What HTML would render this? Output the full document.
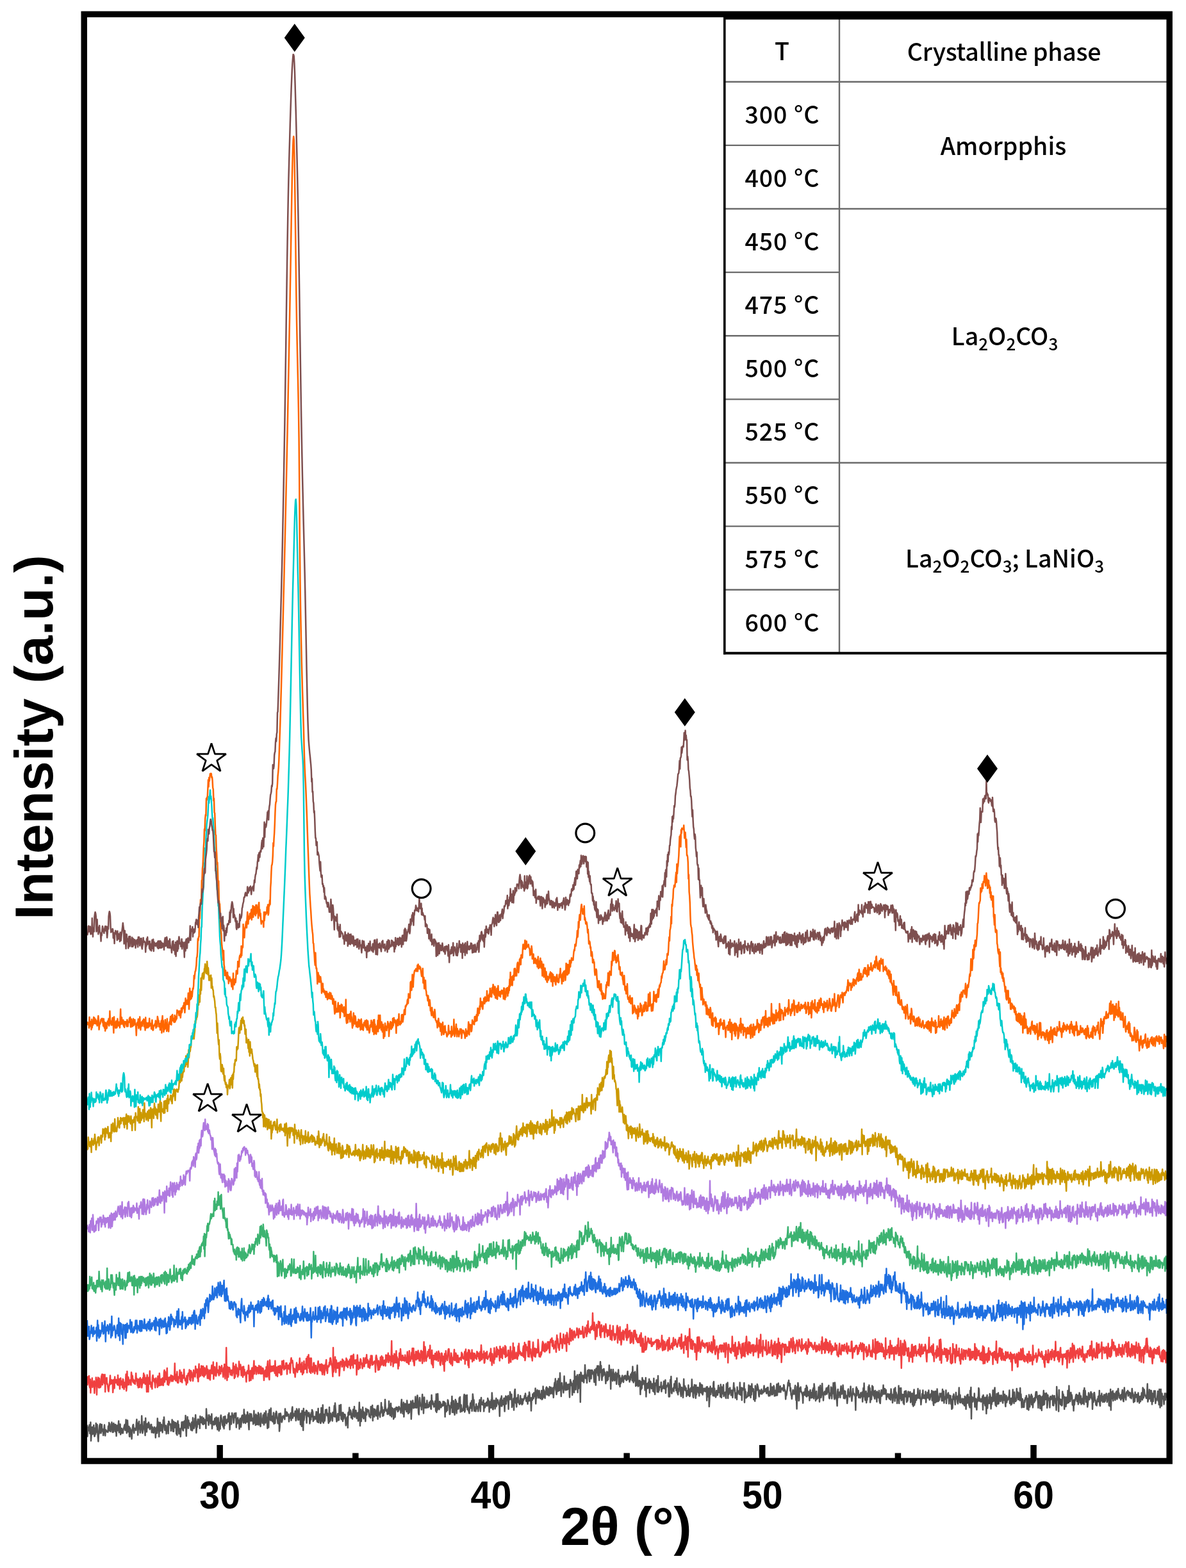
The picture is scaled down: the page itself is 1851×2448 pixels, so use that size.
<!DOCTYPE html>
<html><head><meta charset="utf-8"><title>XRD patterns</title>
<style>html,body{margin:0;padding:0;background:#fff;overflow:hidden;}svg{display:block;}</style>
</head><body>
<svg xmlns="http://www.w3.org/2000/svg" width="1851" height="2448" viewBox="0 0 1851 2448">
<rect width="1851" height="2448" fill="#fff"/>
<g fill="none" stroke-width="2.5" stroke-linejoin="round">
<path transform="translate(136,0) scale(0.6,0.5)" vector-effect="non-scaling-stroke" d="M0 4449 l1 36 1-29 1 8 1 3 1-9 1-9 1 27 1-4 1-31 1 58 1-19 1-23 1 22 1-23 1 10 1 11 1-27 1 24 1 11 1-1 1-25 1 19 1-34 1 20 1 8 1-24 1 17 1 24 1 12 1-25 1 1 1-25 1-3 1-3 1 27 1 2 1-19 1-8 1 20 1 1 1-6 1 19 1-19 1 1 1-15 1 17 1 17 1-18 1 0 1 5 1-2 1 3 1 0 1 1 1-19 1 15 1-26 1 25 1-21 1 16 1 8 1-13 1 7 1-23 1 10 1 21 1-25 1 25 1-28 1 6 1-2 1 15 1 7 1-22 1 12 1 24 1-29 1-4 1 16 1-8 1-7 1-15 1 36 1-19 1 8 1-15 1 32 1-7 1 3 1-15 1 8 1 5 1 2 1-10 1-5 1-4 1-5 1-3 1 18 1-9 1-24 1 25 1 17 1-18 1-22 1 24 1 12 1-8 1-9 1 31 1 1 1-27 1 12 1-6 1 5 1 23 1-22 1-10 1-10 1-3 1 11 1 16 1-12 1-3 1 3 1-3 1 6 1-22 1-12 1 21 1-10 1 38 1-24 1-2 1-17 1 24 1-12 1 24 1-4 1-22 1 16 1-43 1 28 1 26 1-6 1-7 1-4 1-19 1 1 1 21 1 21 1-54 1 38 1 0 1 5 1-25 1 5 1 7 1-14 1-3 1 5 1 11 1 6 1-6 1 1 1-10 1 0 1 25 1-16 1-1 1 14 1 4 1 0 1-11 1-7 1 5 1-2 1 30 1-28 1 4 1-9 1 19 1-46 1 33 1 5 1-26 1 45 1-32 1 0 1-12 1 26 1-9 1-11 1 11 1 6 1 8 1-14 1-25 1 14 1-23 1 21 1 20 1-4 1-8 1-3 1 26 1-18 1 9 1-7 1-15 1 30 1-38 1 1 1 10 1-4 1 2 1 0 1 21 1-13 1 4 1-26 1 10 1 26 1-31 1 32 1-30 1 18 1-15 1 14 1-15 1 8 1 27 1-32 1 36 1-34 1-10 1 17 1-6 1 29 1-12 1 4 1-8 1 25 1-23 1-3 1-19 1-1 1 15 1 10 1 2 1-28 1 20 1-3 1-20 1 22 1-38 1 34 1 30 1-47 1 14 1-27 1 16 1 20 1-25 1 14 1-5 1 0 1 8 1 3 1 10 1-5 1-19 1 26 1-2 1-38 1 30 1 2 1 1 1-6 1-25 1 14 1-25 1 26 1 30 1-19 1 2 1-18 1-7 1-1 1 16 1-13 1 2 1 24 1-38 1 4 1 11 1 5 1 0 1-18 1 22 1-5 1 7 1-20 1 18 1-1 1-12 1 6 1-5 1 26 1-61 1 23 1-4 1 18 1-5 1 4 1 15 1-32 1 11 1 8 1-14 1 22 1-1 1-14 1-15 1 46 1-16 1-1 1-5 1-1 1 11 1-11 1-9 1 18 1-9 1-11 1-2 1 28 1-7 1 18 1-34 1-3 1 15 1 26 1-23 1-3 1 20 1-36 1-7 1 7 1 6 1 9 1 9 1-9 1 15 1-32 1 37 1-37 1 27 1-29 1 18 1-4 1 6 1 3 1-13 1 1 1 7 1-23 1 7 1-12 1 22 1 30 1-20 1-22 1 2 1 23 1-20 1-15 1 8 1-1 1 1 1 23 1-9 1-21 1 13 1-8 1-1 1-5 1 45 1-28 1 12 1 4 1-18 1 13 1 0 1-5 1 27 1-26 1-7 1 12 1 15 1-10 1-21 1-5 1-1 1 4 1 18 1 2 1-42 1 30 1-15 1 25 1 3 1-23 1 4 1-7 1 22 1-31 1 7 1 6 1 26 1 16 1-33 1-17 1 18 1-13 1 18 1-22 1 10 1 5 1 7 1-8 1 18 1-15 1-27 1 38 1-17 1-5 1 29 1-34 1 15 1-11 1 28 1-23 1 8 1-22 1 38 1-34 1 27 1 2 1 2 1 8 1-41 1 21 1-3 1 4 1 9 1-14 1-12 1 9 1 22 1-37 1 17 1-14 1 28 1-37 1 18 1 2 1 4 1 30 1-11 1-35 1 43 1-46 1-9 1 5 1 23 1 5 1-38 1 36 1-9 1 13 1-15 1 17 1 1 1-29 1 35 1-16 1 7 1 7 1-31 1 12 1-18 1 6 1 17 1 1 1 13 1 1 1-19 1-12 1 55 1-14 1-31 1-11 1 7 1 9 1 12 1-3 1-7 1-9 1 5 1-6 1 5 1-3 1 9 1-33 1 21 1 1 1-12 1 13 1-12 1 5 1 5 1 1 1-5 1 23 1-12 1 1 1-1 1-12 1-3 1 23 1-16 1-20 1-6 1 35 1-15 1 9 1-6 1 2 1 3 1-15 1 17 1 13 1-4 1-33 1 5 1 1 1 14 1 15 1-7 1-28 1 24 1 10 1-17 1 32 1-35 1 25 1 16 1-49 1 13 1 12 1 36 1-68 1 37 1-9 1-10 1-6 1 4 1 3 1-13 1 39 1-37 1 10 1-4 1 4 1 7 1-12 1 7 1 27 1-9 1-19 1 16 1-22 1 13 1-22 1 3 1 4 1 29 1-12 1 8 1-11 1 3 1 1 1 4 1-8 1-15 1 2 1 27 1 3 1-12 1-30 1 44 1-17 1-5 1 1 1-6 1 29 1-1 1-47 1 22 1 6 1 14 1-51 1 55 1 1 1-27 1 4 1 17 1-12 1-23 1 2 1 2 1-5 1 19 1-7 1 7 1 9 1 15 1-21 1-29 1 45 1-21 1 17 1-22 1 11 1-6 1 1 1 18 1-27 1 12 1 0 1-12 1-21 1 35 1-43 1 18 1 14 1 12 1 14 1-9 1-3 1-13 1 21 1-20 1 19 1-46 1 18 1 5 1 8 1-33 1 44 1 2 1-3 1-18 1 27 1-27 1 20 1-13 1 0 1-2 1 2 1 15 1 18 1-13 1-8 1-3 1-3 1 34 1-46 1-3 1 9 1-23 1 19 1 3 1-14 1 6 1 18 1-13 1 4 1 13 1-22 1-8 1 15 1 6 1-30 1 33 1-13 1-1 1-7 1 10 1 15 1-6 1 4 1-16 1 26 1-4 1-18 1-36 1 37 1 36 1-38 1-13 1 37 1-32 1 15 1 4 1-31 1 22 1 14 1-21 1 13 1-9 1 14 1 11 1-40 1 11 1 9 1-14 1-3 1 6 1 1 1-5 1 13 1 7 1-1 1-2 1 7 1-35 1 17 1 4 1 5 1-30 1 48 1-38 1 15 1 7 1 4 1-24 1 2 1 12 1 3 1 4 1-13 1-9 1-9 1 41 1-42 1 28 1-6 1 6 1 3 1 5 1-19 1 6 1-32 1 27 1-14 1 10 1 19 1-15 1 13 1-18 1 8 1-11 1-29 1 24 1 6 1 6 1-2 1-2 1 14 1-4 1-15 1 18 1-40 1 23 1 2 1 20 1-26 1-12 1 22 1 20 1-28 1 4 1-2 1 3 1 30 1-4 1-21 1-8 1 27 1-24 1-1 1-6 1 1 1 7 1-7 1 13 1-9 1 6 1-13 1 3 1 5 1-2 1 0 1 14 1-30 1-12 1 36 1-14 1 22 1-20 1-15 1 45 1-24 1-12 1-5 1 18 1-17 1 14 1 10 1-35 1 14 1 11 1 16 1-10 1-19 1 26 1-26 1 3 1 7 1-20 1 56 1-26 1-13 1-11 1-8 1 20 1 4 1-15 1 3 1 10 1-9 1-25 1 34 1-6 1 7 1-21 1-18 1 11 1 21 1 24 1 4 1-28 1-25 1 16 1 10 1 0 1-5 1 17 1-31 1-17 1 17 1-4 1 46 1-33 1-17 1 28 1 5 1-13 1 2 1 11 1-2 1-21 1 17 1 5 1-8 1 7 1-4 1-11 1 1 1 11 1-16 1 23 1 2 1-44 1 27 1-9 1 2 1 10 1-4 1 11 1-3 1 1 1-16 1 6 1 25 1-53 1 57 1-31 1 24 1-51 1 29 1 18 1-10 1 12 1-25 1 4 1-1 1 16 1-1 1-7 1-2 1 0 1 5 1-14 1 12 1-1 1-10 1 5 1 42 1-43 1 14 1 13 1-8 1-10 1 14 1-33 1 3 1 11 1 3 1 1 1 27 1-2 1-24 1 5 1-16 1 17 1-36 1 50 1-26 1 15 1-25 1 37 1-11 1 18 1-25 1-23 1 11 1-6 1 38 1-30 1-1 1 18 1-4 1 3 1-14 1-20 1 9 1-12 1 47 1-5 1-17 1 13 1 7 1-7 1 4 1 0 1-11 1-32 1-7 1 55 1-4 1-48 1 37 1-15 1 5 1-28 1 45 1-11 1 12 1 3 1 3 1 5 1-19 1-1 1-12 1 16 1-10 1-13 1 32 1-7 1-46 1 11 1 22 1-15 1 35 1-13 1 3 1 5 1 6 1-23 1 13 1-6 1 8 1-4 1 12 1-12 1-14 1 8 1-18 1 20 1 16 1-29 1-14 1 21 1-6 1 7 1-8 1 9 1-15 1 35 1-25 1 10 1 3 1-13 1 8 1-9 1-3 1 3 1 9 1-24 1 5 1 1 1 3 1 34 1-28 1-4 1 6 1 13 1-25 1 24 1-46 1 19 1 32 1 1 1-17 1-11 1 17 1-17 1 26 1-5 1-6 1-22 1 25 1-17 1 0 1-3 1 4 1 8 1 4 1 0 1 35 1-51 1 20 1-25 1 6 1-13 1 32 1-13 1-2 1-4 1 14 1-20 1 13 1 28 1-36 1-7 1-5 1 25 1-11 1-11 1-1 1 11 1-14 1 42 1-31 1 0 1 1 1-24 1 5 1 15 1 4 1-16 1 40 1-17 1 11 1-2 1-19 1 36 1-31 1-28 1-6 1 32 1 11 1-11 1 23 1-28 1 12 1 2 1-24 1 18 1 1 1 9 1 2 1-3 1-24 1 20 1 4 1-14 1 18 1-8 1 5 1-15 1 5 1-4 1-2 1-9 1 4 1-11 1 12 1 12 1-1 1 2 1-12 1 20 1-25 1 16 1-5 1-23 1 7 1 20 1-10 1 3 1 38 1-35 1-6 1 8 1-19 1 6 1 8 1-18 1 11 1-3 1 4 1-26 1 48 1-26 1 9 1-22 1-4 1 17 1-5 1 13 1-22 1-1 1 17 1 5 1 3 1-14 1 4 1-15 1 28 1-3 1 0 1-38 1 34 1-23 1 17 1-2 1 11 1-20 1-3 1-9 1-3 1 24 1-21 1 21 1-15 1-3 1 21 1-2 1-26 1 11 1 2 1 9 1-20 1 4 1 4 1 10 1 3 1-20 1 31 1-19 1-17 1-11 1 14 1-26 1 35 1 4 1 10 1-11 1-31 1 19 1 13 1-39 1 18 1 19 1-8 1-47 1 38 1 7 1 28 1-35 1-7 1 15 1 1 1 3 1 12 1-21 1-31 1 32 1-1 1 13 1-3 1-21 1 20 1 3 1-17 1 15 1-10 1-1 1-5 1 13 1 28 1-33 1-22 1 12 1-5 1 12 1-7 1 36 1-24 1 15 1-36 1 7 1 30 1-67 1 40 1-23 1 41 1-41 1 15 1 1 1-21 1 55 1-36 1 24 1-33 1-11 1 22 1-1 1 65 1-93 1 2 1 11 1 12 1 3 1-18 1 4 1 11 1 7 1-24 1 9 1-40 1 24 1 18 1-7 1-3 1 24 1-27 1-12 1 17 1 0 1-19 1 28 1 9 1-32 1-4 1 10 1 17 1-25 1-2 1 1 1 11 1-1 1-5 1 18 1 14 1-39 1 22 1-11 1 37 1-52 1 7 1 6 1-21 1 17 1 13 1-30 1 22 1 23 1-33 1-3 1-22 1 33 1-21 1 31 1 15 1-15 1-18 1 20 1-15 1-8 1 9 1 10 1-8 1 13 1 22 1-20 1 2 1-19 1 28 1-13 1 10 1-24 1 14 1-35 1 27 1-6 1-2 1 55 1-61 1 19 1 0 1 10 1 7 1-36 1 10 1 3 1 19 1 3 1-18 1-2 1-6 1 19 1 18 1-18 1-14 1-2 1 2 1-13 1 46 1-22 1-6 1 35 1-27 1 17 1-16 1 11 1-14 1-6 1 11 1 4 1 6 1-12 1-6 1-2 1 9 1-10 1 2 1 12 1 1 1-1 1-17 1-10 1 24 1-2 1-7 1 9 1 9 1-14 1 8 1-18 1 10 1-8 1-8 1 26 1-44 1 38 1 12 1-5 1-26 1 25 1-28 1 13 1 32 1-17 1 15 1-41 1-22 1 38 1 28 1-4 1 2 1-16 1 1 1-1 1 43 1-38 1 23 1-25 1 21 1-33 1 8 1 13 1-13 1 3 1 4 1-5 1 29 1-5 1-34 1 59 1-40 1 1 1-2 1 15 1-2 1-17 1 8 1-18 1 43 1-36 1 0 1 2 1 14 1 7 1-15 1 5 1-5 1 23 1-12 1-28 1 43 1-15 1 22 1-35 1 2 1 4 1-16 1 14 1 23 1-8 1-42 1 51 1-13 1 7 1-11 1 2 1-1 1 0 1-15 1 29 1-11 1 2 1 0 1-9 1 3 1-17 1 22 1 1 1-7 1-20 1 41 1-20 1 2 1-4 1-3 1 2 1-9 1 7 1 36 1-11 1 11 1-36 1-17 1 8 1-18 1 51 1 2 1-14 1 3 1 0 1-7 1 12 1-24 1 8 1 5 1-22 1 10 1 20 1-1 1-38 1 46 1-8 1 14 1-19 1 9 1-26 1 15 1-11 1 7 1 23 1 7 1-22 1-6 1 16 1-4 1 20 1-17 1-41 1 33 1-5 1-6 1 14 1-2 1-6 1 26 1-16 1 1 1-3 1 14 1-31 1 31 1-19 1 23 1-1 1-12 1-13 1 10 1 1 1-38 1 29 1-5 1 29 1 4 1-33 1 3 1-10 1 21 1 8 1 13 1-41 1 30 1-15 1-7 1 5 1-6 1 17 1-6 1 16 1-23 1-18 1 12 1 18 1-25 1 4 1 24 1-26 1 30 1-6 1-13 1 8 1-7 1-2 1 5 1 5 1-2 1-8 1-4 1 42 1-43 1 13 1 18 1-2 1-24 1 57 1-23 1-28 1-12 1 25 1-11 1-1 1-7 1 3 1 10 1 10 1-40 1-4 1 45 1-24 1 20 1-7 1 15 1-4 1-17 1 2 1 7 1 5 1-18 1-12 1 22 1-2 1-2 1-11 1 28 1-38 1 17 1 24 1-33 1 21 1 0 1 0 1-28 1 36 1-12 1 5 1-2 1-4 1 16 1 3 1-45 1 15 1 8 1-27 1 49 1-30 1 18 1-5 1-7 1-9 1 9 1 6 1 9 1-13 1-3 1 2 1 21 1-14 1-13 1-19 1 23 1-7 1 7 1 24 1-9 1-6 1 2 1 18 1-39 1 22 1-9 1 4 1-1 1-5 1 12 1-37 1 33 1 6 1-22 1-1 1 39 1-38 1 7 1-5 1 2 1-1 1-19 1 61 1-42 1 15 1-7 1 20 1-2 1-1 1 0 1-4 1-11 1 12 1-34 1 33 1-2 1-5 1-23 1 36 1-33 1 24 1-34 1 23 1-6 1-2 1 1 1 33 1-24 1 5 1 24 1-48 1 40 1-26 1-3 1 3 1-19 1 4 1 5 1 8 1 17 1 5 1-20 1 10 1 1 1-9 1 6 1-11 1 15 1-10 1 3 1 3 1-1 1-12 1-9 1 18 1-7 1 0 1 6 1-8 1 15 1-1 1-17 1 17 1-18 1 23 1 4 1-14 1 12 1 1 1-8 1-30 1 26 1 1 1 8 1-24 1 23 1-5 1 0 1-22 1 5 1 27 1-4 1-13 1 16 1-11 1-9 1-16 1 35 1-16 1 5 1-27 1 17 1 11 1-8 1-6 1-5 1 19 1-9 1-3 1 4 1-5 1 4 1-4 1 9 1-19 1 3 1 16 1-3 1 4 1 25 1-17 1 5 1-9 1-8 1-9 1-14 1 6 1-13 1 17 1-6 1-1 1 23 1-9 1 22 1 1 1 11 1-11 1-7 1-10 1 13 1-9 1 1 1 8 1-20 1-7 1 27 1 19 1-9 1 36 1-69 1 10 1-22 1 11 1 45 1-3 1-36 1 10 1-7 1-7 1 15 1-1 1 5 1 3 1 6 1 22 1-33 1-1 1 3 1 6 1-8 1-12 1 7 1 17 1-34 1 35 1-30 1 27 1 0 1-13 1 5 1-3 1 26 1-29 1-4 1 15 1 10 1-10 1-7 1 16 1-24 1 0 1-6 1 33 1-46 1 12 1 21 1 2 1 18 1-18 1-12 1 25 1-4 1 1 1-1 1-7 1-27 1 6 1 40 1-26 1-25 1 26 1 12 1-8 1-5 1-31 1 32 1-3 1 24 1-22 1-1 1-5 1 4 1 6 1-11 1-5 1-5 1 19 1-7 1 1 1-16 1 9 1-14 1 38 1 3 1-10 1-7 1 7 1-26 1 2 1 34 1-30 1 14 1-9 1-24 1 24 1 20 1 7 1-52 1 13 1 14 1 21 1 3 1 5 1 17 1-44 1-8 1 26 1-16 1 4 1-5 1 0 1 17 1-26 1-10 1 14 1 11 1-5 1 2 1-25 1 15 1 26 1-16 1-7 1 24 1-23 1 18 1-5 1 1 1 8 1 16 1-13 1-28 1-4 1 11 1 2 1 12 1-9 1 3 1-27 1 23 1 8 1 15 1-12 1-9 1-18 1 16 1 1 1-2 1 4 1 4 1 0 1 44 1-64 1-8 1 27 1-22 1 14 1 2 1-10 1 22 1-2 1-7 1 6 1 4 1-16 1 12 1-6 1-2 1-6 1 30 1-20 1-23 1 26 1-41 1 38 1 7 1 8 1-16 1-12 1 36 1-13 1 4 1-21 1 12 1-32 1 30 1-35 1 15 1-6 1 45 1-13 1-20 1 24 1-15 1-28 1 21 1-18 1 25 1 4 1-15 1 21 1 3 1-26 1 20 1-9 1-6 1 30 1-32 1 4 1 4 1 9 1 3 1-23 1 31 1 6 1 3 1-25 1-9 1-8 1 19 1-5 1 0 1-8 1-21 1 26 1 2 1-3 1-14 1 15 1 2 1-13 1 30 1-15 1 2 1 4 1-9 1 2 1 9 1 3 1 2 1-15 1 13 1 5 1-34 1 13 1 5 1 1 1 24 1-8 1-18 1 1 1-18 1 6 1 32 1-42 1 32 1-18 1 5 1 3 1 27 1-21 1 3 1 7 1-44 1 55 1-48 1 13 1 20 1-26 1-7 1 39 1-20 1 17 1-6 1-9 1 26 1-27 1 31 1-39 1-2 1 5 1 12 1-18 1 6 1 29 1-17 1 13 1-11 1-18 1 3 1 13 1-1 1-8 1-6 1 33 1-6 1-10 1-12 1 2 1 33 1-35 1 40 1-41 1-11 1 48 1-29 1 22 1-14 1-10 1 16 1-16 1 10 1-8 1-22 1 29 1-12 1 5 1 8 1-25 1 26 1 1 1 18 1-15 1-3 1-16 1 8 1-19 1 25 1-8 1-2 1 5 1 6 1-3 1-19 1 34 1-18 1 4 1-4 1-13 1 17 1-9 1-15 1 22 1 8 1-1 1-6 1-11 1 4 1 3 1-18 1 31 1-10 1-18 1 37 1 6 1-43 1 15 1-9 1 29 1-36 1 25 1-1 1 9 1-40 1 15 1 8 1 16 1-12 1 9 1-4 1-18 1 11 1-4 1 1 1-8 1 23 1-6 1-30 1 36 1-23 1-7 1 37 1-17 1 5 1-8 1 3 1-23 1 41 1-27 1 10 1-1 1-12 1-3 1 14 1 20 1-26 1 1 1 9 1-9 1 26 1-12 1 28 1-31 1 28 1-38 1 11 1-17 1 9 1 1 1 12 1 11 1-22 1-16 1 20 1-3 1-4 1 18 1 4 1-25 1 0 1-25 1 27 1 19 1-23 1 24 1-3 1 0 1 0 1-10 1 15 1 1 1-10 1-5 1 18 1 3 1-29 1 20 1-11 1 31 1-36 1-4 1-4 1 25 1-27 1 23 1-15 1 25 1 3 1 5 1-53 1 7 1-17 1 98 1-69 1 2 1 6 1 8 1-13 1 6 1-1 1-18 1 42 1-1 1-23 1-2 1 27 1 8 1-32 1 7 1-14 1 10 1-39 1 4 1 37 1-9 1 8 1-4 1 7 1-2 1-8 1 8 1-15 1 42 1-46 1 8 1 17 1-17 1 18 1 7 1-9 1-17 1 51 1-39 1-19 1 41 1-25 1 6 1 4 1-20 1 20 1-30 1 4 1 8 1 35 1-21 1 7 1-22 1 14 1-36 1 25 1 9 1-13 1-20 1-9 1 45 1 10 1-24 1 27 1-39 1 26 1-5 1 11 1-35 1 34 1-12 1-14 1 6 1 3 1 10 1-19 1 0 1 13 1-2 1 8 1 5 1-37 1 24 1 4 1-3 1-15 1 24 1 14 1-26 1-8 1 21 1-10 1 1 1 1 1-9 1 6 1-10 1-17 1 41 1-10 1-5 1 20 1-21 1 18 1-4 1-16 1-25 1 36 1-4 1 11 1-35 1 20 1 4 1 5 1-6 1 3 1-37 1 28 1-5 1-12 1 23 1-7 1-11 1-3 1 24 1-39 1 33 1-14 1 17 1 25 1-12 1-15 1 21 1 5 1-12 1 12 1-22 1 6 1-10 1-4 1 5 1-11 1 10 1 32 1-21 1-12 1 26 1 10 1-48 1 5 1 33 1-22 1 1 1-10 1-8 1 32 1-27 1 18 1 18 1-18 1-10 1 12 1-1 1-14 1 10 1-20 1-8 1 17 1-17 1 16 1 7 1 4 1 23 1-38 1 6 1 0 1-7 1 41 1-38 1 5 1 3 1 36 1-38 1-6 1 28 1-26 1-20 1 44 1-2 1-33 1 3 1 16 1-13 1-7 1 4 1 42 1-10 1-30 1 13 1 3 1-6 1 4 1 25 1-33 1-2 1 10 1-8 1 3 1 0 1-8 1 31 1-26 1 27 1-30 1-1 1 16 1-7 1 16 1-3 1 23 1-73 1 27 1 14 1-3 1 1 1 38 1-67 1 41 1-13 1 3 1 15 1-16 1 12 1 7 1-1 1-43 1 17 1-9 1 7 1 8 1 32 1-38 1 5 1 2 1 23 1-29 1 14 1 5 1-3 1-37 1 10 1 28 1-53 1 40 1-18 1 27 1-7 1-21 1 18 1-11 1 7 1 25 1-14 1 1 1 31 1-34 1 16 1-12 1-2 1-9 1-7 1-3 1 2 1 20 1-2 1-17 1 28 1-26 1 4 1-14 1 7 1 24 1-6 1-15 1 26 1-18 1 1 1 14 1-8 1-11 1-22 1 44 1-51 1 24 1-16 1 16 1 20 1-16 1-2 1 5 1 28 1-8 1-16 1-20 1 11 1 10 1-8 1 2 1-13 1-5 1 4 1 18 1-16 1 48 1-28 1 2 1 4 1-28 1-2 1 13 1 12 1-1 1 15 1-3 1 5 1-9 1-12 1 8 1-15 1-2 1 18 1-35 1 42 1 6 1-32 1 17 1-8 1-16 1 18 1 3 1 6 1-18 1 6 1-11 1 23 1-16 1 13 1-21 1 11 1-14 1 2 1 25 1-18 1 1 1 11 1-21 1 38 1-38 1 2 1 38 1-53 1 65 1-37 1 2 1-22 1 17 1-20 1 31 1-18 1-5 1 2 1 3 1 16 1-8 1-16 1-1 1-3 1 25 1-4 1-22 1-7 1 21 1-7 1 15 1-9 1 6 1 6 1 3 1-17 1 13 1-18 1-9 1 20 1 13 1 3 1-21 1-22 1 28 1-8 1 12 1 6 1-21 1-4 1 5 1-4 1-5 1 17 1-13 1 6 1 0 1-4 1 16 1-14 1 5 1 12 1-13 1-18 1 14 1 0 1 15 1 14 1-20 1-4 1 21 1-29 1 14 1 2 1-7 1-2 1 5 1 18 1-12 1-16 1 12 1 9 1 11 1-13 1-8 1 16 1-6 1-10 1-11 1 10 1 12 1-38 1 4 1 28 1-27 1 3 1 15 1 0 1 4 1 1 1 5 1-8 1-10 1-27 1 56 1-6 1-3 1-8 1-21 1 28 1-7 1-18 1 33 1-33 1 13 1 30 1-34 1 14 1 11 1-14 1-19 1 13 1 6 1-19 1 39 1-14 1 5 1-6 1 2 1-10 1-15 1 30 1-9 1 21 1-48 1 30 1 27 1-47 1-10 1 32 1 20 1-39 1 17 1-3 1-5 1 5 1 20 1-15 1-19 1 10 1 10 1-20 1 10 1 4" stroke="#555555"/>
<path transform="translate(136,0) scale(0.6,0.5)" vector-effect="non-scaling-stroke" d="M0 4298 l1 26 1-25 1 19 1-15 1-7 1 32 1 5 1-26 1 42 1-29 1 5 1-5 1-17 1 29 1-12 1 5 1-5 1-8 1 38 1-26 1-9 1 12 1-26 1 22 1 32 1-47 1 20 1-27 1 17 1 15 1-30 1 2 1 28 1-12 1 10 1-7 1-25 1-5 1-3 1 33 1-27 1-5 1 17 1 6 1 5 1-28 1 54 1-43 1 15 1-2 1-14 1 20 1-1 1 11 1 10 1 3 1-16 1-4 1-14 1-16 1 27 1-14 1 4 1-3 1 12 1-11 1 38 1-20 1-20 1 13 1 14 1-36 1 19 1-10 1 8 1-8 1 10 1 3 1 3 1-30 1 31 1-10 1-9 1 8 1 23 1-25 1-9 1 21 1-12 1 12 1-6 1 15 1-27 1 3 1 20 1 9 1-21 1 14 1-10 1-7 1-23 1 52 1-13 1-48 1 43 1-20 1-5 1 6 1 18 1-12 1-2 1 1 1-3 1 17 1-40 1 9 1 16 1-14 1 19 1-8 1 11 1-8 1 10 1-8 1 10 1-15 1-19 1 24 1 0 1-7 1 21 1-7 1 14 1-26 1-1 1 13 1 13 1-30 1 16 1-7 1-4 1 26 1-10 1-2 1-19 1 9 1-23 1 30 1-25 1 14 1 15 1-15 1 6 1-12 1 45 1-53 1 9 1 6 1 38 1-44 1 9 1 10 1-40 1 41 1-7 1 16 1 0 1-14 1 20 1-36 1-7 1 12 1 6 1-7 1 10 1 3 1 15 1-26 1-4 1 13 1-4 1 5 1 15 1-35 1 22 1 8 1-1 1-38 1 16 1 22 1-18 1 6 1-8 1 19 1-14 1-8 1 5 1 18 1-14 1-28 1-6 1 37 1-32 1 24 1-12 1 13 1-14 1-22 1 51 1-20 1-2 1 24 1-13 1 6 1-18 1 4 1 4 1-14 1 19 1-5 1-11 1-1 1 17 1-14 1 8 1-2 1-7 1-41 1 48 1 6 1-19 1-1 1 21 1-29 1 34 1-10 1 11 1-19 1 2 1 2 1-25 1 9 1 27 1-25 1-4 1 18 1 14 1-20 1-3 1 3 1 6 1-27 1 26 1 0 1 9 1 0 1-6 1 19 1-28 1-1 1 23 1-21 1-9 1 0 1 7 1-18 1 31 1-9 1 13 1-32 1 9 1-4 1 16 1-2 1 13 1-9 1-25 1 19 1-3 1-2 1 7 1-33 1 17 1 3 1-6 1-5 1 28 1 0 1 11 1-36 1-19 1 40 1-14 1-10 1 21 1-9 1-22 1 24 1-23 1 29 1-25 1-4 1 30 1 3 1-16 1-12 1 23 1-6 1 1 1-9 1-15 1 14 1 25 1-28 1 7 1 1 1 21 1-17 1-10 1 31 1-23 1 2 1-13 1-12 1 26 1-10 1 8 1-34 1 53 1-23 1 11 1-26 1 16 1 1 1 12 1-4 1-38 1 30 1-1 1-6 1 7 1 5 1 5 1-29 1 4 1 12 1 8 1-21 1 12 1-17 1 18 1-3 1 9 1 12 1-29 1 16 1-27 1 25 1 20 1-45 1 14 1-66 1 79 1 23 1-42 1 17 1 15 1-30 1 14 1-14 1 4 1 7 1 12 1-9 1-4 1-2 1 17 1-7 1-2 1-30 1 22 1-12 1 38 1-14 1 10 1-31 1-9 1 10 1 19 1-18 1 19 1 9 1-23 1 18 1-43 1 13 1 8 1 4 1-15 1 14 1 20 1-3 1-6 1-18 1 32 1-11 1-22 1 27 1-18 1 12 1-3 1 3 1 13 1 14 1-29 1-4 1-2 1 7 1 2 1-26 1 19 1 30 1-21 1 5 1-16 1 30 1-21 1-12 1-6 1 16 1 18 1-33 1-5 1-18 1 41 1-24 1 4 1-4 1 2 1 23 1-21 1 12 1-12 1 5 1 14 1-1 1-24 1 16 1-13 1 22 1-18 1-4 1 23 1-19 1 10 1 8 1-17 1 3 1 12 1 23 1-17 1-4 1-10 1-1 1 21 1-31 1 1 1 30 1-38 1-11 1 35 1 7 1 10 1 6 1-61 1 28 1-2 1 10 1-17 1 12 1 3 1-1 1-14 1 15 1-16 1 0 1 8 1 15 1-39 1 27 1 19 1-16 1-10 1 11 1 18 1-24 1-8 1 20 1-14 1-6 1 21 1-23 1 7 1 22 1-16 1 15 1-42 1 4 1 9 1 9 1-24 1 29 1-11 1 0 1 8 1-4 1-14 1 14 1-14 1 35 1-25 1 3 1-6 1 9 1 3 1-5 1-13 1 30 1-16 1-26 1-5 1 15 1 0 1-7 1 9 1 18 1 12 1-14 1 1 1 11 1 15 1-15 1-7 1-11 1-12 1 20 1 10 1-12 1-12 1 16 1-10 1-7 1-19 1 35 1-17 1 25 1-25 1 10 1-15 1 38 1-6 1-19 1 20 1-37 1 26 1-16 1 5 1-4 1 14 1-33 1 19 1 25 1-50 1 28 1-16 1-18 1 42 1-12 1 24 1-43 1 31 1 16 1-47 1 40 1-5 1-7 1 16 1-10 1-19 1-1 1 9 1 25 1-25 1 14 1-14 1 17 1-8 1 10 1 8 1-32 1-9 1 14 1 1 1 4 1 10 1-19 1 5 1 1 1 15 1-22 1 23 1 10 1-30 1 23 1-12 1-9 1 29 1-11 1-21 1 12 1-17 1-10 1 34 1-15 1 23 1-21 1 2 1-6 1 4 1-13 1 8 1-21 1-1 1 6 1 10 1 7 1-1 1 18 1 18 1-90 1 76 1-7 1-21 1 10 1-29 1 23 1 25 1-38 1 8 1 9 1 8 1-8 1-8 1 16 1-17 1 41 1-16 1-16 1-13 1 3 1-2 1 5 1 11 1-24 1 20 1-2 1-14 1 31 1-11 1-2 1-13 1-2 1 11 1-21 1 25 1-21 1 15 1 10 1-13 1-6 1-1 1 12 1-17 1 14 1 14 1-39 1 15 1 14 1-30 1 12 1-3 1 29 1-42 1 28 1-2 1 3 1-11 1 12 1-8 1-5 1 47 1-22 1-40 1 16 1 16 1 13 1-22 1 12 1-7 1 13 1-29 1 3 1 14 1 0 1-3 1 16 1-8 1-8 1-17 1 25 1 2 1-21 1 8 1-14 1 17 1-5 1-22 1 25 1-5 1-4 1 23 1-8 1 5 1-16 1 22 1-29 1 21 1-31 1 24 1-18 1-6 1 29 1-6 1 4 1-7 1 3 1-4 1-2 1 5 1 29 1-46 1-6 1 7 1 4 1 16 1 8 1 11 1-29 1 12 1 16 1-17 1 9 1-31 1 25 1-1 1-28 1 18 1 7 1-21 1 25 1 1 1-10 1-5 1-2 1 8 1 10 1-34 1 21 1 1 1-16 1-6 1 15 1-21 1 29 1-10 1-11 1 15 1-12 1 1 1 26 1-27 1-49 1 64 1-19 1 2 1 33 1-22 1 12 1-30 1 4 1 3 1 21 1-19 1-18 1 37 1-18 1 8 1 10 1 19 1-31 1 22 1-40 1 20 1 2 1-35 1 17 1 3 1 17 1-14 1 1 1-4 1 16 1-8 1 0 1-2 1 12 1-19 1 9 1 0 1 5 1 9 1-9 1-24 1 32 1 3 1 1 1 3 1-42 1 19 1 13 1 0 1-13 1 3 1-17 1 20 1-33 1 25 1 16 1-41 1 45 1 9 1-20 1-14 1 0 1-10 1 26 1-25 1 18 1-18 1 22 1-26 1 17 1-9 1 24 1-20 1 4 1 17 1-31 1-2 1 16 1-13 1 37 1-21 1 1 1-8 1-39 1 61 1-19 1-27 1 13 1 15 1 17 1-13 1 1 1-1 1-17 1 4 1 9 1-19 1 19 1 9 1-41 1 29 1 0 1 5 1 23 1-42 1 46 1-17 1 25 1-38 1 10 1-6 1 9 1-19 1 2 1 8 1 11 1-26 1 13 1-4 1 13 1 7 1-31 1 7 1 9 1-9 1 33 1 4 1-13 1-3 1-22 1 2 1 19 1 14 1-25 1 9 1 18 1 19 1-54 1 17 1 7 1-33 1 16 1 9 1-9 1 14 1-12 1-19 1-5 1 0 1 11 1 31 1-9 1 3 1 11 1-34 1 9 1 9 1 21 1-19 1-6 1 6 1-16 1-15 1 34 1-13 1 12 1-22 1 4 1 23 1-8 1 10 1-22 1 10 1 9 1 3 1-13 1 4 1-5 1-1 1 1 1 7 1-24 1 17 1-13 1 14 1-4 1 6 1-6 1 1 1-17 1 38 1-38 1-8 1 31 1 3 1-10 1-3 1-11 1 40 1-48 1 55 1-54 1 7 1 11 1-3 1 12 1-18 1 7 1-17 1 37 1-20 1-7 1 11 1 12 1-8 1-14 1 11 1 3 1 1 1-10 1 13 1-24 1 16 1-13 1 12 1-9 1 17 1-14 1 21 1-29 1 27 1-26 1-22 1 20 1 25 1-9 1 4 1-12 1 12 1-21 1 37 1-2 1-15 1-14 1-1 1 17 1-4 1-17 1 22 1 2 1-4 1-2 1-3 1-3 1-4 1-4 1 25 1-38 1 22 1 10 1 20 1-36 1 23 1-1 1-5 1 13 1-48 1 36 1-15 1 7 1-7 1-10 1-14 1 31 1-9 1-15 1 16 1-13 1 3 1 14 1 16 1-45 1 25 1 9 1-26 1 13 1 9 1 8 1-29 1-6 1 13 1 2 1 6 1 1 1-27 1 36 1-33 1 28 1 2 1-2 1-1 1 0 1-15 1-1 1 40 1-7 1-3 1-8 1-33 1 48 1-29 1 3 1 10 1-19 1 27 1-51 1 49 1-9 1-27 1 31 1 4 1-5 1 2 1-16 1 18 1 0 1 3 1-9 1-32 1 30 1-38 1 20 1 9 1 3 1-6 1 8 1 3 1-5 1-2 1 4 1 5 1-23 1-8 1 35 1-13 1-33 1 56 1-9 1-41 1 9 1 9 1-10 1 8 1 7 1 15 1-48 1 35 1 14 1-49 1 38 1-6 1-7 1 18 1 8 1-3 1 13 1-39 1-19 1 21 1 10 1 13 1-9 1-16 1 27 1-9 1-7 1-9 1 10 1 2 1-8 1-33 1 20 1 18 1 15 1-6 1-1 1 8 1-15 1 9 1-5 1-11 1-16 1-10 1 28 1-24 1 15 1 12 1-21 1 22 1-12 1-14 1 20 1 2 1-17 1 13 1-23 1 17 1 2 1-19 1 15 1 19 1-30 1-7 1-5 1 9 1-5 1-8 1 24 1 2 1-18 1 14 1 12 1-9 1-3 1 7 1-19 1 21 1 13 1-36 1-17 1 15 1-4 1 16 1 13 1-9 1 16 1-19 1-5 1-29 1 32 1-15 1 1 1 3 1 26 1-11 1-12 1-21 1 13 1 2 1 15 1-5 1-1 1-21 1 26 1 24 1-58 1 5 1 14 1 12 1-10 1-3 1 19 1-36 1-14 1 6 1 32 1 1 1-19 1-15 1 7 1 17 1 7 1-22 1-4 1-2 1 4 1 17 1-7 1 1 1-4 1 1 1-21 1 2 1 19 1 0 1 9 1-17 1-11 1 8 1-1 1 10 1-10 1 9 1 0 1-1 1 0 1-22 1 29 1 6 1-12 1 11 1-17 1-14 1 15 1-9 1-2 1 24 1-35 1 27 1-24 1-16 1 33 1-9 1 1 1 1 1 11 1-11 1-8 1 2 1 7 1-14 1 12 1-50 1 43 1 1 1 10 1-25 1 12 1 15 1 26 1-36 1 6 1-16 1 37 1-33 1 0 1 6 1-20 1 4 1 10 1-12 1 42 1-31 1 37 1-26 1-13 1 13 1 8 1-9 1 7 1-9 1-7 1 11 1 25 1-28 1 5 1-19 1 8 1 19 1-9 1 21 1-2 1-18 1 5 1 11 1-3 1-8 1-20 1 44 1-18 1 3 1-12 1 30 1-21 1 5 1-29 1 21 1 5 1 7 1 11 1-19 1 17 1-16 1 0 1 2 1-22 1-7 1 54 1-48 1 16 1 16 1-17 1 24 1-41 1 28 1 7 1 21 1-10 1-29 1 21 1-7 1-20 1 5 1 25 1-18 1-8 1 4 1-8 1-4 1 26 1 1 1 8 1-49 1 21 1 20 1-3 1-4 1-14 1 13 1-15 1 40 1-11 1-22 1 30 1-30 1 22 1-5 1-7 1 24 1-40 1 18 1 1 1-20 1 5 1 22 1 2 1-16 1 21 1 0 1 4 1-13 1 3 1 10 1-15 1-3 1-5 1 24 1 10 1-41 1 22 1 14 1 24 1-29 1-14 1 21 1 22 1-25 1 5 1 14 1-43 1 31 1 10 1-6 1-11 1-7 1-2 1-10 1 11 1-9 1 14 1-1 1-5 1 2 1 6 1-17 1 25 1-6 1 5 1-12 1 2 1 4 1 0 1-7 1 1 1-2 1 2 1-5 1-1 1-2 1 31 1-27 1 7 1-11 1 14 1 15 1-26 1 12 1-3 1 12 1-12 1-1 1-1 1-23 1 39 1 8 1-32 1 22 1-11 1 19 1-26 1 13 1 11 1-10 1 0 1-7 1-7 1 9 1-14 1 34 1-14 1-9 1-18 1 34 1 3 1-11 1 5 1 0 1-11 1-3 1 5 1 14 1-23 1-13 1 25 1 0 1-6 1 3 1-17 1 4 1 6 1 4 1 8 1 2 1-6 1-5 1-11 1 7 1-14 1 11 1 14 1 2 1-28 1 36 1-46 1 44 1-14 1-2 1 7 1-10 1 34 1-35 1 2 1 8 1-29 1 23 1-16 1 36 1-24 1 5 1-21 1 63 1-63 1 4 1 9 1-38 1 31 1 12 1 19 1 0 1-29 1 8 1 23 1 0 1-26 1 8 1 3 1 2 1-4 1 26 1-25 1 18 1-2 1 33 1-26 1-44 1 34 1-35 1 44 1-21 1-23 1 15 1 8 1 24 1-17 1 5 1-20 1 8 1-13 1 14 1 2 1 3 1-10 1 8 1-3 1 10 1-12 1 1 1-4 1 3 1 6 1-10 1 30 1-3 1-8 1 5 1-25 1 8 1 2 1 9 1 8 1 1 1-30 1 19 1 15 1-18 1 10 1-44 1 39 1-4 1-23 1 37 1 8 1-7 1-15 1 2 1-6 1 16 1-1 1 25 1-31 1 12 1-15 1-7 1 10 1-12 1 0 1 21 1 0 1-20 1-1 1 9 1-7 1 19 1-14 1-13 1 6 1 17 1 21 1-20 1-25 1 6 1 14 1-4 1 5 1 41 1-57 1 0 1 12 1 2 1 2 1 8 1-12 1 15 1-10 1 1 1-43 1 27 1 6 1 14 1-17 1-4 1 3 1 32 1-42 1 24 1-4 1 31 1-22 1-14 1 16 1 6 1-22 1-17 1 6 1 16 1-14 1 15 1 13 1-12 1 26 1-30 1-14 1 18 1 20 1-40 1 24 1 15 1-18 1 21 1-44 1 27 1-29 1-17 1 20 1 33 1-10 1 14 1-29 1-11 1 33 1-20 1-11 1 30 1 3 1-23 1 12 1 5 1-20 1 2 1 14 1 18 1-34 1 23 1-2 1-6 1-5 1-8 1 20 1-11 1-31 1 37 1-15 1 9 1 29 1-23 1-32 1 22 1-10 1 29 1-58 1 52 1-7 1-6 1 11 1 18 1-49 1 18 1 6 1 1 1-4 1 10 1-5 1-7 1-20 1 34 1 11 1-4 1-10 1 10 1-36 1 31 1-6 1-6 1 16 1-18 1-3 1-8 1-11 1 18 1 30 1 1 1-33 1 10 1 18 1-34 1 7 1-13 1 41 1-31 1 4 1 4 1-11 1 46 1-19 1 13 1-57 1 47 1-21 1-13 1 16 1 21 1-6 1-23 1 54 1-19 1-39 1-1 1 3 1 8 1-6 1-2 1 33 1-33 1 11 1-11 1 5 1 20 1-16 1 11 1-12 1 16 1-16 1 17 1-34 1 33 1-9 1-19 1 4 1-18 1 23 1 6 1-10 1 22 1-44 1 26 1-14 1 10 1 19 1-12 1 20 1-25 1-4 1 5 1-17 1 9 1 11 1 13 1-26 1 1 1-10 1 3 1 18 1 1 1 4 1-8 1 18 1-38 1 23 1 10 1-14 1 11 1-9 1-2 1 7 1-11 1 9 1 9 1-24 1 25 1 7 1 6 1-27 1 20 1-40 1 6 1 20 1-16 1 2 1-1 1 10 1-5 1-4 1 13 1-7 1 7 1 5 1 3 1-10 1-3 1 0 1-9 1 21 1-7 1 15 1-10 1-10 1 18 1-16 1 3 1 8 1-3 1-14 1 20 1-4 1-5 1-5 1 8 1-23 1 38 1-51 1 20 1 0 1 19 1-5 1 4 1-21 1 33 1-4 1-40 1 31 1-29 1 19 1 14 1-7 1-17 1 9 1 23 1-12 1 7 1-32 1 30 1-5 1-15 1 32 1-20 1 13 1-19 1 13 1 1 1-8 1 3 1 3 1-5 1-16 1 21 1-6 1 5 1-14 1 31 1-8 1 7 1 6 1-11 1-17 1-13 1 32 1-11 1 7 1 7 1-20 1-10 1 18 1-12 1-5 1 16 1-8 1 10 1-21 1 13 1-2 1 3 1-7 1 16 1-27 1 24 1 9 1-15 1 2 1-11 1 13 1 3 1-4 1 3 1 2 1-4 1-27 1-1 1 24 1 29 1-14 1-14 1-2 1-3 1 13 1-12 1 5 1-12 1 6 1-7 1 2 1 6 1 20 1-11 1 9 1-19 1 12 1-20 1 11 1-1 1-17 1 21 1-16 1 22 1-14 1-12 1 4 1 4 1 43 1-47 1 11 1 7 1-4 1 1 1 10 1-18 1 31 1-4 1-15 1 15 1-16 1-7 1-10 1 7 1 16 1-3 1 16 1-1 1-8 1-10 1 21 1-23 1-30 1 27 1 10 1 1 1 0 1 3 1-44 1 63 1-22 1-6 1-26 1 35 1-24 1-12 1 33 1 0 1-9 1-19 1 26 1-4 1 3 1 1 1-25 1 26 1-23 1 23 1-11 1-2 1 28 1-18 1-1 1 8 1 18 1-65 1 44 1-6 1 14 1-14 1-1 1 8 1-8 1-11 1 12 1 24 1-16 1-38 1 27 1-10 1 25 1-27 1 14 1 8 1 4 1-19 1 12 1 26 1-38 1 9 1-12 1 9 1 14 1-10 1 8 1-26 1 19 1-6 1-34 1 53 1-13 1-10 1 23 1-7 1-39 1 38 1 48 1-50 1 7 1-34 1 2 1 2 1 33 1-2 1-45 1 45 1-40 1 9 1 18 1-8 1 8 1 4 1 13 1-22 1-3 1 0 1 42 1-17 1 1 1-9 1-4 1 16 1-20 1-19 1-1 1 55 1-48 1 5 1 7 1 17 1-30 1 10 1 11 1-23 1 18 1 14 1-11 1-2 1 5 1-7 1-5 1-1 1 18 1-34 1 6 1 28 1 5 1-15 1-13 1-10 1 30 1-6 1 3 1 1 1-20 1 3 1 9 1-1 1-19 1 5 1 14 1 22 1 13 1-29 1-7 1 8 1-3 1-13 1-32 1 47 1-11 1 8 1-13 1 9 1 7 1-21 1 9 1 18 1 3 1-35 1 35 1 19 1-20 1-3 1-4 1 4 1-12 1 24 1-18 1-19 1 27 1 5 1-6 1-19 1 22 1-48 1 63 1-16 1-49 1 14 1 60 1-29 1-13 1 15 1-8 1 1 1 7 1 0 1-19 1 19 1-1 1-16 1 26 1-5 1-21 1 38 1-16 1 11 1-29 1 4 1 8 1-9 1 5 1-16 1 47 1-21 1 24 1-7 1-24 1 28 1-59 1 27 1-2 1 6 1-15 1 28 1 15 1-23 1 5 1-38 1 19 1 16 1-14 1 13 1-9 1 10 1-24 1 26 1 13 1-10 1 20 1-31 1 14 1-30 1 31 1-6 1-10 1 19 1-31 1 12 1 8 1-18 1 0 1 27 1-22 1-6 1 8 1-1 1-3 1 15 1-19 1-5 1 21 1-2 1 17 1-34 1 10 1 22 1-9 1-13 1-3 1 20 1-10 1-10 1 5 1 0 1 19 1-48 1 27 1 24 1-39 1 19 1 15 1-29 1 11 1-5 1 14 1-11 1-5 1 15 1 2 1 12 1-20 1 3 1-6 1 24 1 1 1-28 1-17 1 55 1-52 1 2 1 16 1 33 1-10 1-19 1 13 1-12 1 18 1-21 1 27 1-13 1-16 1-15 1 38 1-8 1-20 1 1 1 5 1 2 1 2 1 3 1-1 1-7 1 36 1-32 1-5 1 16 1-19 1 18 1-4 1 12 1-27 1-31 1 60 1-18 1 26 1-14 1-16 1 11 1-20 1-8 1 24 1 1 1-24 1 33 1-3 1 7 1-34 1 28 1-16 1 1 1 21 1-13 1 7 1 4 1 3 1-27 1 0 1 17 1 3 1-17 1 15 1-17 1 8 1 2 1 5 1 6 1-13 1 7 1-14 1 29 1-4 1-20 1 51 1-45 1-2 1-2 1 11 1-3 1-10 1 15 1 7 1 6 1-12 1-11 1-6 1 17 1 24 1-1 1-34 1-10 1 2 1 17 1 4 1-18 1-6 1-10 1 34 1-30 1 28 1-10 1-24 1 11 1 28 1-12 1-5 1 20 1-17 1 2 1 0 1-1 1 14 1-22 1 22 1 5 1-27 1 14 1-22 1 16 1 15 1-3 1-18 1 19 1-7 1-5 1 0 1 24 1-60 1 26 1 20 1-13 1 6 1-1 1-7 1 3 1-10 1 10 1 18 1-5 1-6 1-10 1-2 1-17 1 20 1-11 1 4 1 4 1 6 1 1 1-2 1-15 1 9 1 15 1-11 1 7 1-4 1 19 1 2 1 12 1-39 1 16 1-28 1 27 1-4 1-11 1 24 1-16 1-23 1 40 1-16 1 7 1-19 1-1 1-6 1 1 1 24 1-2 1-29 1 21 1 1 1-11 1 14 1-21 1 30 1-17 1 6 1-48 1 39 1 6 1-9 1 6 1-10 1 24 1-25 1 9 1 23 1-4 1-15 1-17 1-8 1 30 1-2 1-7 1 0 1 32 1-16 1-12 1-3 1-2 1 9 1-7 1 5 1-8 1 16 1-7 1-18 1 53 1-35 1-9 1-11 1 18 1-10 1 31 1-16 1-15 1-15 1 33 1-32 1 28 1-5 1-38 1 33 1 25 1-34 1-18 1 7 1 21 1 5 1 7 1-8 1-16 1 2 1 7 1 0 1-14 1 25 1 5 1-16 1 3 1-19 1 20 1-14 1-1 1 22 1-9 1-8 1-16 1 22 1 21 1-17 1-2 1 13 1 12 1-21 1 6 1-11 1 4 1-1 1 9 1-21 1 10 1 0 1-6 1-7 1 19 1-16 1-16 1 30 1-29 1 30 1-45 1 34 1 24 1-27 1 18 1-21 1-5 1 6 1 17 1 4 1 2 1-8 1-12 1-27 1 17 1 30 1-42 1 28 1-1 1-28 1 27 1-11 1 8 1-4 1-1 1-10 1-15 1 51 1-36 1 8 1-1 1 1 1-7 1 18 1-7 1-7 1-2 1 15 1-19 1 19 1 11 1 7 1-17 1-30 1 32 1-6 1 15 1-26 1 1 1 26 1-31 1 27 1-11 1-39 1 28 1-1 1-12 1-7 1 26 1-15 1 5 1-4 1 8 1 17 1 7 1-12 1-12 1 2 1 10 1 9 1-18 1-16 1 21 1 5 1-15 1 22 1-22 1 6 1 5 1 17 1-38 1 23 1 4 1-13 1 16 1-23 1-7 1-1 1 7 1-15 1 32 1-7 1-20 1 41 1-18 1-26 1-2 1 26 1 17 1-22 1 17 1 9 1-12 1-14 1-14 1 9 1 27 1-17 1-14 1 8 1 3 1 18 1-28 1 38 1-22 1 2 1-30 1 31 1-2 1 6 1-19 1 12 1-24 1 8 1 46 1-39 1-4 1 23 1-14 1 38 1-35 1 9 1-13 1 19 1-15 1 37 1-47 1 16 1 4 1-25 1 8 1-10 1-21 1 43 1-44 1 22 1 2 1 20 1-6 1 17 1 2 1-14 1-15 1 30 1-27 1 6 1 5 1 21 1 16 1-19 1-24 1 20 1 5 1-29 1 14 1-11 1 1 1 10 1 3 1-14 1 11 1-17 1 13 1 8 1-10 1-15 1 11 1 16 1 8 1 0 1 2 1 10 1-30 1 22 1-26 1 35 1-11 1-26 1 23 1 5 1-25 1 16 1 8 1 13 1-32 1 29" stroke="#f04040"/>
<path transform="translate(136,0) scale(0.6,0.5)" vector-effect="non-scaling-stroke" d="M0 4122 l1 26 1 24 1-19 1-1 1-10 1 40 1-6 1-18 1 5 1-4 1-20 1 24 1-12 1-4 1 26 1-14 1-15 1 22 1-9 1 6 1-7 1 6 1 0 1-17 1 42 1-26 1-38 1 48 1-34 1 25 1 16 1-25 1 2 1 18 1-8 1-1 1-10 1 3 1-27 1 20 1 4 1 11 1-2 1-25 1 7 1-20 1 28 1 36 1-32 1-13 1 12 1-4 1-15 1 4 1 10 1 14 1-20 1-1 1-10 1 18 1-14 1 39 1-23 1-44 1 61 1-15 1-5 1 3 1-11 1-4 1 2 1 8 1 7 1 21 1-21 1 6 1 2 1-24 1-3 1 1 1 33 1-55 1 42 1-29 1 56 1-54 1 2 1 10 1-9 1 32 1-4 1 0 1 35 1-61 1 15 1-8 1-5 1 15 1 25 1-42 1 42 1-26 1-10 1-10 1 28 1-10 1-5 1-6 1 6 1-3 1 7 1-28 1 29 1 10 1-3 1-29 1 19 1 3 1 12 1-4 1 2 1-17 1 12 1-12 1-2 1-18 1 26 1-7 1-19 1 39 1-24 1 11 1-1 1-7 1 5 1 9 1-31 1 0 1 33 1-8 1-25 1 32 1-31 1 18 1 3 1-4 1 6 1-14 1-15 1 14 1 16 1-8 1-1 1-4 1 19 1-22 1 11 1 0 1-17 1 23 1-5 1 2 1-27 1 35 1-22 1 5 1 6 1 6 1-20 1 12 1-4 1-1 1 0 1-13 1 12 1 17 1-30 1-9 1 41 1-38 1 14 1-4 1 12 1-9 1 11 1-13 1-8 1 47 1-31 1 5 1-24 1 8 1 3 1 19 1-24 1 18 1-11 1-5 1 19 1-6 1-18 1 22 1-26 1 24 1-8 1 32 1-24 1 22 1-21 1-14 1 15 1-30 1 4 1 15 1 22 1-9 1-31 1-9 1 31 1-25 1 6 1 6 1-5 1 2 1 8 1 16 1-22 1 9 1 5 1 1 1-8 1-17 1 17 1-34 1 33 1 18 1-9 1-49 1 48 1 0 1-12 1 14 1-1 1-11 1-2 1-12 1 39 1-54 1 35 1-10 1 6 1-7 1 5 1-12 1 0 1 35 1-28 1 23 1-8 1-8 1 1 1-5 1 14 1-15 1-8 1 18 1-9 1 7 1-16 1 7 1 14 1-1 1-27 1 12 1-13 1 25 1-33 1-3 1-3 1 11 1 47 1-40 1 18 1-21 1 15 1 11 1-5 1 6 1-6 1-16 1 8 1-6 1-9 1 33 1-43 1-6 1 8 1 20 1-22 1 6 1-15 1 23 1-14 1-6 1 28 1-46 1 29 1-11 1-30 1 11 1 7 1-24 1 1 1 28 1 16 1-17 1-15 1-8 1-16 1 22 1-19 1 6 1 0 1 8 1-5 1-38 1 19 1 20 1 3 1-8 1 1 1-29 1 13 1 0 1 10 1-12 1-14 1 33 1-22 1 6 1-31 1 23 1 5 1 12 1-19 1-23 1 4 1 32 1 9 1-28 1-6 1 27 1-20 1 8 1-17 1-14 1 40 1 24 1-26 1-10 1 37 1-28 1-13 1 24 1 14 1-13 1 13 1 3 1 2 1 21 1-16 1 7 1 11 1-24 1 20 1-19 1 10 1-1 1 16 1-1 1-20 1-3 1-1 1 3 1 5 1 9 1-10 1 37 1-7 1 12 1-20 1 3 1-11 1 19 1-8 1-8 1 8 1 20 1 13 1-37 1-26 1-12 1 38 1 0 1 0 1 6 1 3 1-25 1 9 1 30 1 8 1-27 1 0 1 9 1-7 1-4 1-2 1 20 1-30 1 16 1-23 1 23 1-4 1-6 1 6 1-29 1 12 1 4 1 6 1-2 1-10 1 10 1 4 1 52 1-56 1 6 1-5 1-9 1-2 1 15 1-14 1-4 1 5 1 21 1-37 1 9 1 8 1 3 1 14 1 4 1-36 1 17 1 15 1-11 1-27 1 2 1 9 1 9 1-26 1 25 1-21 1 17 1 0 1-4 1 8 1-13 1 1 1 15 1-25 1 0 1-10 1 43 1-32 1 24 1-7 1 3 1-10 1 5 1 16 1-11 1-13 1 12 1-15 1 33 1 0 1-8 1 19 1 2 1-22 1 18 1-16 1 7 1-4 1 6 1-16 1 15 1-13 1 39 1-27 1 8 1-19 1 12 1 18 1-34 1 33 1-10 1 36 1-19 1 4 1-7 1 10 1-29 1 38 1-11 1-45 1 39 1-4 1 19 1-23 1 4 1 5 1-8 1 25 1-10 1-21 1 11 1-5 1 25 1-37 1-10 1 53 1-29 1 16 1-15 1-7 1 14 1-6 1-10 1-17 1 29 1 15 1-3 1-45 1 48 1-38 1 12 1 8 1 0 1-12 1 6 1 6 1 0 1 8 1 3 1-11 1-11 1 19 1-10 1-10 1-22 1 34 1 7 1 5 1-28 1 12 1-22 1 25 1 1 1-14 1 18 1 6 1 1 1-26 1 12 1 14 1-17 1-2 1 1 1 16 1-15 1-23 1 35 1 58 1-61 1 12 1-14 1-7 1-11 1 21 1-7 1 12 1-10 1 7 1-37 1 32 1 4 1-4 1 14 1-19 1 10 1-36 1 37 1-1 1-21 1-18 1 16 1 12 1 22 1-37 1 21 1 3 1-1 1-17 1 18 1-27 1-8 1 25 1-11 1-18 1 48 1-7 1-3 1-20 1 3 1-12 1 21 1-4 1 4 1 20 1-27 1 5 1-18 1 41 1-4 1-48 1 1 1 53 1 4 1-17 1 10 1-37 1 18 1 11 1-14 1-11 1 11 1-9 1 37 1-31 1-4 1-17 1 46 1-22 1 10 1-9 1 5 1-3 1-9 1 15 1-18 1 15 1 1 1 6 1-23 1 44 1-29 1-19 1-7 1 24 1-2 1 9 1-30 1 21 1 6 1 8 1-38 1 16 1-3 1 9 1-2 1 5 1-14 1 19 1-27 1 20 1 30 1-43 1 38 1-6 1-25 1 13 1 2 1-22 1-16 1 25 1-14 1 26 1-32 1 52 1 5 1-44 1-18 1 33 1-12 1 5 1-20 1 1 1 28 1-26 1-10 1 35 1 1 1-13 1-10 1 37 1-28 1 14 1-28 1 0 1 22 1 18 1-36 1 6 1 2 1 25 1-20 1 6 1 7 1-3 1 13 1-54 1 35 1 5 1-26 1 20 1 0 1-9 1-4 1 26 1-14 1-5 1 5 1-11 1 10 1 4 1-19 1 10 1 0 1 3 1-8 1 6 1-7 1-6 1 5 1-15 1 30 1-4 1-17 1-1 1 1 1-5 1 1 1 23 1-12 1 17 1-6 1-1 1-24 1 42 1-27 1-30 1 29 1-2 1 13 1-23 1 16 1-7 1 22 1-21 1 11 1 7 1-26 1 16 1-4 1 22 1-14 1-19 1 36 1-34 1 7 1 2 1 7 1-18 1 6 1-2 1 8 1-15 1 6 1-14 1 43 1-17 1 10 1-27 1-15 1-14 1 21 1 24 1-12 1-3 1-10 1 41 1-43 1 16 1-1 1 2 1-1 1 7 1 32 1-21 1-12 1-19 1 36 1 0 1-30 1 16 1-41 1 18 1 30 1-40 1 33 1 6 1-36 1 18 1 22 1 13 1-33 1 19 1-33 1 2 1 15 1 4 1-9 1 13 1-5 1 7 1-8 1-11 1 1 1-4 1 3 1 13 1-2 1 4 1-6 1-1 1-25 1 6 1-2 1-5 1-25 1 44 1-26 1 4 1 0 1 32 1-10 1 25 1-39 1 12 1 0 1-14 1 4 1-26 1 9 1 16 1-34 1 36 1-1 1-11 1 21 1-4 1 9 1-12 1 6 1-3 1-23 1 19 1-1 1 4 1 0 1 11 1-11 1-9 1 19 1-36 1 9 1 38 1-37 1 25 1-18 1 25 1-4 1 10 1-6 1 9 1-29 1 34 1-27 1 18 1-13 1 18 1-9 1-2 1 5 1-8 1 1 1 20 1-12 1-6 1-6 1 22 1-27 1 10 1-15 1 8 1 7 1 7 1-5 1 14 1-38 1 54 1-20 1-1 1-18 1 25 1-23 1 10 1 4 1 5 1-1 1-18 1-5 1 36 1-8 1-2 1-2 1 2 1-33 1 26 1 13 1-11 1 9 1-4 1-12 1-4 1 9 1 16 1-36 1 34 1-38 1 53 1-29 1 4 1-8 1 19 1-22 1 28 1 11 1-29 1-12 1 22 1-21 1 6 1 7 1 11 1-29 1 24 1-3 1-8 1 10 1-8 1-7 1-22 1-7 1 34 1 8 1-31 1 17 1 25 1-10 1-36 1 32 1-13 1 10 1-6 1-15 1 41 1-64 1 20 1 30 1-18 1 5 1-18 1 23 1-21 1-7 1-1 1 31 1-16 1 17 1-12 1-8 1-14 1 20 1 4 1-25 1 7 1-4 1-17 1 33 1 3 1-9 1 4 1-1 1 14 1-6 1 2 1-24 1 17 1-7 1-15 1 21 1-29 1 7 1 30 1-6 1-52 1 48 1-4 1-5 1-12 1 11 1 14 1 15 1-13 1-24 1 21 1 19 1-31 1-15 1 32 1-23 1 9 1 3 1-7 1 2 1 9 1 1 1-5 1 6 1-7 1-13 1 33 1-20 1 8 1 2 1-16 1-17 1-5 1 17 1 20 1-9 1 2 1-14 1-14 1 16 1-22 1 13 1 18 1-16 1-25 1 40 1-1 1-5 1-27 1 34 1-13 1 10 1 7 1-8 1 11 1-8 1-17 1-2 1 34 1 4 1-34 1 7 1 2 1 4 1-32 1 32 1-9 1 0 1-8 1 24 1-25 1 29 1-4 1-29 1 20 1 0 1-18 1-27 1 26 1 8 1 25 1-13 1-5 1-10 1 8 1-25 1 0 1-7 1 1 1 13 1 29 1-47 1 22 1-4 1-26 1 23 1-28 1 44 1 6 1-33 1 5 1-2 1-2 1 19 1-26 1 10 1-12 1 32 1-13 1 12 1-26 1-24 1 43 1-3 1 8 1-13 1 17 1-4 1-20 1-22 1 39 1-6 1-9 1-10 1 40 1-21 1 0 1-14 1 3 1 13 1-32 1 46 1-22 1 24 1-15 1-13 1 39 1-28 1-6 1 20 1-7 1-4 1-28 1 4 1 37 1-20 1 15 1-19 1 19 1-31 1 22 1 23 1-16 1-8 1 3 1 2 1 26 1-23 1 8 1-16 1 14 1-1 1-16 1-13 1 20 1 19 1-24 1 3 1 21 1-18 1-24 1 48 1-21 1-8 1 3 1 11 1-14 1 31 1-18 1 2 1-4 1-12 1 10 1 21 1-31 1 5 1 7 1-16 1 22 1-28 1 22 1-20 1 10 1-1 1 40 1-44 1 22 1-9 1-15 1 22 1-13 1-22 1-2 1 25 1 0 1-39 1 37 1-5 1 10 1-16 1 10 1-3 1 9 1 7 1 13 1-49 1 24 1-16 1-4 1-9 1 16 1 7 1-4 1 6 1-1 1 4 1-6 1 3 1-2 1-9 1-13 1-2 1 25 1-31 1 34 1-18 1-4 1 6 1 4 1 21 1-30 1-2 1 11 1 7 1-15 1-7 1 13 1-4 1 1 1-25 1 26 1-8 1 12 1-18 1 8 1-10 1 31 1-49 1 5 1 2 1-30 1 32 1 28 1-13 1 13 1-25 1-8 1 3 1-12 1-6 1 37 1-15 1 19 1-52 1 34 1-21 1 42 1-20 1-15 1 1 1 31 1-31 1 12 1 3 1-12 1 34 1 5 1-31 1 11 1 8 1-1 1 2 1-24 1 17 1-33 1 33 1 9 1 5 1-38 1 32 1-21 1 26 1 3 1-5 1 11 1-9 1-13 1 7 1 9 1-26 1 20 1 11 1-21 1 30 1-1 1-7 1-8 1-4 1 13 1-2 1 7 1-22 1 17 1 7 1-28 1 15 1-2 1-3 1 15 1-15 1 12 1-5 1 5 1-14 1-5 1 17 1-8 1 10 1-18 1-1 1 16 1-9 1-4 1 10 1-13 1 4 1 3 1-22 1 25 1-14 1-5 1 2 1-9 1-17 1 23 1-8 1 25 1-3 1-32 1 15 1 8 1-10 1-8 1-3 1-10 1 24 1-4 1-7 1-2 1 22 1-16 1 11 1-32 1 5 1 1 1 21 1-13 1 23 1-14 1 12 1-15 1 18 1-14 1 5 1-10 1-8 1 10 1 21 1 2 1-22 1 7 1 0 1 27 1-16 1 0 1 26 1-16 1 16 1 5 1-15 1-13 1 20 1 33 1-40 1 33 1-25 1-3 1 33 1-24 1-21 1 10 1 7 1 3 1 24 1 4 1-20 1 5 1-11 1-16 1 22 1-3 1 15 1-8 1 11 1-20 1 0 1-1 1-5 1 25 1-12 1-18 1 8 1 32 1 6 1-12 1-17 1 19 1-21 1-14 1 16 1-15 1 11 1 32 1-22 1-4 1 7 1-16 1 9 1-16 1-5 1 11 1-9 1-13 1 22 1-7 1 2 1 30 1-10 1 4 1-15 1-11 1 2 1 35 1-60 1 30 1 9 1-22 1 33 1-32 1 18 1 21 1-2 1-21 1 1 1 21 1 5 1-18 1-30 1 18 1 20 1-24 1 6 1-9 1 8 1 18 1-4 1-23 1 31 1-35 1 31 1-1 1-28 1-8 1 38 1-5 1-5 1-13 1 15 1-24 1 29 1 20 1-32 1 16 1-24 1 15 1-7 1 9 1-10 1-18 1 36 1-28 1 29 1-30 1 34 1-13 1-11 1 19 1-9 1 18 1-12 1 19 1-54 1 45 1-21 1 0 1-13 1 7 1 6 1 5 1 0 1-5 1 7 1 10 1-18 1-2 1 23 1-8 1-18 1 22 1-3 1 43 1-37 1 0 1-12 1-11 1 12 1-2 1 0 1 19 1-29 1 37 1-36 1-5 1 31 1-15 1-6 1 15 1-16 1 13 1-7 1 7 1-12 1 20 1-15 1 7 1-29 1 35 1-14 1 5 1-2 1-3 1-5 1 25 1-23 1 9 1-2 1-5 1 24 1-23 1 13 1-23 1 0 1 0 1 26 1-32 1 3 1 14 1 16 1-17 1 24 1-16 1-1 1 36 1-26 1-12 1-1 1 18 1 7 1-21 1 2 1 16 1-23 1 15 1-2 1-5 1-10 1-19 1 29 1-14 1 20 1-11 1 2 1 25 1-10 1-31 1 33 1-15 1-12 1 18 1-1 1 13 1 0 1 1 1-23 1 9 1-22 1 27 1-7 1-25 1 36 1-2 1-27 1-8 1 24 1 8 1-5 1 20 1 12 1-29 1-4 1-3 1 33 1-27 1 9 1 3 1 1 1-7 1 18 1-17 1-5 1-16 1 9 1 4 1 14 1-21 1 11 1-6 1-33 1 39 1 18 1-41 1 34 1-31 1 10 1 4 1 14 1-13 1 1 1 11 1 1 1-15 1 8 1 12 1-12 1-20 1 14 1-21 1 49 1-27 1-24 1 15 1 12 1 3 1-11 1-4 1-7 1 24 1 5 1-13 1-2 1-1 1-9 1 2 1 12 1-2 1 0 1-16 1 20 1-24 1 30 1-19 1 6 1-13 1 8 1-10 1 12 1-26 1 39 1-13 1 7 1-11 1 8 1-24 1 5 1 6 1-15 1 30 1-15 1 1 1-9 1 18 1 7 1-19 1 19 1-10 1-2 1-26 1 1 1 37 1-2 1 15 1-38 1 18 1-31 1 9 1-4 1 3 1 15 1 15 1-17 1-19 1 46 1-26 1-26 1 39 1-18 1 9 1-19 1 1 1 12 1-28 1 22 1 10 1-7 1-7 1-5 1-1 1 24 1-16 1-2 1-16 1 17 1 4 1-42 1 52 1-12 1-14 1-23 1 56 1-24 1-17 1-14 1 33 1-40 1 24 1-5 1-13 1 5 1-1 1 21 1-7 1 9 1-30 1 30 1-14 1 12 1-22 1 10 1-21 1 28 1-16 1-10 1 5 1 1 1-45 1 43 1-18 1 12 1 3 1 29 1-28 1-24 1 25 1-23 1 2 1 4 1 22 1 11 1-14 1-27 1 20 1 9 1-46 1 30 1 40 1-54 1 5 1-2 1 35 1-6 1 5 1-1 1-25 1-17 1 34 1-30 1 31 1-1 1-5 1 16 1-13 1-22 1 6 1 21 1-18 1 17 1-12 1 7 1-16 1 11 1-20 1 12 1 18 1-17 1-4 1 25 1-1 1-26 1 19 1 3 1-18 1 2 1 8 1 23 1-21 1 0 1-36 1 41 1 9 1-28 1 25 1-5 1 6 1-11 1 1 1 33 1-8 1-38 1-25 1 44 1 1 1-5 1-3 1 22 1-60 1 28 1 22 1-2 1 1 1-17 1 34 1-9 1-2 1-5 1-25 1 12 1-9 1 17 1-20 1 20 1-15 1 16 1-29 1 15 1 17 1 9 1-27 1 27 1 26 1-36 1-8 1-14 1 3 1 15 1-1 1 18 1 17 1-36 1 17 1 17 1-11 1-5 1 0 1-32 1 12 1 30 1 9 1-4 1 1 1 8 1-2 1-24 1 9 1-34 1 45 1-11 1-1 1 13 1-31 1 20 1-13 1 33 1-38 1 10 1 14 1 17 1-22 1-19 1 10 1 17 1 1 1-24 1 33 1-27 1-1 1 11 1-14 1 1 1 13 1-29 1 28 1-11 1 21 1-17 1 25 1-7 1 2 1-3 1-15 1 17 1 4 1-7 1 3 1 3 1-10 1-4 1 9 1 0 1 7 1 8 1-21 1-2 1 33 1-28 1 0 1-11 1 16 1-35 1 19 1 7 1-7 1 12 1 12 1-11 1-15 1-23 1 21 1 26 1 3 1-13 1 3 1-1 1-31 1 13 1-2 1 14 1 6 1-14 1 24 1-28 1-6 1-1 1-21 1 36 1-23 1 21 1-3 1 1 1-30 1 16 1 1 1 7 1-18 1-1 1 29 1-36 1 22 1-19 1 25 1-18 1 1 1-8 1-15 1 49 1-25 1 20 1-12 1-23 1 5 1 14 1-7 1-11 1 14 1 5 1 4 1 6 1-22 1-7 1-1 1-30 1 52 1 3 1-74 1 53 1-10 1 3 1-21 1 21 1-27 1 36 1 4 1 4 1-40 1 6 1 8 1 38 1-33 1 24 1-19 1 7 1-28 1-3 1 12 1-5 1-19 1 45 1 14 1-30 1 10 1 20 1-16 1 11 1 0 1 8 1 1 1-10 1-17 1 30 1-29 1 19 1 5 1 35 1-28 1-3 1-9 1 3 1-17 1-9 1 29 1 6 1-13 1 9 1 1 1 29 1-32 1 54 1-53 1 8 1 4 1 10 1 13 1-5 1 3 1-10 1-3 1 0 1-13 1 47 1-30 1-8 1-5 1 13 1-9 1 30 1 3 1-24 1 27 1-5 1-5 1 0 1-10 1 20 1-35 1 34 1-10 1-30 1 28 1 7 1 7 1-7 1-23 1 26 1-2 1-46 1 30 1 10 1-4 1 12 1 26 1-28 1-6 1 5 1-11 1 5 1-2 1 18 1-15 1 9 1 4 1-19 1 22 1 14 1-25 1 7 1 12 1 3 1-14 1-6 1 10 1-22 1 4 1 4 1 13 1-21 1 19 1-26 1 9 1 2 1 20 1 17 1-46 1 25 1-5 1 7 1-13 1 27 1-48 1 42 1 7 1-31 1 14 1-18 1 11 1 1 1-33 1 49 1-3 1 17 1-27 1 3 1 15 1-41 1 33 1-12 1 31 1-29 1 17 1-20 1-38 1 64 1-4 1-1 1-18 1 21 1-30 1 3 1 24 1-2 1 15 1-35 1 17 1 1 1 8 1-30 1 16 1-11 1 18 1 33 1-30 1 12 1-13 1-13 1 9 1-4 1-2 1 14 1-4 1-19 1-18 1 22 1 13 1 14 1-14 1 2 1 7 1 2 1-26 1 7 1 12 1-16 1-5 1 8 1 4 1 15 1-22 1-4 1 6 1 17 1-36 1 29 1 10 1-22 1 0 1-8 1 3 1 11 1 19 1-10 1-13 1-27 1 16 1 32 1-35 1 33 1-11 1 12 1-9 1-13 1 7 1-8 1-9 1 14 1 2 1-14 1 11 1 14 1-10 1-15 1 36 1-31 1 26 1-11 1 10 1-11 1-19 1 32 1-27 1-10 1 0 1 31 1-18 1 1 1-14 1 46 1-16 1 5 1-12 1 14 1-23 1 25 1-19 1-5 1 17 1-5 1-1 1-26 1 8 1-5 1 7 1 13 1-16 1 14 1-14 1 9 1 13 1 8 1 10 1-23 1 1 1 17 1-42 1 7 1 27 1 2 1 12 1-2 1-2 1-11 1-10 1 15 1-41 1 22 1-18 1 17 1-35 1 44 1-7 1 16 1-37 1 17 1 17 1-36 1 21 1-27 1 55 1-39 1 14 1 7 1-33 1 16 1-14 1 30 1 12 1-51 1 30 1-19 1 25 1 2 1 5 1-4 1-31 1 4 1 17 1 10 1-20 1 5 1 12 1-4 1 13 1-30 1 22 1-4 1-2 1-4 1-5 1 26 1-27 1 14 1-4 1-11 1 13 1 0 1 33 1-48 1 19 1-1 1 5 1-22 1 13 1-21 1 22 1 10 1 6 1-51 1 24 1 11 1-30 1 83 1-50 1-32 1 66 1-36 1-33 1 14 1 2 1 8 1 25 1-33 1 2 1 8 1 7 1-4 1-22 1 30 1-24 1 1 1 44 1-58 1 24 1-14 1 24 1-4 1-18 1 6 1-1 1 14 1-46 1 43 1 0 1-4 1-6 1 15 1-1 1-5 1-3 1 9 1 7 1-32 1-2 1 11 1-4 1 2 1 5 1 22 1-18 1 1 1 9 1-20 1 4 1-21 1 13 1 21 1-14 1 0 1 26 1 2 1-21 1-14 1-5 1 17 1-16 1 15 1-7 1 5 1-3 1 21 1-18 1 24 1-28 1 28 1-36 1 17 1-8 1-10 1 43 1-27 1-15 1-22 1 43 1 8 1-14 1-11 1 2 1-11 1 10 1 2 1 14 1 2 1-26 1-13 1 52 1-23 1-12 1 13 1-15 1 5 1-28 1 28 1 28 1-11 1-15 1 4 1 9 1 4 1-25 1 7 1 6 1 10 1-17 1 11 1 4 1-10 1 6 1 10 1-33 1 19 1 1 1 25 1-55 1 15 1-9 1 6 1 17 1-17 1 11 1 2 1-3 1 14 1-7 1-16 1 5 1 10 1-12 1 14 1-7 1-7 1 3 1-11 1 19 1-12 1-2 1 6 1 33 1-14 1-24 1-6 1 23 1-23 1 29 1-25 1 24 1 13 1-32 1 13 1 2 1 22 1 0 1-44 1 29 1-3 1-11 1 3 1-21 1 2 1 11 1-17 1 23 1-3 1 18 1-35 1 33 1-13 1-1 1-3 1-1 1-10 1-3 1 30 1-68 1 64 1-8 1-2 1 11 1-14 1 3 1 5 1-10 1 15 1-2 1-13 1 7 1-18 1 16 1-2 1-22 1 20 1 7 1-20 1-5 1 17 1-8 1-5 1 14 1-14 1 15 1 13 1-10 1-2 1-16 1 31 1-21 1 27 1-31 1 8 1-18 1 22 1-23 1 19 1 22 1-13 1-27 1 30 1-29 1 12 1-3 1 2 1 4 1-32 1 47 1-16 1-12 1 18 1 15 1-33 1 23 1-10 1 2 1-9 1 9 1 7 1-29 1 10 1 4 1-1 1-15 1 15 1-8 1 21 1-6 1 3 1 3 1-12 1-7 1 23 1-15 1-8 1 36 1-42 1 32 1 7 1-23 1-4 1 13 1-16 1-15 1 42 1 6 1-39 1 27 1-6 1-3 1 10 1-16 1 2 1 6 1 3 1-37 1 49 1-8 1 7 1-17 1-12 1 22 1-1 1 7 1-4 1-21 1-4 1 12 1 13 1-11 1-6 1 10 1-28 1 24 1-28 1 53 1-48 1 49 1-12 1 2 1-3 1-16 1 6 1 21 1-36 1 11 1 16 1-22 1 33 1-39 1 5 1 12 1-12 1 7 1 4 1-3 1 7 1 1 1 0 1-2 1-2 1 4 1 1 1 5 1 12 1-31 1 51 1-30 1 2 1-21 1 11 1 1 1-8 1 13 1-25 1 4 1 23 1-6 1-28 1 28 1-4 1 10 1-13 1 2 1-15 1 12 1-4 1 13 1-35 1 27 1 16 1-53 1 47 1-4 1-4 1 3 1-14 1 21 1-8 1-28 1 34 1-25 1 2 1 19 1-11 1 8 1 1 1-5 1 7 1-26 1 44" stroke="#1f6fe0"/>
<path transform="translate(136,0) scale(0.6,0.5)" vector-effect="non-scaling-stroke" d="M0 4028 l1-16 1 20 1-20 1 16 1-11 1 7 1-38 1 29 1-4 1 0 1-13 1-10 1 35 1-10 1 2 1 12 1-22 1 27 1-10 1-5 1-3 1 23 1-18 1 4 1-24 1 19 1-20 1 5 1 15 1-10 1-38 1 27 1 6 1 16 1-15 1 22 1-13 1-16 1 36 1-24 1-5 1-7 1 13 1-5 1 9 1 7 1-9 1-11 1 24 1-18 1 9 1-56 1 65 1-24 1 21 1-28 1 13 1 21 1-2 1-12 1 6 1-39 1 19 1 7 1-26 1 21 1 10 1 9 1-15 1 20 1 18 1-37 1 11 1 0 1 10 1-48 1 34 1-13 1-10 1 0 1 11 1 12 1-15 1-26 1 31 1 21 1-31 1 22 1 8 1-18 1-9 1-3 1 31 1-9 1-10 1 4 1-12 1 6 1 24 1-13 1-2 1 3 1-17 1 15 1-23 1-17 1 30 1-5 1-2 1-25 1 28 1 1 1-9 1 2 1-7 1 9 1 18 1-24 1 24 1-29 1 8 1 50 1-60 1 33 1-25 1 16 1 3 1 5 1-14 1-7 1 42 1-25 1 0 1-20 1-4 1 23 1 12 1-28 1-8 1 28 1-27 1 20 1-21 1 14 1-10 1 5 1-6 1 15 1-9 1 8 1-10 1 22 1-25 1 4 1 19 1-13 1-12 1 3 1-4 1 34 1-23 1-1 1-21 1 32 1 1 1 4 1-32 1 31 1-25 1 14 1-4 1 9 1-30 1 19 1 9 1 15 1-28 1 9 1 12 1-24 1 1 1 4 1 18 1-23 1 8 1-9 1 7 1 22 1-15 1-2 1-13 1-4 1 21 1 4 1-27 1 6 1-2 1 1 1 16 1-27 1 29 1 6 1-39 1 19 1-4 1-11 1 39 1-6 1-27 1 0 1 9 1 15 1-3 1-12 1-18 1-8 1 21 1 9 1 4 1 8 1-21 1-1 1 17 1-18 1 13 1-44 1 49 1-13 1 0 1 7 1-11 1-22 1 14 1 28 1-25 1 2 1-7 1 4 1-7 1-7 1 15 1-10 1-7 1 31 1-19 1 7 1 17 1 1 1-31 1 12 1-6 1-10 1 12 1-11 1-3 1 9 1 2 1 4 1-11 1 13 1-20 1-1 1 14 1-23 1 16 1 1 1-19 1-3 1 7 1 10 1-21 1-1 1-17 1 22 1 4 1 0 1-15 1 7 1 11 1-12 1-9 1-4 1 4 1-3 1-10 1 14 1-14 1 7 1-17 1 20 1-17 1-11 1-5 1 31 1-20 1 5 1-22 1 0 1-5 1 7 1-11 1 4 1-22 1 40 1-48 1 71 1-58 1 24 1-35 1 11 1-13 1-24 1-1 1-7 1 24 1-19 1-2 1-1 1-7 1-4 1-14 1-7 1 15 1-5 1-8 1 6 1-6 1-4 1 10 1-48 1 30 1-38 1 38 1-4 1-14 1-2 1 16 1-25 1 2 1 11 1-42 1 35 1 1 1 5 1-3 1-26 1 41 1-28 1-17 1 40 1 2 1 7 1 8 1 17 1-4 1-28 1 29 1 5 1-3 1 9 1 3 1 18 1-15 1-13 1 36 1-4 1 13 1 18 1-20 1 19 1-13 1 5 1 7 1 0 1 20 1-17 1 15 1 2 1 0 1 16 1 7 1-4 1 10 1-14 1 17 1-3 1-9 1 28 1-37 1-1 1-2 1 22 1-20 1 29 1-27 1 13 1 6 1 8 1-16 1 19 1 4 1-11 1-23 1 39 1-19 1-4 1 12 1-29 1 39 1-27 1 21 1-5 1-12 1 14 1-1 1-8 1 2 1 1 1-14 1-6 1 9 1-23 1 6 1 21 1-2 1-13 1 8 1-14 1-8 1 16 1-10 1-1 1-4 1 30 1-24 1 2 1-17 1 8 1-18 1 2 1-1 1 0 1 20 1-34 1 20 1-11 1-4 1 24 1-31 1-22 1 35 1-7 1-31 1 28 1-22 1 11 1 17 1-38 1 19 1 20 1-16 1-3 1 19 1 4 1 4 1 20 1-49 1 4 1 17 1-10 1 14 1-2 1 30 1 9 1-18 1 42 1-3 1-29 1 8 1 5 1 13 1 3 1-5 1 5 1 2 1 14 1-20 1 12 1-10 1 14 1-2 1 8 1-23 1 8 1 59 1-32 1-13 1 19 1 24 1-11 1-28 1 6 1-14 1 12 1 27 1 8 1-18 1-21 1-12 1 36 1-5 1-1 1 2 1 26 1-30 1 8 1 5 1 12 1-22 1 0 1 10 1-8 1-13 1 12 1-1 1-9 1-8 1 9 1 3 1 25 1-2 1-51 1 38 1-4 1 3 1 7 1-19 1-24 1 40 1-7 1 11 1-3 1-10 1 13 1-12 1 9 1-16 1 14 1 1 1-13 1 9 1 22 1-28 1-10 1 35 1 8 1-24 1 3 1 3 1-13 1 16 1-17 1-25 1 25 1 9 1 21 1-27 1-7 1 10 1-3 1-11 1 29 1-10 1-17 1 13 1 10 1-31 1-3 1 18 1-4 1-5 1 6 1-12 1 44 1-22 1 5 1-17 1 16 1-67 1 50 1 14 1-13 1 8 1-47 1 44 1 8 1 3 1-8 1-9 1 27 1-30 1 5 1 5 1 5 1 5 1-26 1 31 1-6 1-24 1 24 1-18 1 30 1 4 1-40 1-10 1 16 1 7 1 3 1-4 1 24 1-15 1 4 1-32 1 30 1-11 1 7 1-2 1 17 1-34 1 25 1-33 1 31 1-6 1 20 1-21 1 7 1-16 1 14 1-2 1-4 1-1 1 7 1-16 1 13 1 15 1-4 1-5 1-29 1 7 1-4 1 12 1 5 1 11 1-15 1-1 1 20 1-17 1-19 1 27 1-17 1 14 1 13 1-1 1-22 1 6 1-8 1 26 1-6 1-7 1 6 1 7 1-21 1 14 1 12 1-24 1 20 1-9 1-21 1 12 1-17 1 27 1-20 1 10 1-2 1 28 1-16 1-7 1 21 1-33 1 20 1-4 1-2 1 7 1-21 1 32 1-15 1 0 1-2 1-2 1 36 1-39 1-12 1 6 1-33 1 45 1-13 1 4 1-7 1 18 1 18 1-39 1 25 1-5 1 1 1-4 1 7 1 4 1-22 1-29 1 40 1-13 1 25 1-25 1 10 1-36 1 40 1-6 1 16 1-13 1 2 1-2 1-31 1 38 1-10 1 1 1 3 1-14 1 4 1 3 1 5 1 11 1-13 1 3 1-18 1 36 1-8 1-7 1-27 1 30 1-30 1 10 1-4 1-6 1 18 1 20 1-32 1 21 1-13 1-4 1 7 1 3 1-17 1-7 1 8 1-31 1-2 1 30 1 12 1-6 1-3 1-5 1-1 1 9 1 1 1-3 1 5 1 16 1-35 1-5 1 40 1-34 1 6 1 15 1-10 1 18 1-15 1 10 1-8 1 4 1-13 1-2 1 10 1-26 1 40 1-19 1-4 1 26 1-30 1-2 1 23 1-17 1 3 1 2 1 6 1-14 1 21 1-27 1 12 1-8 1 23 1-29 1 43 1-45 1 17 1-2 1 4 1-2 1-25 1-2 1 16 1 4 1-15 1 16 1 14 1-16 1 6 1-19 1 40 1-31 1 1 1 3 1-10 1 4 1 3 1-18 1 23 1-3 1-13 1-11 1 10 1-18 1 47 1-10 1-14 1-7 1 17 1-5 1 15 1-51 1 33 1-28 1 46 1-54 1 11 1 2 1 7 1 0 1 17 1-15 1 3 1 2 1-24 1 49 1-45 1 25 1 0 1-23 1 29 1 0 1-8 1-2 1 1 1 5 1 8 1-43 1 54 1-21 1 3 1-13 1 2 1 14 1-19 1-4 1 27 1-6 1-8 1 30 1-16 1-1 1-5 1 2 1-11 1 30 1-39 1 13 1-17 1 21 1 8 1 0 1 6 1-16 1 15 1-16 1-1 1 10 1 13 1-38 1 15 1 1 1 17 1-11 1 10 1 13 1-12 1-3 1-17 1-3 1 15 1 27 1-36 1 14 1-12 1 19 1 9 1-31 1 17 1-3 1-3 1-7 1 18 1 0 1 17 1-30 1 11 1-11 1 3 1 34 1-11 1-19 1 1 1 5 1 19 1-6 1-15 1-15 1 11 1 27 1-34 1 9 1-22 1 38 1-11 1 23 1-50 1 12 1 0 1 25 1-10 1-18 1 25 1-48 1 58 1-5 1-33 1 2 1-2 1 24 1 3 1-18 1 33 1-26 1 14 1-2 1-2 1 1 1-8 1-8 1-5 1 11 1 13 1 14 1-20 1-6 1-1 1 3 1-17 1 2 1 19 1 8 1 5 1-11 1-16 1 22 1-10 1-9 1 28 1-26 1 17 1-21 1 3 1 0 1-1 1-1 1 3 1 14 1-17 1-13 1-18 1 38 1 12 1-39 1 19 1 20 1-33 1 1 1 27 1-31 1-8 1 12 1-41 1 28 1 23 1-15 1-3 1 6 1-6 1-5 1 6 1-29 1 36 1-7 1 9 1-14 1 28 1-24 1-7 1 21 1-28 1 33 1 9 1-45 1-4 1 24 1 4 1-1 1-23 1-17 1 1 1 33 1-16 1-19 1 34 1 6 1-4 1-15 1 17 1-43 1 36 1 5 1-12 1-8 1 4 1 26 1-29 1-21 1 32 1-23 1 18 1-7 1 8 1-16 1 26 1 0 1-5 1 0 1 1 1-11 1 4 1 9 1-13 1-12 1-18 1 39 1 12 1-15 1-3 1-10 1 7 1 14 1 16 1-18 1-7 1 17 1-1 1-50 1 22 1-17 1-7 1 34 1-5 1-1 1 13 1-10 1 3 1 1 1-16 1 41 1-18 1-14 1 7 1-15 1 12 1 1 1-16 1-2 1 77 1-78 1 28 1-29 1 2 1 16 1-29 1 43 1-17 1-11 1 25 1-36 1 28 1-20 1 13 1-19 1-7 1 2 1 17 1-15 1-6 1-5 1-19 1 43 1-16 1-23 1 14 1 6 1-12 1 4 1 0 1 6 1-5 1 10 1 0 1-10 1 0 1-7 1 15 1 11 1-18 1 2 1 7 1-25 1 8 1 14 1-9 1 13 1-14 1 24 1-14 1-15 1-9 1 32 1-18 1 1 1-5 1-7 1 35 1-18 1 8 1-11 1 3 1 13 1-1 1 20 1-2 1 5 1 12 1-18 1-11 1 24 1 12 1-25 1 24 1-9 1-8 1-20 1 14 1-1 1 25 1-24 1 24 1 4 1-17 1-2 1-4 1 13 1-4 1 2 1-3 1 5 1 42 1-40 1-8 1-1 1 18 1-11 1 8 1-1 1-9 1-16 1 24 1-26 1 40 1-28 1 10 1 5 1-10 1 26 1-23 1 12 1 3 1 15 1-8 1 8 1-9 1-37 1 32 1-11 1 7 1-2 1 14 1-39 1 28 1-9 1-16 1 14 1 7 1-6 1 0 1-8 1 10 1-5 1-14 1 37 1-43 1 34 1-26 1-3 1 18 1-20 1-7 1 7 1 33 1-46 1 44 1-11 1-1 1-7 1-20 1 6 1 11 1 3 1-2 1-12 1-7 1 38 1-51 1 15 1-18 1 31 1-25 1 14 1 10 1-58 1 19 1-16 1 7 1-2 1-3 1 37 1-20 1 5 1 14 1-20 1-6 1 18 1-14 1-19 1-17 1 18 1 9 1-12 1 19 1 15 1-12 1-48 1 28 1-8 1 27 1-5 1-8 1-1 1-3 1-10 1 17 1-11 1 10 1 22 1-17 1 23 1-13 1-12 1 22 1-13 1 14 1-5 1 18 1-6 1-7 1-7 1 40 1-29 1 8 1-3 1-4 1-12 1 13 1-6 1 28 1 17 1-42 1 16 1 10 1-22 1 5 1 0 1 31 1-11 1-19 1 14 1 0 1 1 1-26 1 26 1 4 1 5 1-5 1-9 1 3 1 16 1 28 1-50 1 25 1 1 1-18 1-42 1 49 1-14 1-3 1 14 1-20 1-3 1 26 1 0 1 0 1-9 1-6 1 6 1 6 1 6 1-15 1 3 1-18 1 20 1 29 1-2 1-43 1-27 1 12 1 14 1-20 1 5 1 33 1-45 1-1 1 18 1-1 1 30 1-26 1 2 1-3 1-26 1-5 1 4 1 17 1-20 1 33 1-11 1 8 1 2 1-6 1-25 1 12 1 15 1-22 1 17 1-12 1 26 1-1 1-3 1 6 1 9 1-12 1 5 1 10 1-7 1-1 1-2 1-2 1-2 1 19 1-3 1-7 1 21 1 4 1-13 1-12 1 18 1-3 1 9 1-5 1 13 1-28 1 15 1-2 1 9 1-13 1 0 1-8 1 18 1 24 1-1 1-28 1 5 1 6 1-27 1 31 1 9 1-20 1-23 1 5 1 27 1-12 1 3 1 11 1-9 1-5 1 0 1-20 1 42 1 1 1-24 1 11 1-16 1 20 1-9 1-6 1-2 1 23 1-14 1 7 1-18 1 47 1-31 1-22 1 35 1-33 1 31 1-2 1 12 1-29 1-17 1 27 1 5 1-8 1-2 1 22 1-9 1-26 1 17 1-22 1 13 1-20 1 11 1-3 1-9 1 23 1 4 1-11 1-12 1 41 1-23 1-4 1-1 1 20 1-28 1 15 1-18 1 32 1-34 1 6 1 21 1-1 1 5 1-2 1 17 1-37 1 17 1 4 1-5 1 14 1-5 1-7 1 12 1-25 1 11 1-11 1 25 1-27 1-1 1 17 1-4 1-16 1 16 1 16 1-15 1-18 1 14 1-12 1 3 1 24 1-4 1 12 1-29 1 8 1-11 1 27 1-24 1 0 1-2 1 23 1-3 1-2 1 16 1-15 1-11 1 39 1-36 1 1 1 25 1-16 1 4 1-24 1 11 1-2 1 18 1-9 1 11 1-16 1 7 1 9 1-21 1 4 1 28 1-22 1 38 1-19 1-1 1-11 1 7 1-3 1-20 1 12 1 3 1 16 1-14 1-30 1 36 1-6 1 11 1-4 1-20 1-3 1 12 1-4 1 12 1-7 1 6 1 9 1-10 1-3 1 14 1 6 1-5 1-29 1 23 1-7 1 18 1-47 1 33 1 2 1 5 1-11 1 0 1 6 1-21 1 21 1-23 1 10 1 23 1-6 1 0 1 10 1-10 1-1 1-15 1 1 1 28 1-29 1 23 1-8 1 16 1-32 1 25 1-23 1 3 1 28 1-1 1-20 1 17 1-13 1-8 1 14 1-30 1 0 1-21 1 40 1-14 1 5 1 6 1-1 1 15 1-15 1 16 1-40 1 36 1 1 1-19 1 25 1-23 1 33 1-12 1-12 1-6 1 7 1-4 1-3 1 4 1 13 1-20 1-10 1 40 1-25 1 5 1-10 1-7 1 22 1 3 1-23 1-3 1 11 1 3 1-11 1 19 1-10 1-16 1 11 1 3 1 0 1-9 1 16 1-22 1 19 1-8 1-11 1 3 1-12 1 0 1 0 1 26 1-7 1-15 1 7 1-6 1 26 1-23 1 12 1 5 1 2 1 7 1-18 1-35 1 45 1 1 1-32 1 22 1 9 1-13 1 5 1-19 1 6 1-3 1 37 1-21 1-6 1-7 1 13 1 1 1-5 1-13 1 3 1-8 1-4 1 28 1-13 1 14 1-8 1-2 1-1 1 4 1 25 1-18 1-18 1 25 1-22 1-13 1-9 1 2 1 32 1 1 1-24 1 11 1-16 1 15 1 14 1-8 1-11 1-16 1 22 1 3 1-12 1 3 1 14 1-11 1-20 1 33 1-18 1-25 1 40 1 4 1-15 1-14 1-8 1 8 1-22 1 39 1-6 1-22 1 36 1-13 1 8 1-14 1 8 1-13 1-31 1 24 1-20 1 3 1 10 1-16 1-5 1 26 1-14 1 1 1 3 1-22 1 19 1-15 1 16 1-2 1-5 1 20 1-20 1 4 1-5 1 2 1 11 1 10 1-25 1-7 1-1 1 1 1 18 1-25 1-11 1-19 1 31 1 3 1-5 1 1 1 2 1-11 1 10 1-15 1 10 1 35 1-22 1-9 1-4 1 2 1 16 1-28 1 10 1-4 1 19 1-8 1-17 1-17 1 35 1 8 1-25 1 27 1-39 1 1 1-6 1 33 1-14 1 15 1-47 1 47 1-7 1 21 1-14 1-26 1 42 1-20 1 16 1-29 1 18 1 8 1 2 1-3 1-26 1 12 1-9 1 19 1-28 1 47 1-33 1 22 1-23 1 45 1-6 1-47 1 1 1 28 1-26 1 20 1 17 1-26 1 7 1 1 1 9 1 12 1-3 1-26 1 3 1 20 1 16 1-24 1-3 1 8 1 2 1 8 1-5 1 7 1-12 1 23 1-1 1-4 1-3 1-8 1-7 1 21 1-6 1 0 1 25 1-23 1 24 1 9 1-10 1-19 1 11 1-9 1 7 1 2 1-22 1 18 1 5 1 5 1-4 1-2 1-5 1 20 1-23 1 0 1 8 1-5 1-12 1 26 1 6 1-12 1-2 1 3 1 9 1-25 1 15 1 14 1-27 1 21 1-35 1 39 1 10 1-11 1-5 1-19 1 0 1-1 1 21 1-10 1 18 1-18 1 13 1-4 1-6 1-6 1 17 1-42 1 64 1-39 1 14 1 20 1-45 1 6 1 37 1-42 1 16 1-1 1 7 1-7 1 13 1-20 1 10 1-18 1 26 1-31 1 30 1-14 1 29 1-15 1 1 1-13 1 13 1 8 1-4 1 17 1-24 1 27 1-45 1 12 1 5 1 0 1 10 1-12 1-12 1 12 1-12 1 16 1 4 1-52 1 61 1-23 1 9 1 5 1-4 1 14 1 3 1-55 1 70 1-38 1 6 1-5 1-11 1 9 1 2 1 1 1 10 1-6 1-19 1 28 1-11 1-18 1 15 1 3 1-15 1 0 1-33 1 6 1 18 1 2 1 14 1-32 1 7 1 8 1-14 1-2 1 29 1-15 1 18 1-35 1 25 1-1 1 14 1-26 1 14 1-4 1-16 1-19 1 6 1-1 1 1 1 15 1 3 1-30 1 20 1 0 1 1 1-26 1-4 1 26 1-13 1 0 1 21 1-31 1-11 1 10 1 29 1-26 1 13 1-1 1 21 1-38 1 16 1-2 1-7 1 7 1-26 1 29 1-23 1 31 1-14 1-21 1 16 1 17 1-30 1-8 1 26 1 3 1 0 1 5 1 14 1-2 1 2 1-17 1 28 1-45 1 3 1 4 1 13 1 6 1-15 1 14 1 13 1-6 1 0 1 10 1 6 1-28 1 10 1-18 1 12 1 2 1 8 1-16 1 23 1 4 1-13 1 11 1 20 1 1 1-19 1 8 1 7 1 12 1 7 1-16 1-3 1 16 1-9 1 14 1-22 1 10 1 34 1-20 1-15 1 28 1-11 1-1 1 3 1 27 1-33 1-6 1 21 1 3 1-22 1 8 1 28 1-11 1 10 1-23 1 6 1-16 1-36 1 65 1-28 1 15 1-10 1 11 1-7 1 33 1-23 1-8 1 8 1-34 1 43 1-18 1 26 1-31 1 35 1-51 1 23 1 25 1-6 1-15 1 20 1-24 1 33 1 0 1 3 1-36 1 34 1-1 1-15 1 1 1 2 1-12 1-1 1 15 1 5 1-12 1-24 1 32 1-35 1 45 1-7 1-23 1 25 1 0 1-18 1-14 1 35 1-12 1-9 1 19 1-22 1 25 1 8 1-32 1 2 1 18 1-9 1-27 1 41 1-22 1 23 1-35 1 24 1 2 1 1 1-20 1-8 1 30 1 5 1-12 1 5 1-16 1-5 1 31 1 5 1 5 1-21 1-18 1-24 1 42 1 11 1-7 1 1 1-25 1 32 1 4 1 16 1-18 1 5 1-48 1 5 1 2 1 30 1-11 1-15 1 2 1 20 1-31 1 29 1 1 1 22 1-28 1-26 1 45 1-17 1-4 1-8 1 13 1-13 1 3 1-1 1 24 1 1 1-35 1 18 1-8 1 10 1 5 1-11 1 21 1-1 1-39 1 22 1-15 1-7 1 2 1 4 1 1 1 21 1-2 1-14 1-4 1 16 1 4 1 12 1-16 1 3 1-27 1 16 1 11 1-16 1-1 1 42 1-18 1-14 1 14 1-10 1-13 1 7 1-1 1 16 1-16 1 2 1-16 1 1 1 13 1 1 1 9 1 0 1-5 1-17 1 21 1-27 1 23 1 5 1 12 1-26 1 8 1-2 1-21 1 33 1-18 1 15 1-26 1 24 1 9 1-16 1 29 1-25 1 7 1-38 1 38 1-34 1 7 1 3 1 6 1 31 1-28 1 4 1-10 1 7 1-22 1 28 1 0 1-25 1-8 1 17 1 12 1-15 1-11 1 30 1-28 1 33 1 16 1-53 1 35 1 0 1 0 1 12 1 3 1-18 1 1 1-5 1-3 1 20 1-4 1-10 1 21 1-1 1-4 1-15 1 2 1 22 1-7 1-9 1-17 1 4 1 5 1-2 1 15 1-3 1-37 1 28 1 5 1-23 1-6 1 19 1-1 1 38 1-35 1 13 1 6 1-3 1-24 1 9 1-9 1-6 1 27 1-33 1 2 1 1 1 15 1-2 1 8 1 7 1-58 1 29 1 13 1 10 1 1 1-27 1 10 1-16 1 33 1-12 1 8 1-8 1-21 1 0 1 46 1-47 1 4 1 36 1-32 1 22 1 12 1-1 1-8 1-5 1 12 1-11 1 3 1-13 1 0 1-14 1 39 1-17 1 23 1-49 1 1 1 16 1-8 1 10 1-6 1 2 1 7 1 20 1-11 1-21 1 10 1-2 1 26 1-52 1 18 1 16 1-14 1 24 1-33 1 18 1 12 1 13 1-7 1-23 1 21 1-36 1 16 1 19 1-34 1 36 1-33 1 25 1-8 1 5 1-2 1-24 1 18 1 10 1-13 1 13 1-29 1 9 1 27 1-15 1-2 1 3 1 12 1-26 1 20 1-11 1-2 1-12 1 47 1-29 1-12 1 3 1-7 1 22 1-32 1 11 1 5 1 4 1-14 1 0 1 23 1 10 1-34 1 3 1 2 1-5 1 21 1-44 1 13 1 13 1 9 1 4 1 1 1 0 1-13 1 1 1 9 1 9 1-1 1-22 1 1 1 24 1-9 1 11 1-20 1-5 1 12 1-29 1 31 1-17 1-2 1 8 1-17 1 9 1 26 1-36 1 18 1-15 1 29 1 9 1-52 1 32 1-1 1 7 1 3 1-8 1 3 1-18 1 34 1-16 1-24 1 11 1 2 1-15 1 7 1-3 1 24 1 11 1-19 1 15 1-34 1 16 1-7 1 16 1-21 1 8 1 0 1-4 1-9 1 24 1-23 1 16 1-22 1-1 1 5 1 2 1 25 1-24 1 4 1-1 1 13 1 8 1-21 1 4 1 20 1 2 1-16 1-3 1-31 1 24 1 24 1-26 1-16 1 22 1-4 1 16 1-9 1 3 1 19 1-26 1-6 1 12 1 3 1-20 1 24 1-31 1 9 1 20 1 12 1-22 1 15 1-14 1-10 1 7 1 14 1-1 1 13 1-16 1 13 1 2 1-34 1-1 1 12 1 18 1 3 1-27 1 4 1-8 1 5 1 40 1-32 1-15 1 3 1-11 1 35 1-13 1 31 1-6 1-37 1-5 1 0 1 31 1 25 1-43 1-2 1 4 1-8 1-13 1 15 1-10 1 17 1-3 1-2 1 12 1-24 1 33 1-5 1 2 1-21 1 10 1 27 1-22 1-26 1 27 1-15 1 6 1 2 1-18 1 10 1-5 1 4 1 18 1 6 1-5 1 4 1-11 1-2 1-7 1 22 1-11 1 7 1-3 1 21 1-34 1 7 1-10 1 7 1 17 1-11 1-27 1 18 1 15 1-1 1-7 1 14 1-9 1 3 1 9 1-1 1-30 1 19 1 21 1-14 1 24 1-32 1 16 1-10 1-2 1 5 1 12 1-22 1 7 1-6 1 3 1 4 1-2 1 3 1 16 1-28 1-17 1 50 1 4 1-42 1 11 1 17 1-13 1-5 1-5 1-11 1 39 1-18 1-22 1 30 1 7 1-11 1 3 1-24 1 26 1-11 1-3 1-4 1 13 1 35 1-40 1 3 1-2 1 1 1 23 1-10 1 16 1-5 1-44 1 37 1-16 1-20 1 3 1 15 1 20 1-6 1-9 1-13 1 9 1 6 1 3 1-13 1-20 1 13 1 19 1-8 1 10 1-1 1-19 1 16 1 8 1-25 1 1 1 24 1-20 1 7 1-4 1 2 1-2 1 18 1-12 1-3 1 5 1-10 1-8 1-4 1 41 1-33 1-13 1 38 1-7" stroke="#3cb371"/>
<path transform="translate(136,0) scale(0.6,0.5)" vector-effect="non-scaling-stroke" d="M0 3824 l1 13 1 0 1-5 1 14 1-5 1-17 1 13 1 12 1-37 1 10 1 5 1-23 1 37 1 0 1-48 1 19 1 27 1 8 1-18 1 16 1-16 1-4 1 17 1-29 1 1 1 5 1-2 1-12 1 2 1 35 1-23 1-8 1-10 1 5 1 9 1-14 1 30 1-20 1 13 1-16 1 8 1-21 1 10 1 3 1 16 1-21 1 28 1-27 1 10 1 4 1-7 1-8 1-1 1 14 1-14 1 32 1-14 1-12 1-13 1 28 1 12 1-37 1-10 1 29 1 13 1-17 1-22 1 6 1 13 1-22 1 14 1 3 1 4 1-27 1 12 1 6 1-12 1 10 1-15 1-10 1-6 1 11 1 2 1 12 1-10 1-17 1 19 1 16 1-33 1 13 1-27 1 52 1-18 1 6 1-15 1 3 1-7 1-5 1 31 1-9 1-21 1 2 1 7 1 3 1 16 1-42 1 5 1-9 1 17 1 8 1 21 1-9 1-1 1-16 1 30 1-9 1-22 1 0 1 16 1-23 1 4 1 17 1-6 1-7 1 6 1-2 1-1 1 6 1-24 1 31 1-16 1 3 1 2 1 11 1 18 1-40 1-1 1 7 1-8 1-11 1 15 1-2 1 25 1-9 1-35 1-3 1 48 1-26 1-21 1 16 1 23 1-12 1 20 1-6 1-25 1 16 1-30 1 24 1-2 1-3 1 2 1 20 1-38 1 3 1 8 1-5 1 14 1-10 1-19 1 21 1-11 1-11 1 26 1-21 1 4 1 13 1-18 1-2 1 3 1 8 1-4 1 14 1-25 1 25 1-9 1 1 1-9 1-30 1 25 1 11 1 5 1-22 1 6 1 5 1 4 1-8 1-19 1 1 1 14 1-9 1 58 1-68 1 16 1-12 1 14 1 16 1-49 1 21 1-4 1 11 1-14 1 8 1-16 1 25 1-1 1-20 1-23 1 23 1 1 1-12 1 29 1-38 1 44 1-23 1 5 1-23 1-4 1 20 1 18 1-28 1 19 1-13 1-16 1 21 1-2 1-13 1 9 1-4 1 11 1-23 1-1 1 13 1-31 1 19 1-6 1-1 1 17 1-10 1-5 1 11 1-29 1 24 1-19 1 12 1 14 1-21 1-13 1-9 1 8 1-2 1-6 1-2 1 3 1-3 1 4 1-5 1 33 1-38 1-3 1 4 1-3 1-15 1-5 1 2 1-6 1 18 1-29 1 4 1 3 1 2 1 23 1-39 1-4 1 20 1-5 1-21 1-15 1 16 1-26 1 30 1-10 1-29 1 24 1-27 1 3 1 17 1-35 1-13 1 4 1 15 1-7 1-24 1-12 1 16 1-12 1 20 1-35 1 32 1-12 1 6 1 4 1 2 1-18 1 25 1-22 1 27 1-6 1-4 1 9 1 7 1 1 1 13 1-6 1-1 1 36 1-35 1 0 1 24 1 13 1 4 1 5 1 8 1-21 1 25 1-21 1 22 1-10 1 20 1 7 1 5 1-4 1 1 1 27 1 9 1-17 1-15 1 27 1 16 1-12 1 0 1 18 1 8 1-25 1 0 1 11 1-11 1 25 1-21 1 35 1-21 1 3 1 15 1-2 1-2 1 4 1-15 1 34 1-41 1 11 1-5 1 0 1 27 1 3 1 0 1-11 1-26 1 2 1 5 1 1 1 12 1-3 1-10 1-37 1 37 1-14 1-27 1 22 1-20 1 30 1-46 1 27 1-24 1-28 1 3 1-5 1 7 1 14 1-15 1 10 1-8 1-3 1-16 1 4 1 1 1-13 1 7 1-10 1 6 1-8 1 8 1 0 1 18 1-21 1 0 1 14 1-8 1 0 1 10 1 4 1 0 1 15 1 11 1-4 1-14 1-9 1 5 1 19 1-16 1 29 1-10 1 8 1 11 1-2 1-25 1 7 1 41 1-18 1 22 1-17 1 9 1-9 1 17 1 7 1-5 1 11 1-3 1-27 1 36 1 6 1-17 1 25 1-23 1 15 1 11 1-32 1 40 1-3 1 14 1-14 1 9 1 4 1 4 1-9 1 32 1-29 1 15 1 12 1-10 1 25 1-14 1 1 1 17 1 19 1-25 1 16 1-21 1 8 1 1 1 9 1-2 1-16 1 3 1 5 1 9 1 26 1-32 1 23 1 4 1-31 1-6 1 26 1-32 1 36 1-19 1 11 1-4 1-26 1 34 1-8 1-34 1 7 1 25 1-1 1-3 1 3 1-13 1 1 1 27 1-45 1-4 1 50 1-9 1 14 1-11 1 4 1-10 1-21 1 6 1 24 1-9 1 7 1 10 1-21 1 28 1-33 1 6 1 10 1 1 1-13 1 14 1-31 1 25 1 8 1-11 1-1 1 2 1-13 1 36 1-22 1-5 1 3 1 5 1-12 1-9 1 29 1-20 1 2 1-18 1 30 1 5 1-3 1-2 1-29 1 45 1-14 1-13 1 16 1-6 1 1 1-11 1 8 1-6 1 12 1-10 1 7 1-4 1 8 1 3 1-8 1 12 1-13 1 36 1-21 1 0 1-33 1 13 1 6 1 6 1-2 1 2 1-20 1 39 1-21 1 4 1-7 1 0 1-1 1 21 1-26 1 12 1 9 1-32 1 5 1-2 1 19 1-26 1 16 1 4 1-4 1-18 1 44 1-32 1 2 1 22 1-20 1 0 1-5 1 7 1 8 1 12 1-16 1 4 1-27 1 27 1 8 1 3 1-35 1 10 1-9 1 19 1 18 1-36 1 26 1-14 1 22 1-21 1-15 1 16 1 4 1-4 1-3 1 17 1-1 1-10 1 13 1-4 1 14 1 6 1 2 1-30 1 14 1-10 1 9 1 2 1-9 1 0 1 12 1-16 1-2 1-6 1-2 1 26 1 4 1-16 1-6 1 27 1-21 1-5 1 3 1 15 1-8 1 18 1-7 1-9 1-25 1 11 1 31 1-3 1-6 1 0 1-7 1-2 1-12 1 22 1-3 1-20 1-2 1 21 1-14 1 44 1-33 1-15 1 7 1-3 1 0 1 18 1-18 1-4 1-15 1 37 1-4 1-31 1 43 1-20 1 28 1-21 1-9 1 16 1 6 1-30 1 19 1 5 1-12 1-9 1 6 1 20 1 0 1-8 1 20 1-15 1 5 1-3 1-6 1-4 1 9 1-14 1 6 1-33 1 18 1-3 1 41 1-49 1 29 1 9 1-16 1 2 1 5 1-28 1 24 1 18 1-6 1-10 1-1 1 14 1-24 1 15 1 11 1-30 1 13 1 13 1 16 1-40 1 26 1 11 1-14 1-8 1-1 1-15 1 33 1-36 1 17 1-4 1 10 1-15 1 27 1-40 1-21 1 44 1-18 1 27 1 0 1 2 1-24 1 4 1 3 1 9 1-2 1 9 1-16 1 32 1-21 1 2 1-36 1 19 1 32 1-28 1 0 1-7 1 12 1 12 1-9 1 15 1-27 1 20 1-6 1 0 1-20 1 18 1 3 1-23 1 43 1-23 1-16 1 31 1-29 1 19 1-41 1 51 1-10 1-6 1-9 1-4 1 33 1-21 1 18 1-28 1 13 1-14 1 20 1-31 1 35 1-38 1 34 1-4 1-4 1 2 1 22 1-35 1 4 1 24 1-6 1 9 1-13 1-10 1 5 1 7 1 4 1-6 1-14 1 8 1 23 1-30 1 28 1-36 1 6 1-8 1 32 1-18 1 4 1 19 1-11 1-24 1 5 1-9 1 32 1-11 1-11 1 12 1 8 1 4 1 18 1-38 1 20 1 2 1-8 1-63 1 40 1 43 1-35 1 13 1-13 1 36 1-13 1-30 1-7 1 34 1 6 1-22 1 18 1-8 1 0 1 1 1-21 1 8 1 14 1-4 1 19 1-36 1 27 1 22 1-24 1 3 1-16 1 1 1 11 1-17 1-15 1 8 1 1 1 30 1-3 1 3 1-10 1 1 1-19 1 13 1 11 1-18 1-13 1 29 1-22 1 24 1-13 1-4 1 0 1 2 1 14 1 0 1 4 1-8 1-3 1 7 1-13 1-4 1 7 1-4 1-16 1 7 1 22 1-7 1-4 1 8 1 2 1 10 1-6 1-8 1 4 1-1 1-27 1 46 1-36 1 23 1-15 1-4 1 25 1-26 1 5 1-26 1 39 1-13 1-5 1 23 1-14 1-31 1 41 1-21 1 3 1-1 1-10 1 14 1 6 1 13 1 6 1-24 1 31 1-25 1 20 1-14 1-2 1-31 1 45 1-34 1 27 1-30 1-3 1 5 1 3 1 3 1 18 1 3 1 0 1 8 1-5 1-3 1-5 1 16 1-17 1-25 1 14 1 27 1-20 1-3 1 21 1-13 1-1 1-1 1 18 1-15 1-2 1 2 1-12 1 4 1 26 1-23 1 15 1-25 1 3 1-6 1 10 1 13 1-20 1 1 1-15 1 29 1-2 1-8 1 12 1-6 1-13 1-18 1 19 1-11 1 16 1 7 1-17 1-18 1 36 1-5 1 1 1-29 1 11 1 15 1 2 1-3 1-38 1 47 1-31 1 0 1 18 1-17 1-1 1 7 1-3 1 0 1-5 1-9 1 6 1 2 1-1 1 11 1 15 1-39 1 17 1 2 1-18 1 7 1 0 1 2 1-2 1-2 1 15 1-28 1 24 1 3 1-4 1-25 1-2 1 14 1-5 1-3 1 27 1-28 1 22 1 6 1 1 1 7 1-13 1-11 1-21 1 15 1-3 1 26 1-12 1-10 1-17 1 1 1 10 1 8 1 8 1-7 1-5 1 10 1-25 1 5 1-7 1 16 1 9 1-16 1-17 1 22 1-16 1 21 1-56 1 73 1-37 1 34 1-14 1 9 1-4 1-23 1 1 1-3 1-4 1 28 1-28 1 6 1-19 1 28 1-24 1 49 1-34 1 0 1 7 1-16 1 3 1 5 1 2 1 4 1-9 1-27 1 20 1-6 1 5 1 5 1-5 1 44 1-49 1-8 1 10 1 1 1 15 1-28 1 16 1-4 1-3 1-2 1 1 1-20 1 8 1 10 1 16 1-8 1-8 1 0 1 1 1 3 1 4 1-31 1 16 1 32 1-17 1-14 1-4 1 8 1-18 1 8 1 19 1 1 1-7 1-2 1-5 1-12 1 4 1 4 1 6 1-12 1 1 1 29 1-20 1 15 1-12 1-10 1 6 1-12 1 27 1 0 1-1 1-6 1-9 1-5 1 20 1-12 1-4 1 0 1 5 1-8 1 7 1 10 1 1 1-20 1 12 1-8 1-11 1-7 1 26 1 16 1-17 1 10 1 24 1-24 1-31 1 14 1-9 1-18 1 33 1-20 1 23 1-21 1 3 1-6 1 4 1 12 1-9 1 0 1-7 1 10 1-22 1 15 1 3 1-14 1 23 1-16 1-32 1 26 1 10 1-7 1-24 1 27 1-15 1 8 1-29 1 48 1-1 1-22 1-21 1 24 1 21 1-11 1 14 1-49 1 34 1-22 1-1 1 14 1-8 1-27 1-3 1 21 1-5 1 61 1-63 1 28 1-25 1 25 1-8 1 8 1-14 1 6 1-16 1-10 1 34 1 3 1-18 1 21 1-41 1 11 1-8 1 16 1-33 1 27 1 6 1 10 1-16 1 44 1-62 1 19 1 16 1-41 1 15 1 3 1 14 1-6 1-25 1 6 1 2 1 17 1 6 1-20 1-14 1-5 1 25 1 7 1-22 1-10 1 0 1 15 1-26 1 14 1 7 1-23 1 27 1-17 1 22 1-38 1 38 1-33 1 20 1 7 1-15 1 7 1-5 1-3 1 18 1-32 1 24 1 10 1-12 1-24 1 16 1 2 1-1 1-36 1-4 1 44 1-12 1-7 1-9 1 12 1 6 1-11 1-21 1 10 1 21 1-29 1-12 1 23 1-23 1 6 1 19 1-9 1-30 1 22 1 1 1 1 1-21 1-2 1 19 1-48 1 5 1-2 1 19 1-3 1-11 1 9 1-23 1-5 1 5 1-23 1 6 1 20 1-6 1-7 1 25 1-6 1-5 1 2 1 16 1 18 1-39 1 12 1-2 1 15 1-18 1 16 1 26 1-21 1-6 1 24 1 7 1-12 1 30 1-11 1 20 1-2 1-4 1-1 1 19 1-17 1-3 1 43 1-36 1 13 1 2 1 8 1-14 1 6 1 23 1-3 1-25 1 36 1-1 1-8 1-13 1 38 1 14 1-39 1-16 1 54 1-25 1 5 1 0 1-16 1 7 1-1 1 11 1-9 1 24 1-19 1 20 1-33 1 18 1 2 1-12 1 17 1-7 1 23 1-4 1-14 1-8 1 8 1 17 1-12 1-7 1-3 1-18 1 38 1-21 1 10 1 3 1-14 1 6 1 9 1 15 1-20 1-1 1 2 1-4 1 17 1-26 1 13 1 2 1 11 1 1 1-20 1 4 1-11 1 14 1 0 1-17 1 24 1 26 1-26 1-10 1-1 1 24 1-17 1-8 1-11 1 33 1-42 1 34 1-14 1 25 1-16 1-5 1 23 1-33 1 28 1 0 1-40 1 17 1 1 1 7 1 7 1-3 1 11 1-14 1-13 1-11 1 16 1 6 1-2 1 19 1-8 1-20 1 11 1 5 1 38 1-22 1-13 1 10 1 9 1-28 1 38 1-34 1 23 1 12 1-20 1 8 1-22 1 31 1-5 1 15 1-13 1-20 1-3 1 0 1 3 1 26 1-37 1 4 1 6 1-8 1 7 1 27 1-18 1 8 1-5 1 11 1 8 1-7 1-3 1-12 1-6 1 20 1 4 1 6 1-9 1-12 1 0 1 18 1-13 1-6 1-6 1 8 1 21 1-2 1 14 1-13 1 0 1 9 1 2 1-18 1-34 1 34 1-7 1 27 1-13 1-12 1-9 1 25 1 8 1-34 1 25 1-14 1 13 1 25 1-45 1 25 1 17 1-25 1-14 1-19 1 23 1 16 1-17 1 32 1-50 1 13 1 25 1-6 1 8 1-3 1-15 1 4 1 25 1-15 1 12 1-10 1 11 1-9 1-11 1-11 1 30 1-20 1-16 1 40 1-13 1-2 1-19 1 26 1-11 1-15 1 9 1-7 1 36 1-27 1 12 1 11 1 10 1-34 1-7 1 27 1-2 1 23 1-37 1 26 1-7 1-12 1-72 1 71 1-5 1-24 1 38 1-20 1-4 1 10 1 18 1 11 1-12 1-7 1-3 1-25 1 8 1 12 1 1 1-9 1 32 1-5 1-27 1 24 1-12 1 31 1-18 1 5 1-12 1 6 1-12 1 23 1-25 1-20 1 20 1 11 1-44 1 12 1 18 1 20 1-7 1-46 1 45 1-18 1-2 1 12 1 31 1-49 1 14 1-26 1 41 1-7 1-1 1 2 1-22 1 15 1-2 1-9 1 22 1-2 1-21 1 14 1 5 1-3 1 4 1-7 1-4 1-14 1 6 1 12 1 0 1-18 1 15 1 9 1 10 1-10 1-8 1 11 1-32 1 25 1-15 1 35 1-39 1 24 1 16 1-32 1-3 1 8 1-3 1-10 1 4 1 19 1-2 1-21 1-2 1 16 1 3 1-4 1 0 1 24 1-11 1-6 1-18 1 30 1-25 1 4 1-36 1 51 1-42 1 13 1 22 1-18 1-8 1 19 1 3 1-11 1 5 1-24 1 15 1-9 1-21 1 30 1-11 1 0 1 5 1-4 1 13 1-19 1 15 1-16 1 13 1-7 1 10 1 21 1-31 1 8 1-23 1 6 1 10 1 11 1-31 1 12 1 19 1-41 1 29 1-10 1 27 1-28 1-10 1 32 1 0 1-14 1 18 1-30 1 6 1-11 1-3 1 15 1-11 1 30 1-33 1 11 1-32 1 31 1-9 1-1 1 11 1-8 1-11 1 23 1-8 1-10 1 28 1-21 1 11 1 0 1-16 1 9 1-7 1-10 1 6 1 28 1-22 1 21 1-12 1-30 1 17 1 12 1-9 1 4 1-1 1-14 1 22 1 13 1-31 1 2 1 6 1 9 1-18 1 20 1-17 1-5 1-16 1 31 1 6 1-22 1 11 1-11 1 0 1 31 1-7 1-39 1 37 1-7 1 20 1-20 1-1 1-14 1 8 1-1 1-16 1 30 1-17 1 9 1 7 1-33 1 18 1-5 1 2 1-8 1 17 1-19 1 3 1 7 1 0 1 5 1 2 1 5 1 23 1-36 1 6 1-14 1 40 1-46 1 9 1 26 1-7 1-23 1 33 1-28 1 1 1 31 1 0 1 2 1-16 1 7 1-20 1 36 1-49 1 31 1 10 1-30 1 8 1 10 1 18 1-10 1 3 1-16 1 7 1 1 1 13 1-38 1 21 1-4 1-4 1 30 1-35 1 18 1-5 1 6 1-18 1-6 1 43 1-13 1-16 1-8 1 11 1-2 1-4 1 22 1-13 1-6 1 6 1-12 1 16 1-3 1-31 1 35 1-14 1 4 1 10 1-8 1 5 1-23 1 33 1-18 1 19 1-13 1 1 1 22 1-15 1-9 1 6 1 20 1-25 1-5 1 13 1-26 1 22 1-7 1 7 1-35 1 43 1-9 1-13 1 22 1-19 1-11 1 2 1 12 1-3 1 5 1-5 1 12 1 4 1-22 1 28 1-27 1 28 1-5 1-12 1-5 1-8 1 40 1-46 1 19 1 0 1 16 1-5 1-12 1-7 1 37 1-30 1-8 1 32 1-25 1-11 1 22 1-13 1-24 1 25 1 9 1-25 1 18 1 18 1-21 1-10 1 4 1 21 1-17 1 13 1-8 1-10 1 24 1 11 1-38 1 19 1 0 1-1 1-2 1 20 1 12 1-29 1-5 1 13 1-21 1 0 1 17 1 6 1-11 1 4 1-36 1 16 1 11 1 11 1-24 1 20 1-7 1 7 1-10 1 17 1-22 1 28 1-25 1 12 1-22 1 6 1 14 1-34 1 30 1 0 1 42 1-43 1 23 1-24 1-6 1 23 1-9 1 15 1-37 1-4 1 34 1 2 1-1 1-17 1 29 1-27 1-8 1 7 1-22 1 34 1 0 1-22 1-9 1 25 1 11 1-46 1 27 1-4 1 27 1 2 1-39 1 9 1-16 1 25 1 4 1 12 1-41 1 2 1 27 1 0 1-13 1 9 1 7 1-8 1 25 1 1 1-17 1-8 1-14 1 12 1-1 1-35 1 39 1 7 1-5 1-20 1 1 1 27 1 5 1-23 1-8 1 12 1 10 1 25 1-14 1-5 1-13 1 8 1-13 1 26 1-9 1-14 1 15 1 38 1-46 1-4 1 12 1 5 1 7 1-4 1 13 1-8 1 6 1 20 1-37 1 4 1 18 1-13 1 6 1 43 1-44 1-5 1 33 1-10 1-22 1 28 1 15 1-20 1 9 1-7 1-11 1 1 1 21 1-3 1-43 1 50 1-8 1 4 1 6 1-36 1 17 1-3 1-2 1 10 1 12 1-13 1 30 1-42 1 53 1-35 1 23 1-19 1-17 1 9 1-5 1 17 1-6 1-19 1 47 1-17 1-36 1 11 1 6 1 7 1 0 1-7 1 28 1-42 1 26 1-4 1 15 1-22 1 4 1 28 1-21 1-6 1-2 1-3 1-12 1 0 1 11 1 7 1 11 1-16 1 0 1 6 1-8 1 7 1 16 1-26 1-6 1 10 1 7 1-13 1 23 1 18 1-13 1 5 1 3 1-10 1-8 1 0 1-23 1 4 1 8 1-6 1 5 1 16 1-7 1-2 1 30 1-33 1 5 1 15 1-16 1 19 1-26 1 30 1-14 1-28 1 21 1 10 1-13 1 11 1-11 1 13 1-10 1 18 1-7 1 6 1-1 1-18 1 3 1 8 1 11 1-8 1-24 1 33 1-11 1 12 1-37 1 13 1-1 1-8 1 35 1-22 1-8 1-7 1 9 1 19 1 7 1-8 1-16 1 9 1-26 1 5 1 16 1 6 1-5 1 4 1-10 1 3 1 6 1-7 1-1 1 3 1 25 1-35 1 42 1-40 1 23 1 4 1 3 1-23 1-32 1 24 1 16 1 28 1-36 1 10 1 1 1 18 1-14 1 13 1-31 1-12 1 19 1-10 1 21 1-10 1 13 1-26 1 6 1 2 1 21 1-19 1 3 1 21 1-28 1 2 1 27 1-52 1 47 1-20 1 2 1 3 1 3 1-4 1 20 1-47 1-2 1 32 1-21 1 15 1-2 1 3 1 9 1-38 1 19 1 34 1-28 1-1 1 43 1-30 1-17 1 20 1 1 1-24 1 26 1-14 1-22 1 36 1 0 1-3 1 0 1-15 1 3 1-7 1 26 1-5 1 16 1-18 1-12 1-9 1 3 1 1 1 51 1-65 1 11 1-6 1 34 1-10 1-5 1 15 1-18 1 12 1 17 1-24 1-1 1 9 1 4 1 1 1-15 1 9 1-4 1 12 1-17 1-2 1-8 1 8 1-3 1 14 1 12 1-27 1 37 1-30 1 20 1-9 1-15 1 6 1-20 1 28 1 18 1-21 1 20 1-24 1-3 1 5 1-7 1 10 1 38 1-42 1-8 1 7 1 12 1-14 1-22 1 11 1 33 1-22 1 18 1-17 1-10 1 13 1 10 1-17 1-14 1 13 1-5 1 24 1-28 1-1 1-6 1 19 1-6 1 1 1 10 1-8 1 35 1-9 1-32 1 34 1-24 1 4 1-19 1 21 1 7 1-6 1-4 1 9 1-5 1-29 1 18 1 8 1-15 1 37 1-21 1-8 1 4 1 3 1-12 1-4 1-14 1 36 1-10 1-31 1 41 1-12 1-8 1-5 1 37 1-11 1-7 1 0 1-8 1 0 1 22 1-28 1-2 1 22 1-38 1 17 1-3 1 9 1-18 1 13 1 0 1 8 1 8 1 8 1-15 1-9 1-3 1 3 1 34 1 7 1-20 1-6 1-22 1 29 1-18 1-11 1 0 1 17 1-12 1 30 1-4 1-7 1-4 1 5 1-38 1 8 1 20 1-7 1-23 1 33 1-11 1-7 1 24 1 5 1-26 1 10 1 4 1-8 1 7 1-19 1 5 1 16 1-5 1 25 1-32 1 3 1 7 1 11 1-6 1 9 1-13 1 9 1-20 1 21 1-8 1-25 1 34 1-3 1-23 1 15 1 14 1-21 1 21 1-21 1 20 1-13 1-40 1 36 1-5 1 9 1-12 1 22 1-11 1-3 1-2 1 0 1-9 1 14 1-16 1 4 1-7 1 30 1 2 1-27 1 4 1-14 1-1 1 27 1 23 1-38 1 19 1-29 1 42 1 8 1-30 1 5 1 20 1-19 1-22 1 21 1-24 1 31 1-6 1 10 1-10 1 2 1-11 1 11 1-10 1-3 1 41 1-61 1 27 1-15 1 7 1 7 1 1 1 12 1-37 1 29 1-8 1 16 1-28 1-18 1 30 1-4 1-5 1 3 1 20 1-18 1 21 1-8 1-20 1-20 1 40 1-25 1 0 1 24 1 8 1 0 1-21 1 2 1-12 1 15 1 3 1 21 1-26 1-12 1 26 1-23 1-5 1 16 1 1 1-2 1-15 1 12 1-14 1-5 1 28 1 10 1-12 1 13 1-10 1 22 1-38 1 6 1 0 1 10 1 4 1-20 1-8 1-7 1-3 1 36 1-25 1 28 1-17 1 14 1 1 1 7 1-4 1-19 1 13 1-13 1-7 1 10 1 7 1-14 1 25 1-31 1-3 1 6 1 24 1-17 1 9 1 1 1-25 1 16 1 14 1-1 1-11 1 7 1-4 1 7 1-32 1 7 1 31 1-17 1-15 1 20 1-2 1-16 1 14 1-4 1 19 1-17 1 3 1 8 1-7 1-12 1-7 1 4 1 0 1 8 1-2 1-1 1-5 1 26 1-18 1-16 1 18 1 11 1-13 1 6 1-18 1 23 1-2 1 6 1-10 1 23 1-14 1 2 1 1 1-31 1 23 1 3 1 0 1-17 1-9 1 5 1-10 1 21 1-14 1 11 1-1 1-3 1-8 1 1 1 25 1-36 1 23 1-15 1 3 1 6 1 30 1-22 1 4 1 1 1 3 1-8 1 14 1-15 1-10 1 6 1 0 1 21 1-55 1 25 1 8 1 2 1-4 1-9 1 11 1 4 1-20 1 14 1 3 1 0 1 21 1-49 1 34 1-1 1-22 1 29 1-26 1 17 1-20 1 12 1 14 1 6 1-12 1 1 1-5 1 15 1-6 1-35 1 52 1-34 1-11 1 10 1 9 1-3 1-12 1 25 1-14 1 8 1 22 1-19 1-31 1 13 1 8 1 12 1 9 1-23 1 5 1 8 1 5 1 5 1 1 1-27 1 22 1-20 1 13 1 8 1-1 1-8 1-10 1 22 1-4 1-33 1 43 1-3 1-36 1 41" stroke="#b07ae0"/>
<path transform="translate(136,0) scale(0.6,0.5)" vector-effect="non-scaling-stroke" d="M0 3585 l1 4 1-3 1-35 1 16 1-2 1 4 1 11 1-14 1 15 1-18 1 35 1-43 1 15 1 1 1-8 1 13 1-5 1-16 1 16 1-29 1 15 1 7 1 26 1-9 1-14 1 2 1-7 1-11 1 2 1-3 1 27 1-19 1-3 1 0 1-5 1-5 1 24 1-22 1 1 1 2 1-25 1 4 1 10 1-9 1-4 1 33 1-36 1 27 1-26 1 13 1-11 1 2 1 11 1-21 1 24 1 11 1-6 1 1 1-11 1 15 1-10 1 22 1-53 1 27 1-11 1 1 1-21 1 20 1 5 1 2 1-1 1-39 1 27 1 5 1 7 1-11 1 11 1-17 1 4 1-30 1 15 1-3 1 6 1 14 1-22 1 10 1-20 1 18 1-11 1-5 1 7 1-2 1-3 1-4 1 21 1-6 1 16 1-31 1 6 1 14 1-17 1-14 1 24 1 22 1-37 1-4 1 20 1-13 1-6 1 9 1 3 1 9 1 3 1-24 1 16 1 11 1 18 1-31 1-2 1 8 1-2 1-9 1-6 1-1 1 42 1-54 1 14 1 0 1 0 1-2 1 13 1-6 1-38 1 36 1 14 1-4 1-40 1 44 1-11 1-21 1 24 1-12 1 0 1 5 1-26 1 20 1-15 1 32 1-58 1 35 1-4 1 11 1 4 1 7 1-20 1 9 1-15 1 19 1 10 1-33 1-1 1 12 1 14 1-9 1-24 1 2 1 20 1 40 1-56 1 4 1-6 1 9 1 20 1-22 1-25 1 20 1-8 1 22 1 3 1-19 1 4 1 23 1 3 1-22 1-23 1 24 1 0 1 0 1-25 1-12 1 45 1 21 1-58 1 23 1 3 1-3 1 6 1-10 1 14 1-37 1 14 1 22 1-38 1 21 1-21 1 24 1-15 1-16 1 40 1-50 1 25 1 1 1-9 1-3 1-3 1 2 1-13 1 1 1 18 1-17 1 24 1-18 1-12 1 7 1-21 1 16 1-17 1 25 1 10 1-24 1-9 1 3 1-5 1 6 1 1 1 2 1-8 1 0 1-11 1-25 1 14 1 0 1-9 1-25 1 7 1 22 1-26 1 15 1-13 1-3 1-3 1 1 1-26 1 3 1-2 1 9 1-33 1 27 1-6 1-1 1-26 1 41 1-19 1-35 1 25 1-15 1-16 1 11 1-12 1-2 1-25 1-8 1 0 1 6 1 1 1-21 1 1 1 21 1-15 1-10 1-31 1 7 1-11 1 0 1-9 1 1 1-9 1-26 1-8 1 5 1-31 1 16 1 6 1-40 1 15 1-50 1 38 1-31 1-12 1-9 1 1 1-4 1 20 1-6 1-26 1-4 1-11 1 22 1 5 1 3 1-16 1-22 1 22 1 19 1-21 1 17 1 22 1-15 1 6 1 9 1-4 1-12 1 40 1-31 1 29 1-3 1 10 1 2 1 21 1-3 1 9 1 8 1 19 1-1 1 15 1 8 1 27 1 31 1-31 1 33 1 20 1 14 1-15 1 47 1 13 1-17 1 11 1 41 1 4 1-6 1-16 1 6 1 20 1 4 1-18 1 27 1 12 1-16 1 20 1 7 1-6 1 16 1-10 1 2 1 30 1-23 1-1 1-3 1-4 1-16 1 28 1-4 1-25 1-5 1 13 1 9 1-29 1 39 1-43 1 16 1-22 1 0 1-27 1 6 1-18 1 0 1 4 1-2 1-42 1 9 1-10 1 7 1-20 1-28 1-18 1 5 1 12 1-22 1 0 1-18 1 29 1-35 1 13 1-7 1-10 1 19 1 1 1-9 1 17 1-3 1 28 1-5 1-10 1 42 1-15 1 7 1 7 1 4 1 15 1-28 1 39 1-22 1 34 1-44 1 25 1 10 1 0 1-12 1 11 1 9 1 11 1 4 1 7 1 6 1 6 1-8 1 25 1-1 1-18 1-2 1 24 1 12 1-37 1 44 1-2 1 10 1 20 1-12 1 18 1-2 1 22 1-7 1 23 1 9 1 23 1 0 1 19 1-14 1 42 1-22 1-15 1 4 1 31 1 3 1-16 1-11 1 1 1 12 1 22 1-32 1 28 1-5 1-22 1 16 1 11 1-9 1-1 1-12 1 55 1-23 1 4 1-23 1 14 1-10 1-14 1 10 1-8 1-4 1 12 1 12 1 2 1-6 1-2 1-25 1 42 1-15 1 4 1-6 1 5 1-12 1 20 1-21 1-2 1 0 1 16 1 3 1-4 1-2 1 2 1 5 1-7 1 11 1-7 1-17 1 36 1-24 1 15 1-30 1 17 1 18 1 36 1-37 1-18 1 16 1-3 1-15 1 32 1-17 1 2 1-17 1 3 1 8 1-10 1 7 1-6 1 22 1-9 1-9 1 42 1-58 1 27 1 1 1 2 1-12 1 13 1 14 1-19 1 11 1 0 1-19 1 10 1 14 1 9 1-15 1 27 1-38 1-8 1 24 1-2 1-4 1 25 1-12 1-10 1-2 1 4 1 4 1 15 1-39 1 28 1-9 1 15 1-2 1-4 1-12 1-12 1 33 1-15 1 6 1 7 1-6 1-11 1 5 1 0 1-10 1 22 1-5 1-14 1 12 1 5 1-13 1 2 1 4 1 18 1 0 1-11 1 5 1-2 1 3 1-22 1 17 1 7 1-40 1 15 1 36 1-18 1 8 1-17 1 20 1-6 1-10 1 9 1-14 1-5 1 0 1-10 1 24 1-6 1 20 1-1 1-12 1 5 1-3 1-25 1 33 1-6 1 13 1 9 1 2 1-7 1-36 1 35 1-5 1-13 1 23 1-18 1 18 1 16 1-34 1 18 1 3 1 0 1-20 1-19 1 51 1-28 1 3 1-4 1-4 1 21 1 8 1-3 1-12 1 7 1-24 1 33 1-22 1-10 1 23 1-11 1 35 1-22 1 7 1 14 1-39 1 6 1 30 1-20 1 4 1 6 1-6 1-3 1-3 1 3 1 10 1 1 1-31 1 10 1-8 1 21 1 0 1 17 1-35 1 9 1-1 1 12 1 4 1 2 1 1 1 1 1-5 1-4 1 7 1-11 1 11 1-1 1 5 1-14 1-21 1 21 1 10 1-3 1 0 1-10 1 17 1-11 1-10 1 13 1-11 1 28 1 6 1-30 1 24 1-5 1-7 1 1 1-15 1-18 1 29 1 17 1-26 1 4 1 10 1-8 1 18 1-28 1 22 1-34 1 8 1 23 1-8 1 11 1-27 1 14 1 13 1-21 1 25 1-11 1 7 1-37 1 30 1-17 1 7 1 11 1-18 1-13 1 23 1 32 1-7 1 3 1-27 1-8 1 20 1-8 1-16 1 29 1-14 1 2 1-1 1-2 1 9 1-20 1 33 1-9 1-7 1-17 1 24 1-31 1 33 1-23 1 22 1-12 1 20 1-32 1-27 1 50 1-24 1 7 1 9 1 2 1 4 1-22 1-1 1 18 1 3 1 3 1-21 1 5 1-5 1 11 1 29 1-54 1 10 1 35 1-8 1-20 1 16 1 23 1-38 1 12 1 7 1-3 1-9 1-23 1 38 1 10 1-22 1-21 1 30 1-23 1-9 1 39 1-8 1 0 1-2 1 1 1 21 1-11 1-25 1-4 1 24 1-6 1 1 1-22 1-10 1 4 1 13 1-12 1 2 1 1 1 15 1 6 1-6 1-12 1 3 1 4 1 18 1 16 1-6 1-30 1 16 1 8 1-4 1 10 1-23 1 9 1 8 1 10 1-6 1-1 1-32 1 39 1-14 1-20 1 18 1 8 1-10 1 9 1-23 1 46 1-39 1 10 1-20 1 1 1 27 1-16 1-2 1 17 1-2 1-6 1 6 1 0 1-15 1 12 1-12 1 11 1-19 1 36 1-23 1 21 1 7 1-23 1 30 1-36 1 9 1-4 1-2 1 6 1 0 1-4 1 6 1 4 1 4 1-3 1 0 1-1 1 24 1-32 1-10 1 22 1 5 1-5 1 9 1-27 1 26 1 8 1-11 1 13 1 0 1-18 1-19 1 28 1 3 1-23 1 40 1-26 1 9 1-17 1-4 1 13 1-10 1 23 1 1 1-47 1 45 1-27 1 45 1-33 1 8 1-9 1 13 1-12 1 5 1-1 1 10 1-16 1-2 1 12 1 0 1-1 1-17 1 19 1-12 1 3 1 22 1-28 1-3 1 11 1 12 1-5 1-5 1 35 1-12 1-46 1 21 1-15 1 23 1-3 1 15 1-43 1 17 1 7 1 19 1-6 1 8 1-8 1 2 1-19 1-2 1 31 1-26 1 2 1 24 1-4 1-21 1 21 1 3 1-20 1 12 1 8 1-29 1 17 1-15 1 6 1-15 1 8 1 20 1-21 1 17 1 4 1-20 1 9 1-10 1-2 1-33 1 45 1 9 1-24 1-3 1 14 1-8 1-2 1 30 1-30 1-9 1-1 1 2 1 26 1-11 1 8 1-31 1 40 1-34 1 13 1-26 1 10 1-15 1 18 1 8 1-33 1 13 1-2 1 3 1 1 1 10 1-9 1-14 1 18 1-11 1-18 1 35 1-21 1-15 1 14 1-11 1-6 1 22 1-25 1 4 1-8 1 13 1 3 1 8 1 15 1-24 1-9 1 3 1 11 1-7 1 11 1 4 1-22 1 10 1 3 1-15 1-2 1 10 1-9 1 14 1 15 1-12 1-6 1-10 1 32 1-33 1 13 1-8 1 8 1 11 1-12 1 1 1 8 1-39 1 19 1-2 1-33 1 28 1 24 1 6 1-42 1 13 1 15 1-10 1 19 1-16 1 1 1-4 1-8 1 22 1 9 1 12 1-36 1 2 1-4 1 10 1-6 1 1 1-9 1-18 1 1 1 23 1-4 1-6 1-11 1 16 1 9 1-10 1 9 1-11 1-23 1 17 1-13 1 37 1-14 1 9 1-18 1-21 1-21 1 21 1 11 1 10 1 0 1 1 1-26 1 15 1-2 1-10 1-10 1 13 1 3 1-17 1-4 1 26 1-6 1-34 1 28 1 1 1-15 1-2 1 8 1 12 1-9 1-2 1-17 1 38 1-19 1-19 1 0 1 2 1 12 1-4 1 13 1-28 1 35 1-41 1 12 1 27 1 2 1-34 1 7 1 16 1 26 1-43 1-1 1 26 1-16 1-8 1 18 1 0 1 7 1-34 1 12 1-15 1 20 1 1 1-3 1 17 1-20 1 22 1-30 1 2 1 3 1 29 1-12 1-10 1 4 1-17 1 1 1 16 1 1 1-14 1 23 1-24 1-15 1 17 1 0 1 29 1-40 1 27 1-17 1 10 1-10 1 5 1-22 1 25 1-10 1 8 1-13 1 8 1-47 1 49 1-2 1-1 1-6 1-18 1 50 1-29 1 21 1-22 1-13 1 9 1 2 1-1 1-8 1 9 1 7 1-11 1 2 1 9 1-4 1-19 1 31 1-19 1 8 1-20 1 3 1 4 1 12 1-2 1 13 1-24 1-3 1-6 1 10 1-15 1 22 1 2 1-33 1 17 1 19 1-32 1-3 1 23 1-25 1 4 1 27 1-17 1-15 1 12 1-5 1 17 1-36 1 15 1 6 1-14 1-3 1 11 1 2 1 1 1 4 1 9 1 12 1-39 1 15 1-16 1 6 1 12 1 17 1-43 1 29 1-27 1 40 1-23 1-20 1 11 1-2 1 5 1 0 1-49 1 51 1 0 1 5 1-6 1-23 1 1 1 14 1 7 1-19 1-10 1-10 1 1 1 30 1-17 1 5 1 3 1 3 1-10 1 3 1 0 1-3 1 14 1 21 1-60 1 28 1 3 1-8 1 23 1-27 1-4 1-1 1 8 1-10 1 37 1-29 1-10 1 2 1-12 1 17 1-38 1 9 1 10 1-11 1 14 1-34 1 8 1 14 1-16 1-11 1 15 1 10 1-40 1 13 1 16 1-6 1-19 1-7 1 5 1-2 1-7 1-2 1-16 1 15 1-40 1 38 1-27 1 7 1-29 1-9 1 22 1-1 1-36 1 34 1-6 1-25 1 35 1-14 1 22 1 43 1-32 1-7 1 34 1-8 1 21 1-4 1 5 1 6 1 16 1 3 1 24 1 25 1-47 1-6 1 7 1 27 1 39 1-35 1 16 1-3 1 22 1-7 1 0 1 7 1-15 1 18 1 10 1 20 1-17 1-8 1 29 1-2 1-2 1-21 1 14 1 31 1-18 1 20 1-17 1 20 1 21 1-34 1 2 1 11 1-16 1-1 1 25 1-25 1 6 1 30 1-17 1-14 1 18 1-16 1 11 1 4 1 1 1-18 1 8 1 16 1 17 1-35 1 12 1-19 1 21 1 4 1 6 1-17 1 2 1-27 1 17 1 23 1-16 1 8 1-6 1 7 1-17 1 16 1 3 1 0 1 27 1-34 1 8 1 0 1 19 1-11 1-22 1 25 1-6 1 20 1-40 1 36 1-25 1 12 1-2 1 7 1 4 1 1 1-9 1-2 1 2 1 2 1-5 1 15 1-27 1 29 1-20 1 19 1 9 1-3 1 6 1-21 1 15 1-3 1-12 1-7 1 3 1 29 1-20 1 17 1-10 1 7 1-19 1 2 1-4 1 9 1 18 1-18 1 1 1 6 1 1 1 4 1-11 1 9 1-26 1 37 1 6 1-22 1 14 1-7 1-9 1 13 1-7 1 0 1-3 1 3 1 31 1-12 1-6 1-4 1 1 1-10 1-7 1-2 1 7 1 8 1-2 1-3 1 25 1-17 1 21 1-26 1 29 1-6 1 11 1 3 1-18 1-9 1 19 1 19 1-31 1 0 1 23 1-15 1-17 1 10 1 15 1-13 1-3 1 21 1 0 1 8 1-37 1 11 1 10 1 22 1-13 1-11 1 0 1 14 1-22 1 20 1-1 1 12 1-15 1-8 1-13 1 20 1 36 1-20 1-18 1-6 1 8 1 1 1 3 1 15 1 10 1-27 1-12 1 18 1-11 1 7 1-22 1 34 1-11 1 26 1-18 1-24 1 4 1 1 1 7 1 18 1-24 1 3 1 31 1-34 1 23 1-9 1-5 1-13 1 19 1-25 1 1 1 33 1-12 1 2 1 25 1-18 1-12 1-9 1 21 1-1 1 11 1-20 1 5 1 8 1-13 1-9 1 16 1 0 1 6 1-1 1 4 1-14 1 8 1 19 1-36 1 14 1-1 1-20 1 14 1 4 1-6 1-15 1 15 1-13 1 1 1 11 1 3 1-7 1-10 1 21 1-1 1-9 1 22 1-10 1-14 1 25 1-8 1-12 1-11 1 6 1 14 1-9 1-1 1-9 1 12 1-7 1 13 1 10 1 3 1-12 1 3 1-13 1 4 1-18 1 15 1-14 1 16 1 3 1 2 1 1 1-8 1-11 1 4 1 9 1-15 1 18 1-4 1 8 1-5 1-15 1 3 1-10 1 13 1-12 1 13 1 11 1-12 1 3 1 26 1-44 1 31 1-11 1 24 1-30 1-35 1 41 1 3 1-12 1 8 1 25 1-22 1-20 1 4 1 6 1-5 1 5 1-5 1 10 1-15 1 28 1-22 1-5 1-4 1 6 1 27 1-19 1 19 1-32 1 11 1-23 1 35 1-20 1 24 1-30 1 9 1-5 1 34 1-29 1-3 1-2 1-2 1 0 1 7 1-36 1 33 1-17 1 8 1 2 1-17 1 9 1-14 1 38 1-34 1 17 1-1 1 4 1-9 1-14 1 17 1-16 1-9 1 10 1 6 1 11 1-30 1 7 1 11 1-3 1 20 1-17 1-18 1 30 1-17 1-6 1-14 1 9 1 1 1 13 1-1 1 19 1-8 1-11 1 6 1-9 1-9 1 13 1-15 1 17 1-12 1 0 1 14 1-12 1-14 1 1 1 31 1-17 1-1 1-4 1-13 1 13 1 10 1-14 1 6 1-8 1 5 1 20 1-16 1 20 1-40 1-17 1 39 1-18 1 1 1 7 1 8 1-14 1 5 1 19 1 7 1-28 1-26 1 1 1 11 1 16 1-15 1 14 1 13 1-7 1 16 1-25 1 4 1-13 1 16 1 7 1-15 1 0 1 12 1-8 1-14 1 41 1-29 1 0 1-2 1 4 1-13 1 0 1 1 1 32 1-10 1-2 1 5 1-10 1 25 1-19 1-17 1-24 1 36 1 2 1-1 1 14 1-20 1 11 1-4 1 10 1-4 1-13 1 3 1 17 1-13 1-15 1 24 1-17 1-3 1 16 1-1 1 14 1-28 1 7 1 22 1 17 1-28 1-2 1 1 1-7 1 0 1 27 1-12 1-23 1 32 1-17 1-13 1 14 1 27 1-26 1 8 1 22 1-28 1-15 1 22 1 1 1-8 1 3 1-16 1 7 1 10 1-30 1 75 1-41 1-13 1-4 1 3 1 2 1 15 1-2 1 6 1-7 1-8 1 2 1-20 1 40 1-14 1-16 1 21 1 18 1-27 1 13 1 4 1 14 1-16 1 5 1-15 1 13 1-16 1 7 1-23 1 23 1-10 1 2 1 2 1-5 1 18 1-22 1 37 1-12 1-30 1-14 1 41 1-20 1 4 1 28 1-12 1-27 1 23 1-21 1 33 1-40 1 1 1 23 1 12 1-31 1 25 1 4 1-8 1-6 1 9 1-17 1 19 1 12 1-7 1-26 1 5 1-2 1-4 1 50 1-27 1-10 1-4 1-6 1 0 1 22 1-25 1 22 1 0 1-23 1 11 1 22 1-20 1 3 1 17 1-7 1-3 1-13 1-20 1 15 1 9 1-21 1 39 1-27 1-6 1-5 1 34 1-8 1-22 1 22 1-12 1 5 1-5 1 0 1-12 1 14 1 1 1-21 1 32 1-13 1 9 1-9 1-15 1-2 1 16 1-6 1 7 1-4 1-2 1 5 1-3 1-50 1 79 1-62 1 19 1 7 1-5 1-18 1 22 1 7 1 5 1-16 1 13 1 0 1-10 1-8 1 45 1-47 1 23 1 15 1-35 1-4 1 12 1 10 1-23 1 15 1-11 1-4 1 9 1-21 1 36 1-34 1 30 1-14 1 0 1 16 1-40 1 20 1-3 1 9 1-7 1 25 1-27 1-4 1 9 1-19 1 11 1 15 1 14 1-14 1-17 1-8 1 22 1 21 1-29 1 1 1 27 1-23 1 22 1-9 1-7 1 14 1 10 1-38 1-3 1 62 1-21 1-27 1 12 1-15 1 12 1 2 1-13 1 25 1-25 1 24 1 16 1-26 1 24 1-7 1-13 1 17 1 1 1-15 1 2 1-2 1-2 1 17 1-18 1 24 1 11 1-16 1-13 1 17 1 23 1 12 1-30 1 4 1 2 1 6 1-15 1 11 1-10 1 15 1 1 1-1 1-10 1 3 1 1 1 42 1-30 1 19 1-16 1-12 1 17 1-5 1 16 1-2 1-5 1 16 1-21 1-4 1 2 1 48 1-46 1-5 1 33 1-7 1-16 1-10 1-9 1 25 1-11 1 9 1 30 1-34 1-12 1 8 1 34 1-15 1 13 1-3 1 14 1-25 1 0 1-26 1 38 1-7 1-17 1 13 1 8 1 0 1-4 1 2 1-9 1 31 1 0 1-42 1 26 1-6 1-13 1 4 1 26 1-1 1-14 1 4 1-3 1 0 1-25 1 37 1-25 1 43 1-60 1 20 1 14 1 8 1-24 1 17 1-7 1 27 1-18 1-3 1 0 1 7 1-14 1 24 1-18 1-23 1 1 1 31 1-27 1 11 1 34 1-33 1 32 1-18 1-1 1-4 1-12 1-1 1 15 1-17 1 16 1-2 1 24 1-20 1-6 1 18 1-7 1-11 1 7 1 18 1-20 1 2 1-21 1 37 1-9 1-28 1 28 1-20 1-3 1 3 1-7 1 0 1 4 1 20 1-16 1 12 1-2 1-4 1 8 1-14 1 10 1-4 1-21 1 28 1-20 1 11 1 6 1-21 1 17 1 21 1-23 1-1 1 22 1-17 1 2 1 0 1-8 1 6 1 13 1-29 1 43 1-24 1-5 1 15 1-24 1 13 1 4 1-2 1 11 1-29 1 14 1 14 1-22 1 8 1-3 1 6 1-6 1-14 1 21 1 1 1-7 1 0 1 2 1 16 1-19 1 16 1 0 1 5 1-9 1-1 1 3 1 8 1-22 1 7 1-16 1 20 1-5 1 14 1-21 1 35 1 1 1-46 1 30 1-19 1 16 1-27 1 17 1 17 1-3 1-15 1 8 1 10 1 13 1-9 1-25 1 2 1 6 1 5 1-25 1 12 1 8 1-7 1-17 1 18 1 19 1 4 1-41 1 31 1-7 1 5 1 32 1-35 1-7 1 4 1-3 1-15 1 29 1-18 1 24 1 2 1-18 1 0 1 0 1 0 1-9 1 3 1-21 1 38 1 7 1-20 1 5 1 5 1-9 1 8 1-18 1 23 1-7 1 3 1-18 1 4 1 23 1-23 1 1 1 20 1-6 1-12 1 14 1 1 1 17 1-7 1-20 1 7 1-15 1 12 1 11 1-13 1 3 1 13 1 23 1-22 1 1 1-13 1 14 1-24 1 4 1-10 1 35 1-16 1 1 1 0 1-1 1-3 1 5 1-18 1-8 1 3 1 14 1 19 1 3 1-16 1 25 1-18 1-9 1-14 1 22 1 5 1-13 1 0 1-3 1 30 1-24 1 2 1-2 1-1 1 2 1 24 1-6 1 0 1-24 1 11 1-22 1 28 1-4 1 17 1-17 1 13 1-21 1 3 1-21 1 15 1 4 1-11 1 19 1 15 1-27 1-2 1 24 1-8 1-15 1 14 1-16 1-15 1 17 1 15 1-4 1-1 1-15 1-4 1 23 1-6 1 21 1-43 1 32 1-4 1-9 1-28 1-23 1 62 1-3 1-4 1-18 1-1 1 10 1-35 1 33 1 2 1 6 1-24 1 28 1-14 1 1 1-14 1 3 1 14 1-16 1 12 1 0 1-7 1-10 1 29 1 6 1 1 1-31 1 5 1-6 1 6 1 0 1 0 1 7 1-8 1 9 1-53 1 55 1-37 1 54 1-49 1 17 1 4 1 22 1-41 1 7 1 19 1-26 1 45 1-14 1-34 1 30 1-6 1-17 1 25 1-16 1 17 1-13 1 23 1-10 1-9 1-7 1-8 1 15 1 7 1-4 1-11 1 2 1 15 1-5 1 21 1-50 1 17 1-3 1 14 1 15 1-38 1 14 1 16 1-18 1 15 1-25 1 37 1-10 1-18 1 32 1 23 1-41 1-1 1-7 1-11 1 26 1-15 1 8 1-11 1 3 1 7 1 6 1-5 1-11 1 24 1-12 1 2 1 3 1-2 1-18 1 5 1-12 1 28 1-31 1 22 1-8 1 1 1-3 1 17 1-9 1-7 1 2 1-2 1 29 1-28 1 10 1-6 1 9 1-7 1-12 1 14 1 14 1-1 1-32 1 42 1-15 1-12 1 11 1-20 1 17 1-24 1 23 1 5 1-23 1-3 1 14 1-21 1 26 1-3 1 29 1-33 1-28 1 34 1-7 1 16 1-22 1 7 1-2 1 2 1-6 1 18 1-7 1-13 1 17 1 1 1-17 1-3 1 7 1 10 1-7 1-2 1-20 1 15 1 5 1 8 1-8 1-9 1 2 1 13 1-8 1-38 1 25 1 3 1 17 1-5 1 2 1-4 1-11 1-2 1 16 1 2 1 19 1-30 1 5 1 0 1 30 1-23 1 5 1-13 1-1 1 14 1-40 1 21 1 15 1-8 1-38 1 34 1 4 1-7 1 20 1-20 1 9 1-19 1 18 1 11 1-2 1-31 1 19 1-7 1 2 1-10 1 6 1 11 1 19 1-22 1 25 1-33 1-11 1 13 1 9 1-12 1-6 1 36 1-3 1-4 1-8 1-4 1-9 1 3 1 6 1-14 1 11 1 3 1-6 1 2 1 0 1 18 1-29 1-2 1 7 1 17 1-6 1-23 1 8 1 28 1-42 1 30 1 22 1-48 1 27 1-21 1 12 1-10 1-15 1 22 1 11 1-7 1 26 1-42 1 9 1-14 1 4 1 32 1 5 1-4 1-12 1 0 1 22 1-4 1-22 1 18 1-14 1 22 1-13 1-9 1-14 1 11 1 5 1-1 1-6 1-7 1 11 1 1 1 17 1-14 1 6 1-17 1-1 1-3 1 5 1 16 1 14 1-27 1 35 1-26 1 9 1-32 1 26 1 2 1 11 1-24 1 5 1 0 1-13 1 32 1-12 1 26 1-29 1 17 1-35 1 9 1 0 1 35 1-27 1-16 1 18 1-17 1 38 1-27 1-5 1 5 1 24 1-23 1 21 1-17 1 2 1 13 1-21 1 20 1-18 1-14 1 18 1-3 1-4 1 9 1-2 1 16 1-12 1-16 1 11 1 4 1 11" stroke="#cc9900"/>
<path transform="translate(136,0) scale(0.6,0.5)" vector-effect="non-scaling-stroke" d="M0 3443 l1 6 1-17 1-6 1 1 1 37 1-49 1 30 1 12 1-26 1 11 1-31 1 18 1 6 1-6 1 10 1 16 1-18 1-6 1 3 1 8 1-10 1 9 1-4 1-27 1 19 1-13 1 3 1-3 1 5 1 12 1-9 1 19 1-20 1-13 1 3 1 8 1 2 1 20 1-18 1 5 1-15 1 20 1 1 1-4 1 2 1-5 1 5 1-18 1-12 1 10 1 12 1 18 1-15 1 6 1-24 1 3 1-11 1 17 1 3 1-2 1-15 1 7 1 9 1-9 1 9 1-11 1 0 1 9 1-11 1 10 1-8 1 1 1 4 1-9 1-8 1-14 1 16 1-4 1 11 1 7 1-10 1 18 1-19 1 10 1-7 1 0 1-3 1-22 1 14 1 14 1-26 1 23 1-41 1-10 1-6 1 4 1 10 1 39 1 6 1-8 1 6 1 13 1 6 1-10 1 8 1-26 1 12 1-25 1 42 1-9 1-8 1-3 1 7 1 39 1-27 1 14 1-13 1-5 1 0 1 17 1-9 1-5 1 32 1-55 1 31 1-4 1 26 1-36 1 14 1 0 1-2 1-21 1 32 1-7 1 2 1 8 1-1 1-25 1 11 1 12 1-14 1 17 1-21 1 28 1-12 1-2 1-10 1 2 1 0 1 3 1 0 1-1 1-4 1-1 1 5 1 5 1-12 1 8 1-12 1 17 1 15 1-28 1 27 1-8 1-17 1 4 1 3 1 8 1-22 1 12 1 10 1-18 1 3 1-7 1-10 1 4 1 3 1 21 1 3 1-22 1 0 1 5 1-3 1-5 1 8 1-10 1 13 1-21 1 6 1 22 1-19 1-11 1 8 1 5 1 0 1-3 1 12 1-24 1 14 1-13 1 2 1 15 1-13 1-20 1 15 1 13 1-20 1 3 1-1 1 10 1-8 1-12 1 11 1-16 1 27 1-25 1 23 1 6 1-20 1-20 1 23 1 5 1-15 1-2 1 3 1-3 1 1 1-5 1 0 1-5 1 12 1-8 1-16 1-20 1 16 1 15 1-18 1 0 1-2 1 16 1-27 1-9 1-1 1-6 1 23 1-27 1 22 1-12 1-5 1 7 1-23 1 15 1-9 1 1 1-13 1 6 1-8 1 5 1 6 1-5 1-16 1-2 1 10 1-1 1-11 1-28 1 1 1-1 1-2 1 4 1-29 1 4 1 6 1-20 1 11 1-21 1 10 1-12 1-15 1 1 1 9 1-24 1-22 1 13 1-13 1-27 1 18 1-38 1-28 1-38 1-17 1-27 1-20 1-11 1-26 1-16 1-37 1 0 1-50 1-26 1-23 1-24 1-2 1-43 1-31 1-4 1-44 1 16 1-44 1-21 1-25 1-10 1-7 1-12 1-25 1-32 1 20 1-15 1-10 1-16 1 27 1-8 1 10 1 19 1 24 1 20 1-5 1 15 1 16 1 19 1 39 1 6 1 25 1-7 1 61 1-17 1 41 1 26 1-6 1 11 1 45 1 4 1 34 1 23 1 35 1 17 1 12 1 27 1 11 1 16 1 14 1-2 1 8 1 32 1 3 1 2 1 6 1 35 1-19 1 26 1 1 1 0 1 23 1 4 1 3 1 1 1 21 1 6 1 11 1-7 1 19 1 9 1-4 1-3 1-7 1 38 1-4 1 3 1-5 1-1 1 8 1-6 1 4 1-28 1 8 1-14 1 14 1-13 1-12 1 0 1-23 1 6 1-14 1-19 1 6 1 19 1-36 1-16 1 20 1-18 1-13 1-2 1-14 1 11 1-14 1-20 1 27 1-36 1-19 1 37 1-28 1 0 1-17 1-2 1 9 1 12 1-19 1-2 1-22 1 22 1-13 1-5 1 4 1-7 1-5 1-12 1 31 1 7 1-12 1 25 1-14 1 5 1-4 1 25 1 10 1-2 1-7 1 3 1 4 1 29 1 8 1-14 1-5 1 11 1 7 1 11 1-26 1 16 1 2 1-15 1 19 1-9 1 27 1-3 1 7 1 1 1-4 1-9 1-8 1 42 1 30 1-22 1 15 1 5 1 7 1 7 1 6 1-4 1 4 1 16 1 6 1-27 1 53 1-40 1 16 1-11 1 25 1-25 1 4 1-9 1-1 1-6 1-1 1-21 1 9 1-21 1-5 1-14 1 3 1-24 1-15 1-1 1-7 1-8 1-14 1-9 1-8 1-3 1-8 1-8 1-5 1-9 1-9 1-10 1-15 1-19 1-22 1-26 1-29 1-26 1-27 1-28 1-27 1-29 1-30 1-31 1-35 1-27 1-30 1-31 1-33 1-29 1-33 1-40 1-39 1-43 1-49 1-55 1-56 1-60 1-59 1-59 1-61 1-54 1-53 1-44 1-47 1-45 1-49 1-42 1-31 1-22 1-3 1 18 1 41 1 55 1 52 1 58 1 48 1 63 1 63 1 67 1 68 1 66 1 57 1 51 1 36 1 18 1 20 1 15 1 19 1 26 1 68 1 104 1 99 1 58 1 40 1 35 1 30 1 30 1 26 1 25 1 23 1 25 1 18 1 17 1 18 1 8 1 12 1 10 1 10 1 14 1 11 1 18 1 16 1-16 1 26 1 10 1 34 1-11 1 2 1 15 1 13 1 1 1 22 1 10 1-11 1-10 1 29 1-39 1 10 1 35 1 14 1 3 1-10 1 14 1-28 1 15 1 21 1-10 1 0 1 13 1 22 1-7 1 12 1-15 1 3 1 22 1-35 1 27 1-28 1 25 1 10 1 0 1 9 1-2 1-16 1 5 1 65 1-63 1 13 1 4 1 7 1 14 1-31 1 19 1 25 1-2 1-10 1 10 1 2 1-23 1 22 1-18 1 32 1 9 1-20 1-7 1 33 1-37 1 12 1-9 1 27 1-7 1 28 1-13 1-25 1 12 1 0 1 30 1-23 1-11 1 8 1 8 1-5 1 9 1-16 1 28 1-5 1 3 1 12 1-8 1-14 1 9 1 7 1-20 1 21 1 3 1-4 1-8 1-3 1 19 1-21 1 19 1 6 1-19 1 16 1-5 1 11 1-19 1 4 1 4 1 12 1-17 1 2 1-3 1 35 1-36 1 7 1 11 1-7 1 2 1 6 1-2 1 23 1-12 1-10 1 7 1-13 1 2 1 21 1-28 1 7 1-1 1 13 1-9 1-7 1-6 1 7 1 17 1-1 1-8 1-5 1-4 1 15 1-29 1 30 1 10 1-20 1 23 1-34 1-2 1 26 1-7 1-2 1 26 1-18 1-1 1 2 1-13 1 6 1-28 1 11 1 23 1-4 1-20 1 16 1-6 1-12 1 1 1 7 1-18 1 28 1 3 1-9 1-4 1-2 1-14 1 7 1 4 1 15 1-18 1 20 1-15 1-8 1 11 1-11 1 11 1-6 1 16 1-3 1-8 1 19 1-27 1-16 1 10 1 10 1 0 1-11 1 17 1-2 1-13 1-5 1-17 1 30 1-14 1-3 1-4 1 14 1-12 1 6 1 10 1 5 1-14 1-34 1 21 1 0 1 10 1-18 1 34 1-29 1-3 1 2 1-11 1-2 1 9 1 13 1-19 1 7 1-12 1 18 1-5 1-15 1 4 1 5 1-11 1 3 1 6 1-27 1 15 1 1 1-15 1 20 1-18 1-31 1 28 1 7 1-9 1-3 1 0 1-27 1-1 1 5 1 5 1 10 1-6 1-9 1 19 1-24 1 9 1-17 1-3 1 9 1-33 1 31 1-2 1-5 1-15 1 15 1-16 1 6 1 5 1-25 1 1 1-4 1-5 1 28 1-16 1-17 1 4 1-8 1 15 1-5 1 7 1 4 1 9 1 30 1-27 1-1 1 17 1-5 1-2 1 8 1 10 1-12 1 4 1 27 1-10 1 1 1-6 1 32 1-16 1 1 1-4 1 24 1-23 1 26 1-8 1-9 1 15 1-2 1 0 1-5 1 6 1-3 1-5 1 29 1-26 1 19 1 11 1-11 1 2 1 0 1-10 1 26 1-21 1 16 1-1 1 12 1-9 1 10 1-10 1 1 1 15 1-3 1-6 1 0 1 14 1 2 1 5 1 5 1 5 1-9 1-23 1 11 1-9 1 33 1 12 1-5 1-6 1-13 1 12 1-25 1 15 1 22 1-10 1-8 1-5 1 14 1 7 1 2 1-9 1-4 1-3 1-24 1 27 1-11 1 19 1-11 1-4 1 21 1-15 1 6 1-13 1 6 1 7 1-13 1 17 1 2 1 0 1-18 1 21 1-24 1 25 1-15 1 13 1-9 1-9 1-11 1-1 1 33 1-5 1-33 1 24 1-9 1 11 1-29 1 12 1-11 1-4 1 27 1-17 1 16 1-11 1-17 1 15 1 0 1 18 1-21 1 16 1 4 1-19 1 3 1-12 1-2 1-1 1 20 1-14 1-20 1-12 1 16 1 5 1 1 1-11 1 3 1-6 1 24 1-14 1 4 1-2 1-8 1 13 1-10 1-2 1 3 1-5 1 11 1-18 1 15 1 11 1-27 1-7 1 5 1-3 1 18 1-12 1 8 1-10 1-15 1 4 1 8 1-13 1-15 1-8 1 3 1-10 1 23 1-40 1 20 1-17 1 6 1-11 1 11 1-13 1 1 1 12 1-22 1 6 1 7 1-27 1 15 1-7 1 24 1-10 1-15 1 8 1-27 1 2 1 17 1-13 1 8 1-15 1 20 1-12 1 5 1 17 1-27 1-10 1 13 1 26 1-26 1-6 1 4 1 0 1-4 1 2 1 16 1-10 1-1 1-3 1 5 1-15 1 19 1 13 1-11 1-12 1 11 1-12 1-6 1 6 1 1 1 10 1-5 1 3 1-11 1-18 1 7 1 12 1-12 1 11 1-20 1 20 1-22 1 15 1 2 1-11 1 12 1-5 1-14 1 11 1-12 1-3 1 4 1-9 1-25 1 9 1 24 1 0 1-6 1-26 1-18 1 18 1 7 1-19 1-24 1 18 1-11 1-12 1 7 1-25 1 17 1-17 1-13 1 23 1-20 1-20 1 21 1-9 1 8 1-29 1 0 1 13 1 2 1 13 1-3 1 11 1-9 1 0 1 8 1 6 1 0 1-16 1 18 1 0 1 3 1-21 1 45 1-9 1-12 1 9 1 9 1 0 1-3 1 14 1-10 1 1 1 13 1 19 1-3 1-17 1 30 1-8 1-2 1-10 1-4 1 19 1-25 1 32 1 20 1-19 1 28 1 0 1 2 1-12 1 17 1 9 1-7 1-5 1 26 1-16 1 15 1 0 1-12 1 4 1-27 1 24 1 30 1-27 1 3 1 0 1-2 1 9 1-9 1 29 1-26 1 7 1 34 1-42 1 25 1-8 1-19 1 16 1-11 1 3 1-3 1 4 1 7 1-27 1 19 1 4 1 1 1-8 1-11 1 14 1 1 1 4 1 11 1-14 1 9 1-17 1 11 1-14 1 4 1-6 1-2 1 10 1-5 1-14 1 8 1 10 1 8 1-29 1 4 1 1 1-3 1 6 1-8 1 11 1-13 1-13 1 2 1 15 1-34 1 14 1 15 1-14 1-34 1 12 1 20 1-44 1 23 1 6 1-29 1-7 1 8 1 5 1-12 1-5 1-1 1-3 1-21 1-2 1-8 1 4 1 1 1 2 1-28 1 0 1-24 1 2 1 8 1 8 1-9 1-29 1 1 1 22 1-17 1-4 1 0 1-8 1 8 1-1 1-11 1-7 1 20 1 16 1-20 1 14 1 7 1 12 1-5 1-10 1 22 1-7 1 11 1 18 1-3 1-2 1 21 1-10 1-10 1 7 1 20 1 1 1-23 1 0 1 29 1 3 1-19 1 29 1 3 1-16 1 17 1 21 1-12 1-4 1 12 1 25 1-34 1 21 1 9 1 5 1 8 1-32 1 34 1 0 1-11 1-8 1-9 1 2 1 1 1-4 1 10 1-25 1 10 1 11 1-21 1-9 1 30 1-17 1-33 1 16 1-5 1-10 1-4 1 11 1-17 1-3 1-13 1 21 1-15 1-7 1-1 1-14 1-5 1-3 1 29 1-24 1 0 1-3 1-14 1 0 1 6 1-5 1 1 1 17 1-4 1 7 1-3 1-11 1 11 1 41 1-38 1 41 1 16 1 9 1 7 1-21 1 22 1-12 1 25 1 9 1 10 1-18 1 6 1 13 1-3 1 30 1 1 1-1 1 2 1-8 1 28 1 16 1-22 1-4 1 18 1-7 1 6 1 11 1-5 1 12 1-9 1 14 1-17 1 36 1 1 1-18 1 8 1-16 1 14 1 25 1-23 1-14 1 19 1 11 1-13 1 6 1 5 1-2 1-10 1 20 1-1 1-8 1 3 1 41 1-41 1-9 1 13 1-26 1 24 1-21 1 3 1-2 1 13 1 4 1-10 1 10 1 0 1-11 1 17 1-1 1-12 1 7 1-3 1-26 1 19 1-23 1 23 1 0 1-9 1 14 1-25 1 25 1-7 1-12 1 6 1-15 1 15 1-7 1 21 1-33 1 24 1-13 1-17 1 6 1-3 1-24 1 18 1 9 1 6 1 6 1-34 1 11 1-21 1 15 1 13 1-13 1-7 1 6 1-8 1 9 1 31 1-39 1-5 1 2 1-16 1 7 1-17 1 15 1-5 1-21 1 16 1-10 1-2 1-14 1 0 1 2 1-13 1-5 1 7 1-19 1 3 1 1 1-21 1 7 1 4 1-3 1-27 1-1 1-9 1 4 1-13 1 15 1-16 1-6 1 15 1-40 1 19 1-1 1-2 1-12 1-16 1 29 1-38 1 12 1-17 1 3 1-26 1-6 1-27 1 24 1 4 1-29 1 7 1-15 1-18 1-20 1-16 1 0 1-9 1-19 1 9 1-8 1-4 1 9 1 8 1-1 1 22 1-3 1-3 1-1 1 19 1 22 1-6 1 12 1 28 1 18 1 0 1 37 1-45 1 16 1 46 1-25 1 18 1 32 1-15 1 6 1 12 1 16 1 13 1-5 1 17 1 27 1-10 1-3 1 23 1-15 1 21 1 11 1 19 1 3 1-6 1 12 1 16 1 6 1-5 1 0 1 14 1-20 1 6 1 3 1 29 1 9 1-9 1 16 1-6 1 26 1-27 1 10 1 0 1 12 1-11 1 7 1 5 1-4 1 12 1 23 1-32 1-18 1 43 1-19 1-2 1 0 1 1 1-11 1 38 1-1 1-36 1 18 1-7 1 6 1-1 1 7 1 1 1 2 1 11 1-19 1-13 1 28 1-6 1 6 1-14 1 4 1 16 1-19 1 10 1 12 1-18 1 0 1 31 1-25 1 7 1-4 1-4 1 14 1-7 1-7 1 20 1-23 1 6 1 6 1 22 1-8 1-1 1 0 1-3 1-8 1-2 1-12 1 6 1 11 1 0 1 11 1-14 1-11 1 35 1-21 1-18 1 41 1-30 1 19 1-28 1 14 1 1 1 3 1-20 1 31 1-8 1-7 1 1 1-8 1 1 1 9 1 6 1-7 1-2 1 17 1-34 1-5 1 27 1-2 1-10 1 15 1 2 1 4 1-12 1 13 1-5 1-7 1 2 1-17 1 33 1-10 1-16 1 23 1-34 1 34 1-11 1-8 1-8 1 18 1 3 1-16 1 11 1 11 1-35 1 25 1-21 1 18 1 3 1-15 1 11 1 16 1-44 1 51 1-35 1-7 1 1 1 10 1 12 1-16 1 0 1-12 1-8 1 22 1-14 1-25 1 28 1-9 1-5 1-1 1 20 1-23 1 15 1-14 1-8 1 27 1-9 1 8 1-18 1 6 1 14 1-29 1 13 1-9 1 3 1-19 1 6 1-18 1 22 1-1 1-13 1 23 1-12 1-5 1-16 1 10 1 11 1-22 1-1 1 5 1-1 1 7 1-6 1-16 1 19 1-8 1 3 1-20 1 7 1 2 1 4 1-5 1-17 1 28 1-20 1 1 1 15 1-21 1 0 1 9 1 0 1-24 1 12 1 15 1 25 1-51 1 23 1-7 1-5 1 7 1-30 1 13 1-6 1 14 1 5 1-15 1 5 1 7 1-16 1-4 1-24 1 18 1 16 1-13 1-3 1 26 1-14 1 6 1 2 1-9 1 7 1-24 1 24 1-16 1-10 1-13 1 39 1-31 1 27 1-22 1 13 1 10 1-13 1-12 1 9 1-1 1-11 1 9 1-9 1 7 1 10 1 6 1-22 1 7 1 11 1 4 1-8 1 10 1-8 1-23 1 6 1 30 1-26 1 5 1-13 1 6 1 6 1-9 1 33 1-30 1 22 1-29 1 0 1-8 1 14 1 5 1-15 1 3 1 36 1-20 1-2 1-3 1 11 1-20 1 3 1 0 1-5 1 8 1 21 1-14 1 11 1-21 1 25 1-8 1-2 1-11 1-12 1 24 1-9 1-1 1 7 1-6 1 29 1-20 1-3 1 8 1 6 1-19 1 8 1 0 1 13 1-11 1-7 1 15 1-3 1 0 1-1 1-15 1 13 1-1 1-1 1 6 1-8 1 6 1 1 1 14 1-3 1-5 1 8 1 2 1-2 1-2 1-4 1-13 1 14 1 16 1-8 1-6 1-8 1 5 1-5 1 14 1-5 1 25 1-33 1 2 1 23 1-11 1 9 1-10 1 2 1-7 1-22 1 29 1-47 1 58 1-4 1 3 1 10 1 7 1-22 1-2 1 1 1 11 1-34 1 18 1 3 1-2 1 17 1-8 1 2 1 3 1-9 1-3 1 13 1-21 1 10 1-18 1 10 1 11 1 6 1-25 1 17 1-15 1 7 1-3 1 18 1-27 1 7 1-9 1 15 1-5 1-22 1 17 1-15 1 34 1-17 1-13 1 0 1-12 1 8 1 15 1-26 1 8 1 9 1 9 1-8 1-9 1 11 1-18 1 22 1-11 1-5 1 0 1-7 1-3 1-20 1 11 1-8 1-11 1 18 1-11 1 1 1 18 1-8 1-10 1-2 1-5 1 3 1 2 1-15 1 11 1-11 1 1 1 8 1-12 1 8 1 2 1 15 1-20 1-8 1 4 1-1 1 13 1 0 1-23 1-4 1-1 1 37 1-15 1-9 1 9 1-6 1-12 1-11 1 14 1 17 1-1 1-9 1-9 1 33 1-22 1 4 1-7 1 16 1 6 1-27 1 23 1-15 1-4 1-4 1 16 1-9 1-5 1-10 1 24 1-13 1 2 1 11 1-6 1 1 1 11 1-8 1 6 1 10 1-1 1 0 1 3 1 13 1-3 1-13 1 18 1-8 1-6 1 2 1-7 1 21 1-19 1 42 1-10 1 1 1 6 1 2 1 10 1-3 1 12 1 2 1 5 1-16 1 14 1 21 1 8 1-7 1-17 1 12 1 34 1-40 1 25 1 24 1-37 1 10 1 14 1-16 1 9 1 13 1-10 1 20 1-12 1-2 1-8 1 20 1 10 1-4 1-15 1 16 1-8 1 10 1 5 1-8 1 13 1-8 1 5 1 4 1-5 1 12 1-16 1 21 1-20 1 3 1 7 1 16 1-4 1-18 1-3 1 2 1 15 1-9 1 22 1-5 1-9 1 6 1-6 1 1 1-12 1 9 1 3 1 33 1-33 1 1 1 29 1-27 1 25 1-6 1-30 1 14 1-23 1 30 1-6 1-5 1 0 1 33 1-5 1-8 1-4 1-3 1-3 1 5 1 8 1-3 1-7 1-8 1-10 1 28 1-7 1 2 1 9 1 12 1-36 1 10 1 0 1 19 1-23 1 7 1-15 1 18 1-13 1 8 1 4 1-7 1-2 1 14 1-22 1 10 1-11 1 30 1-24 1-6 1 13 1 5 1-11 1 13 1 2 1-23 1-3 1 6 1 1 1-8 1 10 1-9 1 3 1 25 1-16 1 7 1-25 1-5 1 16 1-3 1-9 1 13 1-10 1 4 1 23 1-27 1 5 1-24 1 26 1-19 1 6 1-8 1-5 1 0 1 22 1 5 1-1 1-28 1-3 1 25 1-22 1 16 1-7 1-1 1-11 1 2 1 15 1-22 1 7 1-6 1-5 1 28 1-26 1 8 1 5 1 0 1-7 1 9 1-6 1-10 1 10 1 1 1-4 1-12 1 7 1 1 1-19 1 0 1-15 1 17 1-9 1-12 1 24 1-43 1 10 1-16 1 25 1-20 1-3 1 7 1 5 1-2 1-14 1 1 1-13 1 6 1-3 1 0 1-26 1 8 1-20 1 3 1 12 1-31 1 16 1-5 1-18 1 4 1-9 1-20 1 22 1-25 1 12 1-5 1-11 1-12 1-8 1-1 1-5 1 6 1-8 1-25 1 13 1 0 1-9 1-15 1-2 1 19 1-16 1-4 1 11 1-35 1 15 1-2 1 0 1-25 1 6 1 6 1 7 1 3 1 4 1-12 1 13 1-19 1 5 1-1 1-19 1 9 1 13 1-20 1 16 1 9 1 1 1 12 1 6 1-4 1 4 1 23 1-3 1 4 1-8 1 19 1 1 1-19 1 21 1 26 1 6 1 16 1-5 1-11 1 16 1 14 1 7 1-1 1 3 1 7 1 23 1-12 1 33 1-20 1 5 1-16 1 6 1 17 1-9 1 17 1 5 1 13 1 6 1-13 1-11 1 15 1 24 1-16 1-6 1 4 1 22 1 1 1-8 1 31 1-13 1-10 1 15 1-14 1 11 1-13 1 26 1-5 1-2 1-14 1 22 1-3 1-2 1-1 1-9 1 21 1-18 1 16 1 2 1-7 1 34 1-43 1 31 1-9 1-10 1 14 1-14 1 29 1-1 1 5 1-11 1-10 1 25 1 8 1-9 1-2 1-15 1 11 1-13 1 11 1 3 1 13 1-4 1 17 1-17 1 3 1 0 1-3 1-3 1 13 1-14 1-3 1 1 1 27 1-14 1-4 1-4 1 17 1-46 1 27 1 4 1-9 1-1 1-5 1 24 1-5 1 8 1-20 1 0 1-5 1 24 1-19 1 20 1-2 1-10 1 9 1-4 1-2 1 8 1-2 1-7 1 6 1 5 1-26 1 16 1-7 1 12 1-12 1-6 1 3 1 20 1-12 1-8 1-30 1 37 1 3 1 6 1 10 1-10 1-9 1-1 1-17 1 12 1 13 1 12 1-13 1-16 1 11 1-16 1 8 1 1 1-4 1 10 1-31 1 22 1 7 1-20 1 41 1-33 1 2 1-2 1-10 1 18 1-17 1 21 1-13 1-11 1 23 1 10 1-23 1-6 1 16 1-1 1-21 1 7 1 23 1-22 1 21 1-19 1-12 1 25 1-12 1 16 1-25 1 7 1 7 1 2 1-3 1-7 1 3 1-13 1-2 1 8 1-2 1-20 1 33 1-7 1-13 1 26 1-9 1-3 1 17 1-8 1 18 1-19 1 3 1 10 1-29 1 16 1-12 1 32 1-7 1-33 1 23 1 0 1 12 1-18 1 24 1-22 1 18 1-18 1 6 1-10 1 12 1-19 1 5 1 26 1 2 1-5 1-6 1-26 1 45 1-27 1 15 1-6 1-5 1-12 1 27 1-21 1-12 1 15 1 4 1-1 1 9 1-20 1 1 1 18 1-22 1-1 1 4 1 2 1-7 1 29 1-16 1-21 1 6 1 11 1-20 1 3 1 37 1-20 1-23 1-2 1 5 1 6 1 0 1-10 1-11 1 10 1 14 1-10 1-24 1 9 1 21 1-4 1-6 1 12 1-12 1 1 1-4 1-4 1-9 1 6 1-2 1-10 1-4 1 2 1 1 1 16 1-11 1-2 1 3 1-2 1-9 1-6 1 15 1 0 1-22 1 18 1-10 1 12 1 6 1-12 1 7 1-15 1 4 1-3 1 13 1-17 1-1 1-14 1 26 1-14 1 7 1 21 1 1 1 8 1-36 1 24 1-16 1 5 1 22 1-10 1-15 1 15 1 41 1-41 1 6 1 3 1 14 1-13 1-9 1 17 1 6 1-22 1 6 1 19 1-4 1-5 1 27 1-2 1-6 1 26 1-29 1-1 1 22 1-25 1-13 1 18 1-2 1 16 1-4 1 3 1 1 1 11 1-22 1 1 1 6 1-3 1 18 1-18 1 37 1-39 1-4 1 15 1 23 1-22 1 7 1-10 1 12 1 7 1-14 1-5 1 27 1-27 1 2 1 10 1-11 1 13 1 16 1-12 1-13 1 16 1-35 1 33 1-11 1 11 1-30 1 18 1 23 1-15 1-7 1-10 1 18 1-6 1 18 1-29 1 22 1 10 1-7 1-30 1 0 1 13 1-10 1 11 1 11 1-10 1 0 1-3 1 30 1-25 1 2 1 0 1-5 1 21 1-19 1 10 1 8 1-21 1 9 1 3 1-2 1-8 1-12 1 27 1-15 1-1 1-2 1 18 1 12 1-16 1-12 1 11 1 9 1 7 1-14 1-9 1 1 1 6" stroke="#00cccc"/>
<path transform="translate(136,0) scale(0.6,0.5)" vector-effect="non-scaling-stroke" d="M0 3201 l1-9 1 5 1 1 1-3 1 15 1-34 1 17 1 11 1-9 1-5 1 25 1-32 1 26 1-19 1 11 1-7 1-18 1 20 1-18 1 5 1 13 1-13 1 14 1-3 1-6 1 15 1-3 1-18 1-10 1 13 1 30 1-14 1-5 1 1 1-7 1-7 1 1 1-3 1-1 1 13 1-1 1 12 1-23 1 16 1 13 1-18 1 27 1-8 1-17 1 15 1 2 1-10 1-12 1 9 1-8 1-9 1 22 1-6 1-40 1 31 1 7 1-6 1 12 1-10 1-6 1-7 1 23 1-1 1 25 1-50 1 19 1-2 1 11 1 7 1-19 1-3 1 21 1-3 1-25 1 13 1 8 1-10 1 12 1-13 1 18 1-27 1-31 1 47 1-1 1-20 1 18 1-9 1 13 1-14 1 19 1-2 1 6 1-18 1 1 1-1 1 2 1 7 1 6 1-21 1 11 1 10 1-14 1 0 1 1 1-13 1 8 1-11 1 30 1 1 1-25 1 13 1 5 1 5 1-13 1-11 1 21 1-10 1 1 1-9 1 15 1-1 1 10 1 25 1-36 1-4 1 8 1-7 1-12 1 29 1-9 1-4 1-23 1 27 1 14 1-14 1-2 1-9 1 13 1-15 1-3 1 3 1-7 1 23 1-21 1 16 1 17 1-40 1 24 1 9 1-16 1 1 1 10 1 4 1-15 1 6 1 6 1-26 1 20 1-4 1 7 1-7 1 17 1-17 1-11 1 27 1 5 1-1 1-12 1-3 1 2 1-6 1 4 1-14 1 23 1-19 1-2 1 17 1-32 1 6 1 10 1-3 1 19 1 0 1-10 1 20 1-16 1-6 1-7 1 38 1-41 1-12 1 24 1-9 1 35 1-11 1 4 1-3 1-28 1 27 1-17 1 3 1 23 1-39 1 25 1-3 1 11 1 7 1-23 1-7 1 7 1-13 1-11 1 6 1 20 1-29 1 17 1-20 1 16 1-4 1 7 1 5 1-7 1-15 1 21 1-13 1 7 1-11 1 7 1-27 1 8 1-5 1 2 1-1 1 13 1-14 1 0 1 1 1 20 1-13 1-17 1 14 1-4 1-13 1 4 1-9 1 8 1-17 1 12 1 19 1-19 1-26 1 20 1-8 1-5 1-1 1 13 1-10 1-25 1 11 1 39 1-28 1-37 1 22 1 13 1-25 1 22 1-7 1 1 1-15 1-11 1 2 1-11 1-31 1 11 1-12 1-12 1-1 1-9 1-9 1-24 1-2 1-15 1-42 1 6 1-12 1 0 1-61 1 4 1-30 1-29 1 3 1 2 1-65 1-1 1-37 1-8 1-28 1-31 1-16 1-39 1 5 1-38 1-12 1 3 1-54 1 5 1-8 1-4 1-24 1-27 1 22 1-29 1 11 1-12 1-11 1 0 1-1 1 1 1 12 1-2 1 11 1 23 1 4 1 36 1-7 1 44 1 2 1 36 1 31 1 2 1 40 1 18 1 33 1-6 1 40 1 33 1-15 1 58 1 12 1 2 1 24 1 46 1 11 1 14 1 28 1 11 1 9 1 14 1 18 1-30 1 44 1 7 1 27 1-4 1-12 1 9 1 10 1 7 1-1 1-19 1 22 1-11 1 24 1-12 1 3 1-11 1 12 1-6 1 7 1 7 1 10 1-18 1-6 1 32 1-50 1 35 1-12 1 13 1-16 1-2 1 11 1-14 1-23 1 3 1-2 1 9 1-39 1 8 1-6 1 15 1-27 1-8 1 4 1-9 1 10 1-35 1 30 1-24 1 0 1-3 1-71 1 23 1 7 1 12 1-25 1-7 1-4 1-10 1-5 1 20 1-28 1-21 1 16 1 21 1-22 1-2 1 9 1-17 1 14 1-16 1 11 1-22 1 32 1-33 1 25 1-36 1 36 1-20 1-13 1 11 1 13 1-23 1 27 1-33 1 27 1-27 1 21 1-5 1-10 1 35 1-42 1-7 1 39 1-17 1 21 1-9 1 22 1 11 1-10 1 3 1-2 1 2 1 2 1 15 1-47 1 27 1-12 1-15 1 8 1-1 1-4 1 0 1-19 1 17 1-24 1 32 1-6 1-27 1 5 1-18 1 13 1-52 1-17 1-32 1-21 1-2 1-9 1-19 1-40 1 11 1-25 1-17 1-27 1-35 1-26 1-9 1-1 1-40 1 1 1-17 1-24 1-11 1-16 1-25 1-34 1-38 1-34 1-39 1-44 1-40 1-45 1-46 1-47 1-46 1-45 1-52 1-44 1-50 1-51 1-48 1-55 1-51 1-52 1-54 1-58 1-52 1-62 1-62 1-61 1-62 1-61 1-59 1-67 1-66 1-72 1-74 1-70 1-65 1-54 1-45 1-28 1-12 1 10 1 45 1 70 1 87 1 94 1 99 1 92 1 76 1 61 1 55 1 53 1 56 1 64 1 81 1 124 1 190 1 127 1 82 1 64 1 58 1 54 1 43 1 43 1 37 1 42 1 36 1 48 1 44 1 36 1 25 1 20 1 26 1 29 1 31 1 34 1 36 1 34 1 32 1 33 1 34 1 31 1 29 1 19 1 21 1 15 1 21 1 17 1 14 1 11 1 9 1 27 1 1 1 22 1 12 1 22 1 12 1-39 1 35 1 15 1-2 1 20 1 29 1-33 1-2 1 29 1-21 1 6 1 16 1-4 1-13 1 10 1 6 1 35 1-9 1 2 1-23 1 25 1-8 1 11 1 0 1-5 1 12 1-10 1 18 1-9 1-9 1 5 1 20 1-3 1-15 1 6 1-4 1 13 1-19 1 14 1 6 1-18 1 17 1 2 1-11 1 8 1 18 1 0 1-16 1 9 1 23 1 15 1-17 1-22 1 34 1-3 1-8 1-1 1 11 1-19 1-10 1 28 1-9 1-9 1-1 1 38 1-18 1-8 1-16 1 21 1-19 1 14 1 8 1 0 1 2 1-18 1 30 1-7 1 4 1-1 1-49 1 64 1 10 1-27 1 7 1 18 1-25 1 9 1 2 1 2 1-15 1 25 1-19 1-14 1 15 1 3 1 19 1 15 1-19 1 12 1-40 1 18 1 12 1 4 1-25 1 4 1 18 1 12 1-1 1-3 1-11 1 17 1-6 1-19 1 1 1 21 1-19 1 14 1 16 1-26 1-8 1 15 1 17 1-15 1 5 1 13 1-11 1-13 1 8 1-3 1-11 1 17 1 2 1 3 1-24 1 31 1-18 1-10 1 14 1 15 1-2 1 10 1-5 1-18 1-2 1 7 1-21 1 13 1-7 1 12 1 17 1-27 1-9 1 45 1-46 1 21 1-7 1 29 1-22 1 24 1-9 1-17 1 12 1-29 1 35 1-51 1 30 1 11 1-3 1-38 1 32 1-5 1 19 1-25 1 11 1 20 1-20 1-3 1 43 1-32 1-3 1 29 1-41 1 13 1 8 1-11 1 13 1-10 1-5 1-13 1 18 1-13 1 41 1-19 1-10 1-3 1-14 1 18 1 6 1-21 1 9 1 7 1-29 1 23 1-9 1-16 1 13 1 1 1-7 1 8 1 7 1 26 1-35 1-6 1 17 1-19 1 19 1-9 1-27 1 27 1 1 1 6 1-9 1-2 1 7 1-27 1 7 1-8 1 23 1-8 1-13 1-3 1-14 1 4 1 11 1-27 1 3 1-5 1-3 1 1 1-14 1-3 1 13 1-30 1 12 1-5 1 2 1 4 1-48 1-3 1 18 1 9 1-20 1-29 1 24 1 15 1-28 1-9 1-10 1-5 1 1 1-1 1-5 1 8 1-7 1 4 1-16 1 19 1-22 1 7 1 6 1 1 1-8 1 3 1 1 1 9 1 9 1 9 1 1 1-10 1-15 1 45 1-12 1-5 1 35 1-19 1 6 1-13 1 30 1 4 1 14 1-2 1 5 1 13 1-16 1 11 1 20 1-4 1-14 1 10 1 24 1-6 1 14 1 7 1-25 1 17 1-5 1 13 1 6 1 0 1-7 1-18 1 10 1 22 1 2 1 2 1 5 1-4 1 20 1-12 1-12 1-5 1 17 1 9 1-12 1 5 1 21 1-14 1-9 1 35 1-17 1 3 1-26 1 21 1 17 1-1 1-24 1 19 1-21 1 18 1 1 1 0 1 9 1 6 1-6 1-2 1 2 1-29 1 16 1 8 1 1 1-2 1-4 1-1 1 18 1-33 1 21 1 7 1-4 1-7 1-4 1-35 1 42 1 11 1-8 1-12 1-7 1-11 1 25 1 14 1-25 1 11 1-4 1 1 1 17 1-10 1 2 1-16 1 4 1-3 1-1 1 29 1-14 1-3 1-8 1 3 1-2 1 5 1 5 1 2 1 12 1-12 1-17 1 23 1-17 1 16 1-7 1 0 1-12 1-25 1 10 1 30 1-32 1 9 1 3 1-11 1 21 1-2 1-11 1-23 1 12 1-5 1-2 1 7 1 2 1-24 1-1 1 15 1 0 1-12 1-9 1 19 1-25 1-14 1 23 1-21 1 5 1 9 1-23 1 11 1-35 1 19 1 6 1-7 1-7 1 18 1 5 1-20 1 3 1-17 1 10 1 7 1-21 1 6 1 9 1-3 1 1 1-32 1 26 1-12 1 17 1-4 1 4 1-21 1 9 1-27 1 25 1-18 1 12 1 8 1-28 1 15 1-11 1-15 1 4 1 26 1 1 1 2 1-26 1 35 1-24 1 25 1-21 1-10 1 34 1-26 1-16 1 20 1 6 1 6 1-3 1-11 1 17 1-16 1 6 1-11 1 2 1 9 1-10 1 1 1 25 1-34 1 1 1 24 1 11 1-20 1 13 1-27 1 14 1-11 1-6 1 26 1-18 1 9 1-22 1 14 1-35 1 22 1-44 1 40 1-8 1-5 1-13 1 27 1-24 1-7 1 13 1 1 1-35 1 23 1-24 1 23 1-18 1 13 1 5 1-25 1-13 1-4 1 18 1 14 1-13 1-11 1-18 1 16 1-20 1 21 1-30 1 5 1-6 1 10 1-26 1-16 1 4 1 10 1-2 1-12 1-13 1 28 1-14 1 10 1-21 1 19 1-5 1 2 1 0 1-6 1 9 1 3 1 1 1 21 1-11 1 4 1 4 1-26 1 11 1 29 1-12 1 3 1-6 1 29 1-2 1-13 1 0 1-1 1 16 1 1 1-7 1-5 1 22 1-16 1-16 1 37 1-23 1 21 1-4 1-17 1-9 1 18 1 13 1-21 1 7 1 38 1-4 1-12 1-20 1 40 1-12 1 1 1-17 1 29 1 7 1-25 1 11 1 21 1 1 1-18 1 11 1 0 1-10 1 4 1-13 1 7 1-13 1 19 1 11 1-27 1 16 1-13 1 38 1-36 1 17 1 4 1-3 1-11 1 9 1 12 1 4 1-20 1-7 1-5 1 13 1 10 1-9 1 11 1-2 1-23 1 10 1-11 1-18 1 25 1-1 1 8 1 16 1-29 1-2 1-4 1 27 1-31 1 1 1 16 1-19 1 30 1-15 1-38 1 7 1-4 1 33 1-1 1-31 1 9 1 18 1-7 1-33 1 18 1 2 1-20 1 8 1-16 1 3 1 4 1-1 1 1 1-15 1-12 1-6 1 3 1-19 1 4 1 1 1-9 1-12 1-7 1-20 1 20 1-12 1-36 1 19 1-27 1-14 1 12 1 5 1-26 1-16 1-7 1 10 1 7 1 13 1-9 1-7 1 17 1-26 1 43 1-7 1 7 1 13 1 0 1-6 1 5 1 13 1 16 1-11 1 18 1 27 1-8 1 0 1 5 1 17 1-4 1 28 1-4 1-9 1 9 1 25 1-7 1-3 1 11 1-3 1 29 1 12 1-11 1-5 1-3 1 4 1 25 1 8 1 20 1-20 1 14 1 7 1-21 1 27 1-11 1 15 1-19 1-3 1 33 1-11 1 15 1 11 1-19 1 9 1-7 1 15 1-5 1-3 1 8 1-15 1-28 1 9 1-17 1 9 1-2 1-36 1 6 1 34 1-19 1-26 1 11 1-10 1 5 1 6 1-43 1 13 1-16 1-25 1 23 1 2 1-17 1-6 1-8 1 2 1 28 1-14 1 22 1-2 1-14 1 11 1-12 1-8 1 18 1 4 1 24 1-3 1-5 1 24 1-6 1 7 1 2 1-6 1-4 1 22 1 4 1 12 1-8 1-20 1 25 1 19 1 3 1-13 1 23 1-4 1-2 1-25 1 40 1 8 1-6 1 5 1 10 1 0 1-20 1 18 1 7 1-17 1 16 1 1 1-18 1 49 1-14 1 9 1 1 1-22 1 2 1 10 1-4 1 13 1 5 1-13 1 13 1-8 1 24 1-40 1 33 1-21 1-3 1 4 1 5 1-26 1 14 1 7 1-15 1 32 1-1 1-17 1 7 1-14 1-8 1 20 1-2 1-27 1 21 1-9 1-11 1 27 1-16 1 7 1 8 1-17 1-35 1 24 1 14 1-2 1-41 1 37 1 3 1-2 1 20 1-13 1-9 1 21 1-10 1-17 1-33 1 22 1 8 1-1 1-5 1-14 1 23 1-1 1-23 1 9 1-11 1-14 1 25 1-12 1-18 1-8 1 5 1-9 1-3 1-2 1-19 1 6 1-13 1-2 1-3 1-15 1-20 1 19 1 8 1-2 1-13 1 0 1-16 1 15 1-9 1-25 1 1 1 3 1-16 1-24 1-16 1 12 1-33 1-5 1-7 1-31 1 22 1-60 1 6 1-18 1-8 1-27 1-5 1-8 1 2 1 3 1-20 1-13 1-12 1 31 1-57 1 30 1-19 1-5 1-17 1-16 1-29 1-30 1 8 1-13 1 37 1-53 1 11 1-16 1 1 1 2 1 0 1 1 1-13 1 19 1 21 1-18 1 0 1 25 1 22 1-25 1 50 1-1 1 6 1 17 1 51 1-13 1 54 1 12 1 22 1 40 1 27 1 7 1 4 1 15 1 8 1 22 1 13 1 13 1 9 1 14 1 5 1 13 1 9 1 11 1-15 1 2 1 29 1-19 1 17 1 19 1-2 1-21 1 29 1 4 1 11 1-9 1 27 1 21 1-6 1-32 1 21 1 11 1 21 1-3 1-14 1 11 1-1 1 2 1 9 1-13 1 12 1 27 1-28 1 13 1-4 1 21 1-5 1-6 1-6 1 24 1 2 1-32 1 7 1 19 1 12 1 17 1-15 1-23 1 41 1-24 1 4 1-2 1-3 1 10 1-13 1 32 1-28 1 23 1-8 1 10 1-3 1 2 1-9 1 35 1-21 1 1 1-25 1 18 1-21 1 14 1 4 1-1 1-4 1-1 1 18 1 2 1-28 1 0 1 12 1 13 1 4 1 24 1-29 1-3 1 1 1-6 1 1 1 14 1-4 1-22 1 23 1 3 1-34 1 40 1-2 1 2 1-30 1 53 1-31 1-16 1 19 1-7 1-2 1-12 1 31 1-33 1 40 1-8 1-30 1 21 1-15 1 13 1-8 1 35 1-5 1-5 1-23 1-10 1 19 1-10 1-29 1 45 1-29 1 11 1 4 1 3 1-15 1 34 1-24 1 13 1-14 1 11 1-9 1 9 1 22 1-23 1-4 1-5 1 19 1-20 1 6 1 14 1-10 1 10 1-25 1 17 1 22 1-43 1 29 1-20 1 15 1 16 1-6 1-35 1 8 1 0 1 26 1-16 1-4 1-7 1 10 1-4 1-1 1-26 1 20 1-9 1 2 1 27 1-5 1-20 1 5 1 6 1 7 1-20 1-12 1 16 1-11 1-11 1-3 1 8 1 0 1 25 1-35 1 7 1 20 1-45 1 41 1 2 1 2 1-21 1 4 1 22 1-17 1-12 1 8 1-8 1 24 1-20 1 4 1 3 1-54 1 44 1-14 1 29 1 4 1-25 1-5 1 1 1 28 1-25 1 16 1-8 1-25 1 33 1-3 1-21 1 15 1-3 1-2 1-15 1 29 1-53 1 16 1 15 1 21 1-34 1 8 1 4 1-9 1 7 1 3 1 19 1-21 1 0 1 4 1-21 1 26 1-19 1 3 1 3 1 0 1-10 1-2 1 20 1-5 1-40 1 28 1 1 1 5 1-1 1 16 1-20 1 13 1-24 1-5 1 22 1-19 1 11 1-26 1 3 1 44 1-30 1 0 1 1 1 2 1 5 1 13 1-22 1 22 1-3 1-20 1-8 1 18 1-3 1 11 1-2 1-9 1-9 1 13 1-11 1 4 1 6 1-7 1 2 1-2 1-4 1 8 1 5 1-20 1 9 1 25 1-3 1-17 1 5 1 1 1-20 1 1 1 37 1-23 1 15 1-16 1 20 1-2 1-31 1 47 1-20 1-33 1 24 1-13 1 9 1 5 1-17 1 21 1-32 1 33 1 4 1-14 1 5 1-2 1 15 1-32 1 6 1 19 1 0 1-33 1 10 1 14 1-11 1-19 1 1 1 21 1-3 1-2 1 1 1 17 1-16 1 25 1-34 1 19 1-4 1-11 1 14 1-2 1-10 1-1 1-8 1 32 1-15 1 2 1 6 1-18 1-13 1 9 1 5 1 11 1 13 1 1 1-9 1-5 1-24 1 22 1-4 1-14 1 13 1-33 1 38 1-11 1 28 1-19 1-4 1 7 1-17 1-4 1-14 1 0 1 16 1 23 1-9 1-6 1-20 1-4 1 5 1-3 1 6 1-16 1 19 1 13 1-26 1-1 1-4 1 4 1 4 1-7 1-4 1 3 1-6 1-3 1-10 1-2 1-19 1 34 1-27 1 11 1-4 1 1 1-3 1-2 1 22 1-13 1-2 1 6 1-15 1 5 1-16 1 3 1 18 1-19 1 6 1-3 1 4 1 7 1-14 1-6 1 6 1-17 1-4 1 26 1-4 1-33 1 14 1 20 1-4 1-8 1-9 1 20 1-9 1 1 1-3 1 1 1-15 1-7 1 6 1-12 1 18 1 0 1-18 1 20 1-3 1-8 1 18 1-10 1-26 1 25 1 6 1-23 1 1 1 6 1-1 1 1 1-21 1 18 1 3 1 4 1-9 1 3 1-11 1-2 1 7 1-1 1-18 1 21 1-6 1-27 1-3 1 28 1-11 1 22 1-16 1 7 1 11 1-22 1-5 1 32 1-30 1 0 1-9 1 14 1 3 1-10 1 0 1-4 1 37 1-14 1 9 1-7 1 5 1 1 1-10 1 14 1 0 1-8 1 19 1-4 1-2 1 11 1-18 1 26 1-5 1-17 1 33 1 0 1-24 1 28 1-1 1 7 1-2 1 23 1 10 1-45 1 20 1 14 1-17 1 17 1 12 1-5 1-23 1 25 1 6 1-4 1 21 1 5 1-35 1 9 1 12 1 18 1-3 1 4 1-7 1-9 1 12 1 13 1 5 1-9 1 1 1 2 1 17 1-12 1 2 1-11 1 39 1-16 1-7 1-8 1-13 1 21 1 14 1 10 1-5 1 0 1-3 1 5 1-13 1 31 1-20 1-28 1 7 1 20 1 8 1-7 1 13 1-17 1 2 1 8 1 10 1 11 1-14 1 4 1-13 1 21 1-23 1 24 1-19 1 1 1-9 1 22 1 7 1-23 1 19 1 2 1-5 1 10 1-3 1-12 1-4 1-2 1 11 1 8 1 5 1-4 1-1 1-6 1 1 1 5 1-14 1 18 1-10 1-10 1 23 1-25 1 5 1-2 1 28 1-16 1-1 1-11 1 33 1-22 1-23 1 17 1 4 1 3 1-12 1 14 1 0 1-2 1-3 1-14 1 40 1-34 1 32 1-18 1 2 1-1 1-1 1-2 1-32 1 26 1-8 1 18 1-14 1 2 1-14 1 21 1-6 1-8 1 9 1 16 1-29 1 13 1-22 1 33 1 7 1-30 1 7 1-13 1 10 1 11 1 9 1-36 1 11 1-12 1 17 1 8 1 4 1-16 1 10 1-13 1-3 1 14 1-27 1-12 1 13 1-6 1 13 1-6 1 10 1-29 1 24 1-13 1 11 1-1 1-26 1-7 1 11 1 15 1-11 1-11 1-6 1-1 1 20 1-41 1-9 1 23 1-12 1-18 1 15 1-12 1 12 1-19 1-2 1 0 1 1 1 4 1 7 1-16 1-17 1 31 1 13 1-7 1-15 1-17 1-1 1 8 1-12 1-5 1-17 1-8 1 7 1-19 1-35 1 32 1-5 1 9 1-24 1-41 1 29 1-3 1-40 1 16 1-14 1-17 1 19 1 0 1-13 1-13 1-12 1-33 1-2 1-17 1-26 1-20 1 2 1-6 1-3 1-39 1 14 1-8 1 4 1-23 1 9 1 5 1-21 1 2 1 0 1-21 1 17 1-6 1 21 1-27 1-13 1 17 1 2 1 29 1-26 1 3 1-2 1 23 1-8 1 25 1-19 1 33 1-18 1 25 1-8 1-5 1 12 1 23 1-34 1 63 1 7 1 20 1-32 1 40 1 15 1-9 1 3 1 0 1 41 1 5 1 17 1 7 1 4 1-15 1 35 1 19 1-45 1 63 1-13 1 19 1-8 1 15 1 6 1-16 1 25 1-11 1 8 1 14 1 7 1 15 1-16 1 27 1 11 1 3 1-29 1 25 1-19 1-6 1 39 1-13 1 0 1-2 1 6 1 28 1-11 1 11 1-18 1 6 1-2 1 9 1 3 1 1 1-8 1 19 1-7 1-7 1 21 1-10 1 26 1 3 1-20 1 8 1 15 1-6 1-20 1 18 1 12 1-7 1-22 1 26 1 9 1-29 1 19 1 9 1-17 1 43 1-52 1 25 1 13 1-48 1 17 1 30 1-28 1 1 1 26 1-3 1-1 1 22 1-17 1 17 1-15 1 9 1-8 1-2 1-4 1 22 1-21 1 3 1-18 1-4 1 23 1 5 1-14 1-1 1 7 1 15 1-22 1 27 1-8 1 3 1-19 1 6 1-14 1 25 1 24 1-26 1 11 1 4 1-40 1-2 1 38 1-37 1 30 1 17 1-13 1 4 1-9 1-1 1 11 1-2 1-7 1 17 1-14 1 20 1-7 1-5 1-16 1 0 1-3 1 32 1-3 1-20 1 23 1 10 1-34 1-4 1 13 1 13 1-39 1 21 1-11 1 12 1 26 1-24 1-17 1 9 1-12 1 19 1-20 1 22 1-10 1 8 1 0 1 4 1-28 1 12 1 2 1-6 1-2 1 4 1-26 1 18 1 7 1 6 1-10 1 11 1 17 1-17 1-8 1-11 1 19 1-28 1 14 1 7 1-14 1 3 1 2 1 7 1 6 1-5 1-15 1 8 1 4 1 2 1-7 1-2 1 10 1 12 1-27 1 13 1-3 1-19 1 23 1-14 1 25 1-9 1-10 1 24 1-3 1 8 1-30 1 2 1 0 1 11 1-26 1 12 1 1 1 29 1-16 1 6 1 8 1-11 1 10 1-2 1-6 1-19 1 19 1 1 1 1 1-14 1 1 1 0 1 11 1-3 1 8 1 3 1-14 1 10 1-14 1 28 1 3 1-7 1-24 1-9 1 31 1-24 1 28 1-2 1 5 1-8 1 2 1 2 1-14 1 13 1 2 1-18 1-10 1 32 1-38 1 16 1-3 1 2 1-11 1 24 1-7 1-3 1-6 1 1 1-14 1 8 1 5 1-24 1 34 1-5 1 9 1 15 1-18 1-27 1-19 1 6 1 17 1-13 1-1 1 36 1-21 1-24 1 16 1-22 1 1 1 0 1 4 1-10 1-11 1 21 1-9 1-2 1-2 1 11 1-13 1-3 1 1 1-30 1 29 1 5 1-41 1 38 1-16 1 18 1-27 1-3 1 6 1-1 1 45 1-23 1-21 1 35 1-28 1 1 1-16 1 35 1-10 1 12 1-18 1 22 1-48 1 44 1-25 1 21 1 10 1 7 1-24 1 13 1 9 1 3 1-1 1-21 1 18 1 27 1-15 1 1 1 0 1-20 1 40 1 8 1-17 1 6 1 2 1-12 1 13 1-19 1 30 1-34 1 23 1-18 1 37 1 3 1-10 1 9 1-3 1 18 1-15 1 1 1-1 1 14 1-15 1-26 1 9 1 5 1 26 1 4 1 2 1-10 1-28 1 32 1-27 1 25 1 0 1 15 1 20 1-34 1 17 1-23 1-6 1 24 1-9 1 14 1 8 1-3 1-21 1 5 1 5 1-12 1 9 1-21 1-5 1 25 1 12 1-10 1 17 1-16 1-15 1 28 1-18 1 17 1-11 1-4 1-8 1 4 1 0 1-10 1 19 1-21 1 16 1 8 1 3 1-14 1-10 1 16 1-12 1 22 1-13 1-16 1 10 1-13 1 6 1 10 1-1 1 2 1-6 1-11 1 25 1-8 1-4 1-9 1 8 1-8 1 19 1-12 1 4 1 1 1 8 1 15 1-20 1-24 1 36 1-27 1 29 1-32 1 16 1-5" stroke="#ff6600"/>
<path transform="translate(136,0) scale(0.6,0.5)" vector-effect="non-scaling-stroke" d="M0 2920 l1-2 1-6 1-19 1-2 1 18 1-8 1-3 1-5 1 24 1-16 1-3 1 18 1-49 1 33 1 25 1-27 1-1 1 12 1-45 1-10 1-6 1 4 1 10 1 47 1-16 1-22 1 35 1-11 1 22 1-19 1 7 1-15 1 20 1 2 1 6 1 21 1-22 1 4 1-17 1-12 1 8 1 2 1 7 1 5 1-10 1-7 1-5 1 9 1 6 1-14 1 20 1 15 1-14 1-21 1 8 1-39 1-10 1-6 1 4 1 10 1 33 1 18 1-3 1 1 1-5 1-4 1 3 1 26 1-8 1-8 1 33 1-30 1-2 1-8 1 10 1-6 1 7 1 19 1-29 1 21 1 4 1-16 1 12 1-9 1 21 1-29 1 10 1 16 1-13 1-10 1-10 1-10 1-12 1 10 1 10 1 45 1-28 1-13 1 22 1 12 1 22 1-45 1 1 1 22 1-9 1 1 1 29 1-28 1-9 1 11 1 20 1-31 1 19 1-8 1 0 1 21 1-29 1 23 1 6 1-25 1 21 1-14 1 7 1-11 1 7 1 19 1-14 1-9 1 10 1-13 1 0 1 23 1-31 1 9 1-9 1 11 1 16 1-11 1-11 1 17 1-18 1 27 1 6 1-10 1-4 1-21 1 14 1-2 1-1 1 3 1 1 1 30 1-23 1 5 1-24 1 19 1-24 1 21 1-8 1 8 1 2 1 13 1-23 1 27 1-9 1-9 1 21 1-14 1-20 1 12 1 15 1-29 1 37 1-29 1 7 1-3 1 7 1 2 1-7 1-1 1-2 1 9 1 6 1-20 1 23 1-15 1-9 1 22 1-17 1 17 1-22 1 8 1 14 1-17 1 15 1-9 1-3 1 3 1 1 1 16 1-21 1-11 1-6 1 26 1-5 1 4 1-27 1 8 1 25 1-6 1 2 1-17 1 22 1-7 1-21 1 19 1 9 1-2 1 4 1 13 1-23 1-12 1 20 1-22 1 29 1-7 1-10 1 19 1 11 1-38 1 44 1-20 1-9 1-19 1 32 1-21 1 14 1-27 1-11 1 8 1 14 1-3 1 2 1 10 1-6 1-18 1 31 1-11 1-10 1 3 1 2 1 12 1 30 1-47 1 13 1 14 1-33 1-4 1 28 1 1 1-25 1-7 1 13 1 1 1-7 1-6 1-9 1-30 1 45 1-35 1 7 1 0 1-1 1-13 1 31 1-23 1-1 1 12 1-5 1 2 1-10 1-19 1-4 1-6 1 7 1 8 1 1 1-14 1 23 1-31 1-14 1-19 1 13 1-17 1-7 1-2 1 4 1-18 1-29 1 10 1-6 1-4 1-37 1-9 1-18 1 15 1-3 1-41 1-9 1-9 1-12 1-27 1-8 1 8 1-36 1 3 1 11 1-19 1-5 1-12 1-10 1 3 1 3 1 13 1 6 1 10 1-2 1 15 1 25 1 28 1 1 1 18 1-17 1 58 1 1 1 20 1 10 1 20 1 21 1 17 1 11 1-6 1 12 1 16 1 13 1 14 1-16 1 26 1-13 1 21 1 14 1-6 1-32 1 44 1-17 1 8 1 41 1-32 1 13 1-10 1 12 1-23 1 14 1-13 1-14 1 0 1 2 1-1 1-12 1 4 1-30 1 32 1-38 1 8 1-18 1-10 1-6 1 4 1 10 1 35 1-28 1 24 1-5 1 5 1 12 1 5 1-11 1 30 1 5 1-26 1 14 1-5 1 12 1-10 1-3 1 11 1-40 1 20 1-14 1 6 1-3 1-7 1-21 1-3 1-9 1-5 1-4 1-13 1-1 1 0 1-10 1-4 1 8 1 1 1-6 1 7 1-28 1 14 1 5 1-9 1 3 1-11 1 8 1-8 1-4 1 13 1 13 1-14 1-6 1-2 1-2 1-2 1 15 1-19 1-15 1 8 1-17 1-8 1-2 1-10 1-11 1 5 1-21 1-7 1-16 1 20 1-25 1-2 1 15 1-17 1-4 1 4 1-13 1-14 1-9 1 26 1-33 1 9 1 18 1-34 1-43 1 47 1-41 1 2 1 8 1-5 1-12 1-11 1-19 1 6 1-10 1 28 1-29 1-13 1-6 1-17 1-13 1-4 1-6 1-19 1 3 1-10 1-58 1 1 1 11 1-9 1-33 1-8 1-3 1-29 1-13 1 10 1-23 1-6 1-61 1-3 1-37 1-36 1-37 1-39 1-39 1-46 1-47 1-43 1-43 1-49 1-48 1-55 1-59 1-59 1-64 1-65 1-67 1-70 1-76 1-80 1-81 1-88 1-81 1-83 1-76 1-72 1-63 1-57 1-45 1-46 1-40 1-43 1-38 1-37 1-36 1-30 1-28 1-20 1-16 1-13 1 1 1 5 1 21 1 28 1 39 1 43 1 42 1 49 1 52 1 50 1 52 1 55 1 65 1 72 1 79 1 78 1 86 1 81 1 79 1 78 1 77 1 64 1 62 1 58 1 52 1 53 1 49 1 48 1 49 1 50 1 56 1 60 1 63 1 61 1 66 1 55 1 55 1 46 1 32 1 29 1 15 1 14 1 13 1 11 1 13 1 12 1 17 1 36 1-10 1 42 1-2 1 31 1 6 1 29 1-5 1 25 1 36 1 24 1 0 1 23 1-2 1-9 1 40 1-9 1 3 1 5 1 5 1 22 1 13 1 11 1-28 1 34 1 14 1-1 1-5 1 28 1-2 1 10 1-3 1 20 1-14 1 35 1-9 1 2 1 4 1 10 1 7 1-3 1 14 1-6 1-8 1 6 1 13 1 11 1-3 1 3 1-12 1-28 1 16 1 50 1-5 1-15 1-28 1 9 1 20 1 21 1 27 1-42 1 5 1 2 1-4 1 12 1-1 1-20 1 46 1-16 1 21 1-12 1 11 1 21 1-6 1-33 1 38 1-17 1 1 1 4 1 0 1 2 1 3 1 13 1-8 1 2 1 23 1-23 1-15 1 20 1-2 1 10 1-19 1 6 1 1 1 28 1-40 1 16 1 18 1-28 1-2 1 4 1 27 1-32 1 24 1 4 1-22 1 11 1 13 1-24 1 4 1 27 1-17 1 9 1-10 1 14 1-7 1 6 1-16 1 25 1-14 1-12 1 22 1-8 1 17 1-8 1-19 1 13 1 1 1 1 1 11 1 13 1-19 1-19 1 19 1-15 1 19 1-21 1 13 1 7 1 9 1-10 1 2 1-2 1 32 1-37 1 1 1 7 1 10 1-25 1 11 1 5 1 7 1-30 1 23 1-5 1 5 1 5 1 2 1-10 1-12 1 26 1-11 1 3 1-29 1 17 1-18 1 13 1 32 1-31 1 21 1-37 1 48 1-31 1 8 1-10 1 3 1 9 1-15 1 7 1 4 1 8 1 7 1-21 1-10 1 7 1-10 1 21 1 2 1-9 1 7 1-10 1 21 1-6 1-2 1 2 1-10 1-13 1 33 1-18 1-20 1 10 1 18 1-26 1 21 1-5 1 2 1-4 1 4 1-19 1 13 1-11 1 10 1 6 1-12 1 0 1 30 1-30 1 21 1-35 1 28 1-19 1 3 1 9 1-19 1 14 1-6 1 14 1-22 1 20 1-23 1 2 1 18 1-17 1 4 1 23 1-28 1-8 1 8 1 20 1-29 1 15 1-32 1 35 1-39 1 8 1-4 1 35 1-6 1-10 1-12 1 1 1-8 1-3 1-14 1 16 1 13 1-8 1-37 1 19 1-4 1-14 1-14 1 19 1-26 1 8 1 31 1-30 1-2 1-15 1 2 1-5 1-12 1 5 1 11 1-7 1 8 1-8 1-1 1 12 1-17 1-24 1 15 1 15 1 1 1-13 1-3 1 35 1-20 1 21 1-7 1 4 1 5 1 0 1 2 1 11 1-12 1 33 1-2 1-6 1 5 1-2 1 26 1-6 1 0 1-8 1 31 1-6 1-22 1 25 1 9 1-14 1 17 1-23 1 33 1-6 1-2 1 2 1-11 1 21 1-11 1-10 1 4 1 1 1 3 1 45 1-41 1 17 1-17 1 38 1-31 1 9 1-17 1 34 1-9 1-18 1 11 1-9 1 15 1 0 1-16 1-7 1 11 1 10 1 4 1-9 1 12 1-17 1 23 1-10 1-11 1-4 1 4 1-3 1 14 1-6 1 22 1-35 1 23 1 32 1-32 1 6 1-3 1-11 1 13 1-21 1 19 1-8 1-5 1-19 1 40 1-17 1-6 1-4 1 10 1 2 1 7 1 7 1-24 1-13 1 38 1-9 1-2 1-11 1-6 1-18 1 19 1 1 1-9 1 24 1-13 1-10 1 1 1 41 1-47 1 22 1 6 1 0 1-20 1-5 1 35 1-39 1 23 1 3 1 1 1 6 1-37 1 21 1 4 1-2 1-3 1-6 1 11 1-7 1 0 1-13 1 17 1-16 1 7 1 22 1-14 1 13 1-23 1 15 1 7 1-21 1-3 1 8 1 16 1-8 1-5 1 6 1-21 1 13 1-9 1-11 1 35 1-22 1-30 1 19 1-4 1-3 1-21 1-3 1 5 1 13 1 9 1-16 1 20 1-20 1 37 1-28 1-26 1 23 1-10 1-24 1 7 1 12 1 1 1-10 1 1 1 13 1-5 1-15 1 5 1-13 1 10 1 2 1 20 1-32 1-2 1-3 1-11 1-7 1 15 1-9 1 22 1-25 1 6 1-18 1 28 1 1 1 5 1-22 1-20 1 0 1 21 1 11 1-12 1 11 1-22 1 17 1 0 1-11 1-9 1 7 1-15 1-7 1 29 1-13 1-3 1-5 1-18 1 2 1-2 1-4 1-13 1 2 1 8 1-3 1-23 1 41 1-27 1 18 1-1 1-9 1-17 1 13 1-39 1 26 1 12 1-21 1 26 1-9 1-4 1-24 1 38 1-29 1 6 1-3 1-21 1 16 1-14 1 3 1 5 1-21 1 4 1-4 1 4 1-4 1 14 1-24 1-13 1-7 1 8 1 16 1 19 1-24 1 5 1-1 1 11 1 6 1-6 1 2 1 15 1-47 1 41 1-22 1 1 1 12 1 5 1-37 1 40 1-3 1-13 1 2 1-24 1 16 1-20 1 6 1 21 1-22 1 21 1-5 1-5 1 18 1-14 1 13 1 30 1-15 1 11 1-3 1 14 1-19 1-7 1 43 1-15 1 2 1-2 1-2 1-4 1 9 1-9 1 4 1-4 1 16 1 14 1-27 1-2 1 0 1 14 1 23 1-23 1-11 1 8 1-4 1 12 1-7 1 21 1-22 1 15 1-16 1-10 1-7 1 29 1-16 1 4 1-27 1 21 1 3 1 10 1 8 1-12 1 12 1-11 1-2 1 15 1 7 1-12 1-7 1 7 1 7 1 6 1-16 1 3 1-2 1 9 1-22 1 17 1-21 1 13 1 26 1-20 1 2 1-2 1 1 1 11 1-12 1 2 1 4 1-5 1-4 1 1 1 16 1-16 1-6 1-4 1-6 1 20 1-3 1 20 1-8 1-31 1 19 1 4 1-4 1-12 1 8 1 0 1 10 1-15 1 8 1-4 1-21 1-3 1 7 1-4 1-17 1-3 1 6 1 0 1-18 1 7 1 7 1-21 1-4 1-11 1 23 1-14 1-29 1 19 1-20 1 24 1-29 1 9 1-8 1 12 1-27 1 9 1-11 1-12 1 19 1-35 1 21 1 6 1-18 1-4 1-4 1 6 1 19 1-22 1 14 1-15 1 8 1 9 1-16 1 32 1-17 1 2 1 37 1-36 1 46 1-18 1 19 1 13 1-18 1 24 1 4 1-2 1 27 1 2 1-1 1 24 1-14 1 14 1 13 1-13 1 22 1 6 1-9 1 13 1-29 1 35 1 14 1-27 1 19 1-16 1 42 1-25 1 5 1 10 1-8 1 8 1-16 1 1 1 12 1-7 1 5 1 18 1-19 1 1 1 9 1-14 1-2 1-12 1 2 1 24 1-5 1 1 1-14 1 18 1-23 1-3 1-7 1 27 1-11 1 0 1-4 1 4 1-35 1 13 1-22 1-7 1 38 1-13 1-7 1 14 1-1 1 5 1-9 1 4 1-11 1 5 1-19 1 32 1-6 1 8 1-20 1-20 1 20 1 4 1-10 1 34 1 13 1-17 1 29 1-12 1 14 1-9 1-28 1 26 1 16 1-18 1 26 1-4 1 4 1-4 1 28 1-40 1 28 1-15 1 14 1-18 1 8 1 19 1-21 1 34 1-22 1-12 1 45 1-40 1 24 1-10 1 3 1 8 1-6 1-2 1 2 1 13 1-23 1-21 1 34 1 19 1-10 1-29 1 12 1 15 1-24 1 1 1 8 1 23 1-16 1-6 1-5 1 22 1-1 1 1 1-26 1-15 1 1 1 44 1-12 1 2 1-5 1 3 1 6 1-7 1-4 1-6 1 7 1-6 1-15 1 9 1 1 1 11 1-23 1 13 1-15 1 3 1-8 1 6 1-11 1 10 1-42 1 25 1 8 1-45 1 32 1-20 1-12 1 27 1-24 1 18 1-16 1 4 1 1 1-9 1 9 1-14 1 24 1-46 1 17 1-6 1-4 1-24 1 43 1-31 1 2 1 0 1-27 1 16 1-15 1 10 1-29 1 35 1-25 1-14 1 1 1-13 1 7 1-32 1 43 1-51 1-2 1 23 1-50 1 16 1-36 1 23 1-30 1 8 1-7 1-22 1 0 1-18 1-9 1-6 1-26 1 9 1-40 1 17 1-20 1 10 1-18 1-23 1 4 1-9 1-26 1-7 1-12 1-6 1-6 1-11 1-12 1-14 1-1 1-3 1-14 1-24 1 26 1-34 1-1 1-5 1-28 1 18 1-11 1-10 1 1 1 1 1-18 1-26 1 23 1-10 1-20 1 27 1-12 1 16 1-2 1 63 1-11 1 11 1 30 1 5 1 13 1 14 1 26 1 7 1 19 1-1 1 14 1 29 1 21 1-21 1 31 1 22 1 6 1 20 1 12 1-15 1 8 1 35 1 10 1 17 1-14 1 35 1 6 1-2 1 46 1-35 1 37 1-1 1 28 1 28 1-25 1-13 1 31 1-4 1-20 1 42 1 17 1-21 1-4 1 24 1 0 1 6 1 15 1-26 1 10 1 7 1 3 1 17 1-6 1 10 1 2 1 4 1-15 1 17 1 1 1 8 1-7 1 10 1-4 1 15 1 2 1-8 1 21 1-14 1 1 1 5 1-1 1 3 1 11 1-9 1 27 1-8 1 6 1-25 1 8 1 27 1 13 1-30 1 1 1-3 1 4 1 12 1-23 1 6 1 16 1-7 1 7 1-1 1 7 1 1 1-19 1 18 1-22 1 12 1-1 1-11 1 37 1-8 1-5 1 8 1-1 1-4 1-9 1 37 1-20 1-13 1 36 1-46 1 15 1 9 1-3 1-8 1-3 1 7 1 3 1-2 1-2 1-6 1-7 1 45 1-15 1-18 1 24 1-29 1 24 1-17 1 36 1-38 1 15 1-32 1 32 1-5 1-14 1 19 1-23 1 9 1 27 1-11 1-13 1-1 1 7 1-10 1 4 1 22 1-3 1-35 1 18 1-2 1 3 1-2 1 9 1-7 1 11 1-22 1 11 1-1 1-3 1 5 1 20 1-23 1-2 1-10 1-3 1 17 1 13 1-6 1-17 1 21 1 4 1 5 1-8 1-14 1-7 1 14 1 10 1-12 1-6 1 13 1-20 1 20 1-6 1 0 1-15 1 21 1 9 1-26 1 16 1-11 1-6 1 11 1 19 1-27 1 9 1-15 1-8 1 10 1 11 1-1 1-5 1-7 1 9 1-30 1 15 1-11 1 16 1 7 1-26 1 23 1-8 1 1 1 9 1-26 1 20 1-8 1-12 1 34 1-7 1-10 1-2 1-4 1 7 1-23 1 11 1 22 1-10 1-25 1-8 1 31 1-7 1-7 1 3 1-7 1 10 1-6 1 8 1 9 1-11 1-7 1 19 1-7 1 6 1-2 1-13 1-11 1 16 1 9 1-8 1-23 1 30 1-32 1 17 1 14 1 11 1-8 1-30 1 36 1-17 1 15 1-31 1 15 1 1 1 11 1-26 1 34 1-23 1-9 1-2 1 34 1-32 1 2 1 12 1 3 1-15 1 7 1-15 1 33 1-24 1 26 1-26 1 32 1-29 1 32 1-39 1 23 1 0 1-15 1-1 1-14 1 6 1 15 1-11 1 14 1 8 1-14 1-11 1 17 1-20 1 33 1-21 1 11 1-8 1 13 1-15 1-18 1 30 1-19 1-6 1-11 1 20 1 5 1 9 1-9 1 0 1-3 1 11 1-6 1-24 1 14 1-2 1 5 1-13 1 11 1-21 1 31 1 1 1 1 1-23 1-7 1 21 1-11 1 17 1-7 1-1 1-2 1-10 1 6 1 16 1-13 1-9 1-1 1 9 1 17 1-14 1 9 1 4 1 16 1-12 1-12 1 16 1-19 1 12 1-3 1-15 1-18 1 13 1-15 1 15 1 5 1 2 1-8 1-17 1 16 1-10 1-2 1 3 1 10 1-4 1 6 1-12 1-4 1 3 1-4 1 13 1-1 1 0 1-13 1 1 1 7 1-28 1 49 1-19 1 0 1-7 1 31 1-35 1-12 1 18 1 10 1 19 1-33 1-16 1 8 1-2 1 10 1 26 1-30 1 11 1-19 1-13 1 15 1 1 1 2 1-10 1 22 1-10 1-14 1 3 1 1 1 13 1-7 1-1 1-13 1 17 1 13 1-24 1-6 1-2 1 9 1-5 1-1 1 10 1-22 1 16 1-7 1 13 1-13 1-3 1 1 1-1 1 3 1-19 1-7 1 33 1-16 1 11 1-5 1-14 1-2 1 17 1 6 1-52 1 30 1 2 1-15 1 7 1-2 1 0 1-2 1 6 1-26 1 29 1-9 1 18 1-17 1-2 1-15 1 13 1 7 1-30 1 6 1-1 1 9 1 3 1 0 1-12 1 27 1-35 1 10 1-7 1-3 1 36 1-33 1-4 1 9 1 12 1-12 1 10 1-3 1 1 1 1 1 1 1 1 1 13 1 0 1-9 1-3 1-13 1 22 1-5 1 10 1-13 1-10 1-1 1 0 1 29 1-26 1 6 1 17 1-30 1 20 1-16 1 12 1 7 1-12 1 5 1-3 1-9 1 15 1-6 1 30 1-40 1 21 1-13 1-5 1-1 1 13 1-3 1-7 1 28 1-18 1 10 1-10 1 10 1-4 1-4 1-15 1 14 1-7 1 17 1-25 1 5 1 19 1-8 1-3 1 39 1-34 1 10 1 51 1-64 1 16 1 6 1-12 1 5 1 20 1 1 1-4 1 17 1-8 1-8 1-14 1 28 1 0 1-17 1 27 1-9 1 0 1 0 1 11 1-18 1 19 1-21 1 21 1 3 1 3 1 5 1-3 1 4 1-2 1-3 1 0 1 33 1-16 1 1 1-1 1-10 1 17 1-10 1-20 1 21 1-29 1 48 1-31 1 14 1-22 1 3 1 6 1 20 1-6 1-19 1 10 1 21 1-29 1 9 1 22 1-22 1 5 1 4 1-1 1-3 1 17 1 9 1-15 1-4 1 4 1 0 1 7 1-11 1 1 1-10 1 15 1-3 1-9 1 7 1-10 1 22 1 6 1-30 1 19 1-1 1-2 1-18 1 3 1 11 1-5 1-12 1 43 1-34 1-2 1 11 1-1 1 1 1-7 1 16 1-7 1-3 1-12 1 17 1-2 1-18 1 30 1-17 1-11 1 17 1 9 1-7 1 16 1-3 1-2 1-25 1 8 1 2 1-23 1 26 1-14 1 0 1 20 1-5 1-18 1 3 1 19 1-17 1 25 1-22 1 36 1-36 1-37 1 16 1 25 1-24 1 1 1 8 1-1 1-4 1-12 1-9 1 26 1-26 1 10 1 6 1-19 1 3 1 25 1 4 1-11 1 4 1-16 1 34 1-42 1 4 1 14 1 2 1 3 1-12 1 33 1-51 1 25 1-4 1 14 1-33 1 10 1 26 1-19 1-6 1 6 1 4 1-8 1-8 1 34 1-4 1-5 1-17 1-1 1-17 1-8 1 25 1-33 1-13 1-9 1-20 1 8 1-43 1 35 1-14 1-23 1 24 1-9 1-7 1-9 1 10 1-20 1 2 1 5 1-9 1 2 1-8 1 2 1-18 1-1 1 6 1-8 1-19 1-6 1 2 1-9 1-16 1-24 1 2 1-7 1-11 1-7 1-46 1 25 1-28 1 8 1-20 1-18 1-11 1-37 1 21 1 24 1-30 1-4 1 1 1 0 1-40 1 14 1-10 1-7 1 11 1-18 1 0 1-2 1 11 1-55 1 43 1-6 1 4 1 1 1 22 1 4 1-15 1 2 1-1 1 5 1 4 1-4 1 3 1 13 1 3 1-27 1 26 1 18 1-3 1-4 1 9 1 26 1 5 1-12 1 1 1 9 1 18 1 15 1 33 1 21 1-6 1 24 1-1 1 36 1-14 1-12 1 31 1-8 1 30 1 0 1 32 1-31 1 24 1-15 1 16 1-4 1 20 1-31 1 30 1-45 1 23 1 28 1 12 1-18 1 10 1 1 1 29 1-23 1 10 1 34 1 14 1-24 1 16 1-9 1 27 1-23 1-18 1 45 1-1 1-11 1 23 1-5 1 8 1-5 1-7 1 17 1 0 1 1 1-22 1 28 1 30 1-15 1 6 1-14 1-16 1 22 1 1 1-10 1 14 1-15 1-1 1 43 1-7 1-27 1 26 1 9 1-18 1 2 1 3 1-4 1-20 1 34 1-7 1 18 1-24 1 14 1-9 1 16 1-3 1-8 1 10 1-6 1 25 1-25 1 1 1-1 1 4 1 4 1 12 1 7 1-28 1 8 1 2 1 9 1 13 1-49 1 21 1 13 1 0 1-9 1 21 1 3 1-12 1 16 1-18 1-7 1 22 1-25 1 2 1 2 1 6 1-24 1 24 1 2 1 0 1 14 1-3 1 0 1-33 1 31 1-2 1 10 1 20 1-28 1-2 1-4 1 10 1 7 1-18 1 9 1 0 1 8 1-13 1 18 1-30 1 0 1 4 1 6 1-9 1-13 1 33 1-16 1 5 1 12 1-11 1 5 1-16 1 26 1 1 1-15 1 8 1-27 1 45 1-36 1-8 1 7 1 5 1-1 1 17 1-5 1-12 1 3 1 6 1-2 1 5 1-12 1-1 1 10 1-23 1 9 1 19 1-14 1 1 1 15 1-27 1 13 1 7 1-7 1 21 1-15 1-10 1 10 1 27 1-18 1 9 1-43 1 45 1-22 1-7 1 21 1-24 1 19 1 17 1-12 1 4 1-12 1-7 1 14 1 3 1-26 1 42 1-32 1 21 1 2 1-7 1-13 1 10 1-7 1 12 1-34 1 22 1-4 1 8 1 2 1-19 1-2 1 23 1-18 1 24 1 20 1-34 1 5 1-1 1 18 1 12 1-26 1 26 1-40 1 17 1 13 1-1 1-3 1 15 1-12 1 11 1-20 1 20 1-12 1-2 1-1 1-8 1-8 1-7 1 45 1-9 1-4 1-31 1 25 1-3 1 10 1-24 1 16 1-1 1-21 1 8 1 10 1-8 1-20 1 30 1 4 1-12 1 1 1-5 1-10 1 3 1-29 1 46 1-23 1-4 1 9 1-5 1 5 1-5 1-31 1 12 1 27 1-28 1 13 1 10 1-5 1-13 1 12 1-15 1 0 1-11 1-5 1 17 1-11 1 36 1-61 1 3 1 25 1-14 1 6 1 1 1-2 1-6 1-7 1 2 1 12 1 26 1-32 1-2 1-30 1 32 1 1 1 5 1-17 1 24 1-33 1 9 1 17 1-8 1-8 1 12 1-5 1 15 1-4 1 0 1 10 1-4 1-13 1 32 1-7 1-22 1 40 1-15 1-5 1 1 1 9 1-17 1 2 1 40 1-25 1 16 1 4 1-8 1 10 1-18 1-2 1 29 1 0 1-5 1-13 1 14 1 15 1-25 1 6 1-22 1 23 1 15 1 14 1-27 1-4 1 17 1 10 1-40 1 43 1-10 1-7 1 16 1-20 1-3 1 23 1-17 1 7 1-16 1 32 1-15 1-3 1-8 1 0 1 24 1-11 1-6 1-17 1 14 1-2 1 29 1-34 1 10 1-13 1 27 1-11 1 3 1-2 1-6 1 4 1-2 1 7 1-4 1 29 1-16 1-12 1 9 1-7 1 25 1-17 1 18 1-54 1 48 1-7 1-23 1 3 1 8 1 7 1-4 1 5 1-18 1 20 1-4 1 17 1-20 1 27 1 0 1-17 1-14 1-2 1 0 1 3 1 7 1-5 1 4 1-24 1 27 1-14 1 11 1-16 1 6 1 17 1-19 1 12 1 17 1-25 1-21 1 23 1-5 1 8 1 12" stroke="#7e4f4f"/>
</g>
<line x1="1310" y1="28.7" x2="1310" y2="1019.8" stroke="#6a6a6a" stroke-width="2.4"/>
<line x1="1131" y1="127.8" x2="1822" y2="127.8" stroke="#6a6a6a" stroke-width="2.4"/>
<line x1="1131" y1="226.9" x2="1310" y2="226.9" stroke="#6a6a6a" stroke-width="2.4"/>
<line x1="1131" y1="326.0" x2="1822" y2="326.0" stroke="#6a6a6a" stroke-width="2.4"/>
<line x1="1131" y1="425.1" x2="1310" y2="425.1" stroke="#6a6a6a" stroke-width="2.4"/>
<line x1="1131" y1="524.2" x2="1310" y2="524.2" stroke="#6a6a6a" stroke-width="2.4"/>
<line x1="1131" y1="623.4" x2="1310" y2="623.4" stroke="#6a6a6a" stroke-width="2.4"/>
<line x1="1131" y1="722.5" x2="1822" y2="722.5" stroke="#6a6a6a" stroke-width="2.4"/>
<line x1="1131" y1="821.6" x2="1310" y2="821.6" stroke="#6a6a6a" stroke-width="2.4"/>
<line x1="1131" y1="920.7" x2="1310" y2="920.7" stroke="#6a6a6a" stroke-width="2.4"/>
<line x1="1130.8" y1="26" x2="1130.8" y2="1021.8" stroke="#000" stroke-width="3.6"/>
<line x1="1129" y1="1019.8" x2="1825" y2="1019.8" stroke="#000" stroke-width="4"/>
<line x1="1129" y1="28.7" x2="1825" y2="28.7" stroke="#000" stroke-width="3.6"/>
<text x="1220.5" y="93.5" text-anchor="middle" font-family="Noto Sans CJK SC, Liberation Sans, sans-serif" font-weight="500" font-size="37.5" fill="#000">T</text>
<text x="1567" y="95.2" text-anchor="middle" letter-spacing="-0.3" font-family="Noto Sans CJK SC, Liberation Sans, sans-serif" font-weight="500" font-size="37.5" fill="#000">Crystalline phase</text>
<text x="1221" y="192.7" text-anchor="middle" letter-spacing="1" font-family="Noto Sans CJK SC, Liberation Sans, sans-serif" font-weight="500" font-size="37.5" fill="#000">300 °C</text>
<text x="1221" y="291.8" text-anchor="middle" letter-spacing="1" font-family="Noto Sans CJK SC, Liberation Sans, sans-serif" font-weight="500" font-size="37.5" fill="#000">400 °C</text>
<text x="1221" y="390.9" text-anchor="middle" letter-spacing="1" font-family="Noto Sans CJK SC, Liberation Sans, sans-serif" font-weight="500" font-size="37.5" fill="#000">450 °C</text>
<text x="1221" y="490.0" text-anchor="middle" letter-spacing="1" font-family="Noto Sans CJK SC, Liberation Sans, sans-serif" font-weight="500" font-size="37.5" fill="#000">475 °C</text>
<text x="1221" y="589.1" text-anchor="middle" letter-spacing="1" font-family="Noto Sans CJK SC, Liberation Sans, sans-serif" font-weight="500" font-size="37.5" fill="#000">500 °C</text>
<text x="1221" y="688.2" text-anchor="middle" letter-spacing="1" font-family="Noto Sans CJK SC, Liberation Sans, sans-serif" font-weight="500" font-size="37.5" fill="#000">525 °C</text>
<text x="1221" y="787.4" text-anchor="middle" letter-spacing="1" font-family="Noto Sans CJK SC, Liberation Sans, sans-serif" font-weight="500" font-size="37.5" fill="#000">550 °C</text>
<text x="1221" y="886.5" text-anchor="middle" letter-spacing="1" font-family="Noto Sans CJK SC, Liberation Sans, sans-serif" font-weight="500" font-size="37.5" fill="#000">575 °C</text>
<text x="1221" y="985.6" text-anchor="middle" letter-spacing="1" font-family="Noto Sans CJK SC, Liberation Sans, sans-serif" font-weight="500" font-size="37.5" fill="#000">600 °C</text>
<text x="1566" y="242.4" text-anchor="middle" font-family="Noto Sans CJK SC, Liberation Sans, sans-serif" font-weight="500" font-size="37.5" fill="#000">Amorpphis</text>
<text x="1568" y="538.6" text-anchor="middle" font-family="Noto Sans CJK SC, Liberation Sans, sans-serif" font-weight="500" font-size="37.5" fill="#000">La<tspan font-size="26" dy="8">2</tspan><tspan dy="-8">O</tspan><tspan font-size="26" dy="8">2</tspan><tspan dy="-8">CO</tspan><tspan font-size="26" dy="8">3</tspan></text>
<text x="1568" y="886.3" text-anchor="middle" font-family="Noto Sans CJK SC, Liberation Sans, sans-serif" font-weight="500" font-size="37.5" fill="#000">La<tspan font-size="26" dy="8">2</tspan><tspan dy="-8">O</tspan><tspan font-size="26" dy="8">2</tspan><tspan dy="-8">CO</tspan><tspan font-size="26" dy="8">3</tspan><tspan dy="-8">; LaNiO</tspan><tspan font-size="26" dy="8">3</tspan></text>
<rect x="131.25" y="22.25" width="1693.95" height="2258.75" fill="none" stroke="#000" stroke-width="9.5"/>
<rect x="338.4" y="2256" width="9.5" height="22" fill="#000"/>
<rect x="761.8" y="2256" width="9.5" height="22" fill="#000"/>
<rect x="1185.0" y="2256" width="9.5" height="22" fill="#000"/>
<rect x="1608.3" y="2256" width="9.5" height="22" fill="#000"/>
<rect x="550.1" y="2268.5" width="9.5" height="10" fill="#000"/>
<rect x="973.4" y="2268.5" width="9.5" height="10" fill="#000"/>
<rect x="1396.7" y="2268.5" width="9.5" height="10" fill="#000"/>
<polygon points="459.8,37.0 475.8,59.0 459.8,81.0 443.8,59.0" fill="#000"/>
<polygon points="820.3,1307.0 836.3,1329.0 820.3,1351.0 804.3,1329.0" fill="#000"/>
<polygon points="1068.8,1090.0 1084.8,1112.0 1068.8,1134.0 1052.8,1112.0" fill="#000"/>
<polygon points="1541.0,1178.0 1557.0,1200.0 1541.0,1222.0 1525.0,1200.0" fill="#000"/>
<polygon points="330.0,1160.5 335.4,1177.1 352.8,1177.1 338.7,1187.3 344.1,1203.9 330.0,1193.7 315.9,1203.9 321.3,1187.3 307.2,1177.1 324.6,1177.1" fill="#fff" stroke="#000" stroke-width="2.7" stroke-linejoin="bevel"/>
<polygon points="963.7,1355.0 969.1,1371.6 986.5,1371.6 972.4,1381.8 977.8,1398.4 963.7,1388.2 949.6,1398.4 955.0,1381.8 940.9,1371.6 958.3,1371.6" fill="#fff" stroke="#000" stroke-width="2.7" stroke-linejoin="bevel"/>
<polygon points="1370.0,1346.0 1375.4,1362.6 1392.8,1362.6 1378.7,1372.8 1384.1,1389.4 1370.0,1379.2 1355.9,1389.4 1361.3,1372.8 1347.2,1362.6 1364.6,1362.6" fill="#fff" stroke="#000" stroke-width="2.7" stroke-linejoin="bevel"/>
<polygon points="324.1,1691.6 329.5,1708.2 346.9,1708.2 332.8,1718.4 338.2,1735.0 324.1,1724.8 310.0,1735.0 315.4,1718.4 301.3,1708.2 318.7,1708.2" fill="#fff" stroke="#000" stroke-width="2.7" stroke-linejoin="bevel"/>
<polygon points="385.0,1723.6 390.4,1740.2 407.8,1740.2 393.7,1750.4 399.1,1767.0 385.0,1756.8 370.9,1767.0 376.3,1750.4 362.2,1740.2 379.6,1740.2" fill="#fff" stroke="#000" stroke-width="2.7" stroke-linejoin="bevel"/>
<circle cx="657.7" cy="1387.3" r="14.4" fill="none" stroke="#000" stroke-width="3.2"/>
<circle cx="913.3" cy="1300.5" r="14.4" fill="none" stroke="#000" stroke-width="3.2"/>
<circle cx="1741.0" cy="1418.7" r="14.4" fill="none" stroke="#000" stroke-width="3.2"/>
<text transform="translate(343.2,2354.8) scale(0.94,1)" x="0" y="0" text-anchor="middle" font-size="61" font-family="Liberation Sans, Arial, sans-serif" font-weight="bold" fill="#000">30</text>
<text transform="translate(766.5,2354.8) scale(0.94,1)" x="0" y="0" text-anchor="middle" font-size="61" font-family="Liberation Sans, Arial, sans-serif" font-weight="bold" fill="#000">40</text>
<text transform="translate(1189.8,2354.8) scale(0.94,1)" x="0" y="0" text-anchor="middle" font-size="61" font-family="Liberation Sans, Arial, sans-serif" font-weight="bold" fill="#000">50</text>
<text transform="translate(1613.1,2354.8) scale(0.94,1)" x="0" y="0" text-anchor="middle" font-size="61" font-family="Liberation Sans, Arial, sans-serif" font-weight="bold" fill="#000">60</text>
<text x="977" y="2411.9" text-anchor="middle" font-size="84" font-family="Liberation Sans, Arial, sans-serif" font-weight="bold" fill="#000">2θ (°)</text>
<text transform="translate(82.3,1151) rotate(-90)" x="0" y="0" text-anchor="middle" font-size="84" font-family="Liberation Sans, Arial, sans-serif" font-weight="bold" fill="#000">Intensity (a.u.)</text>
</svg>
</body></html>
